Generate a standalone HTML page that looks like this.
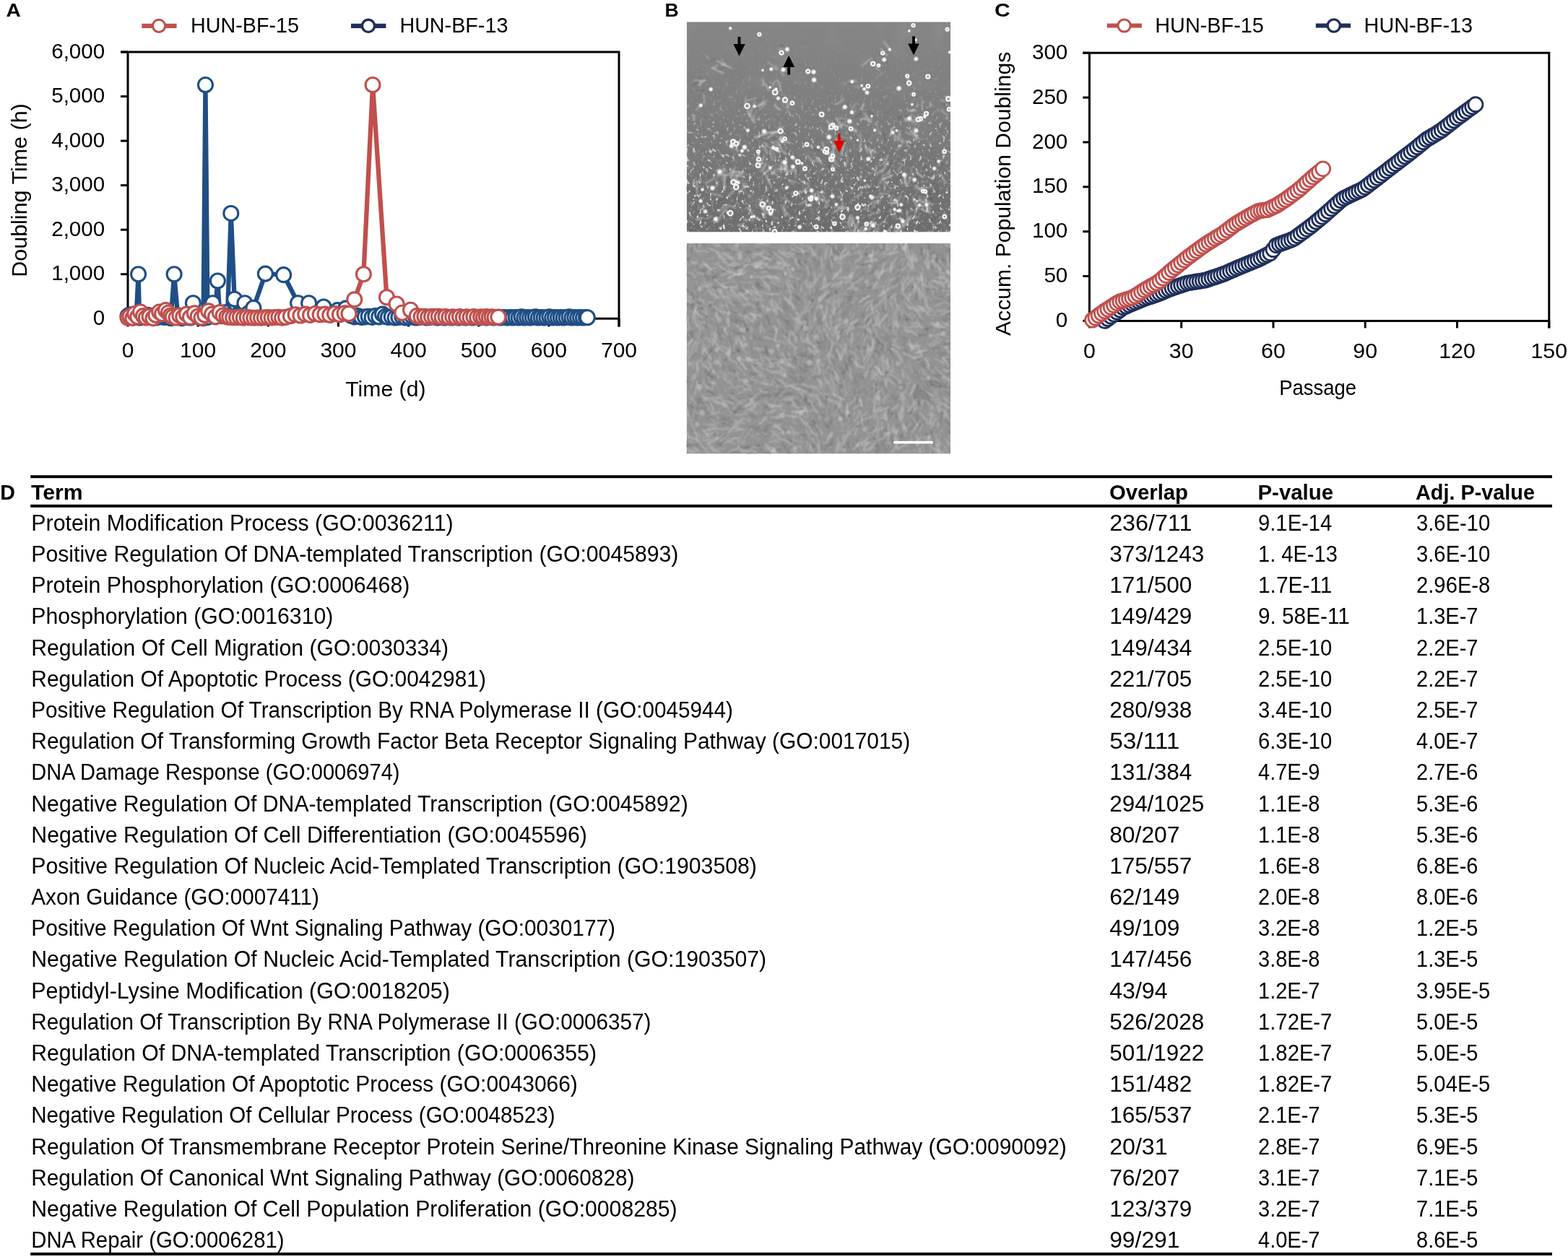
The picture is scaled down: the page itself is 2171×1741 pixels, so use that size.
<!DOCTYPE html>
<html><head><meta charset="utf-8"><title>Figure</title>
<style>html,body{margin:0;padding:0;background:#fff;}body{width:2171px;height:1741px;overflow:hidden;}svg{display:block;}path.s0{fill:none;stroke:rgb(176,176,176);stroke-width:1.6;opacity:0.7;stroke-linecap:round}path.s1{fill:none;stroke:rgb(216,216,216);stroke-width:1.2;opacity:0.7;stroke-linecap:round}path.s2{fill:none;stroke:rgb(224,224,224);stroke-width:1.2;opacity:0.7;stroke-linecap:round}path.s3{fill:none;stroke:rgb(192,192,192);stroke-width:1.6;opacity:0.7;stroke-linecap:round}path.s4{fill:none;stroke:rgb(96,96,96);stroke-width:1.2;opacity:0.55;stroke-linecap:round}path.s5{fill:none;stroke:rgb(184,184,184);stroke-width:1.2;opacity:0.7;stroke-linecap:round}path.s6{fill:none;stroke:rgb(224,224,224);stroke-width:2;opacity:0.7;stroke-linecap:round}path.s7{fill:none;stroke:rgb(88,88,88);stroke-width:1.6;opacity:0.55;stroke-linecap:round}path.s8{fill:none;stroke:rgb(184,184,184);stroke-width:2;opacity:0.7;stroke-linecap:round}path.s9{fill:none;stroke:rgb(176,176,176);stroke-width:1.2;opacity:0.7;stroke-linecap:round}path.s10{fill:none;stroke:rgb(192,192,192);stroke-width:2;opacity:0.7;stroke-linecap:round}path.s11{fill:none;stroke:rgb(208,208,208);stroke-width:2;opacity:0.7;stroke-linecap:round}path.s12{fill:none;stroke:rgb(224,224,224);stroke-width:1.6;opacity:0.7;stroke-linecap:round}path.s13{fill:none;stroke:rgb(80,80,80);stroke-width:1.2;opacity:0.55;stroke-linecap:round}path.s14{fill:none;stroke:rgb(200,200,200);stroke-width:1.6;opacity:0.7;stroke-linecap:round}path.s15{fill:none;stroke:rgb(208,208,208);stroke-width:1.6;opacity:0.7;stroke-linecap:round}path.s16{fill:none;stroke:rgb(200,200,200);stroke-width:2;opacity:0.7;stroke-linecap:round}path.s17{fill:none;stroke:rgb(184,184,184);stroke-width:1.6;opacity:0.7;stroke-linecap:round}path.s18{fill:none;stroke:rgb(88,88,88);stroke-width:1.2;opacity:0.55;stroke-linecap:round}path.s19{fill:none;stroke:rgb(96,96,96);stroke-width:1.6;opacity:0.55;stroke-linecap:round}path.s20{fill:none;stroke:rgb(216,216,216);stroke-width:1.6;opacity:0.7;stroke-linecap:round}path.s21{fill:none;stroke:rgb(208,208,208);stroke-width:1.2;opacity:0.7;stroke-linecap:round}path.s22{fill:none;stroke:rgb(216,216,216);stroke-width:2;opacity:0.7;stroke-linecap:round}path.s23{fill:none;stroke:rgb(176,176,176);stroke-width:2;opacity:0.7;stroke-linecap:round}path.s24{fill:none;stroke:rgb(200,200,200);stroke-width:1.2;opacity:0.7;stroke-linecap:round}path.s25{fill:none;stroke:rgb(192,192,192);stroke-width:1.2;opacity:0.7;stroke-linecap:round}path.s26{fill:none;stroke:rgb(80,80,80);stroke-width:1.6;opacity:0.55;stroke-linecap:round}path.s27{fill:none;stroke:rgb(232,232,232);stroke-width:1.2;opacity:0.7;stroke-linecap:round}path.s28{fill:none;stroke:rgb(232,232,232);stroke-width:2;opacity:0.7;stroke-linecap:round}path.s29{fill:none;stroke:rgb(232,232,232);stroke-width:1.6;opacity:0.7;stroke-linecap:round}path.s30{fill:none;stroke:rgb(112,112,112);stroke-width:2;opacity:0.5;stroke-linecap:round}path.s31{fill:none;stroke:rgb(192,192,192);stroke-width:2;opacity:0.55;stroke-linecap:round}path.s32{fill:none;stroke:rgb(112,112,112);stroke-width:1.2;opacity:0.5;stroke-linecap:round}path.s33{fill:none;stroke:rgb(200,200,200);stroke-width:2.4;opacity:0.55;stroke-linecap:round}path.s34{fill:none;stroke:rgb(208,208,208);stroke-width:2;opacity:0.55;stroke-linecap:round}path.s35{fill:none;stroke:rgb(184,184,184);stroke-width:2;opacity:0.55;stroke-linecap:round}path.s36{fill:none;stroke:rgb(176,176,176);stroke-width:2.4;opacity:0.55;stroke-linecap:round}path.s37{fill:none;stroke:rgb(96,96,96);stroke-width:1.2;opacity:0.5;stroke-linecap:round}path.s38{fill:none;stroke:rgb(104,104,104);stroke-width:1.6;opacity:0.5;stroke-linecap:round}path.s39{fill:none;stroke:rgb(176,176,176);stroke-width:2;opacity:0.55;stroke-linecap:round}path.s40{fill:none;stroke:rgb(176,176,176);stroke-width:1.6;opacity:0.55;stroke-linecap:round}path.s41{fill:none;stroke:rgb(120,120,120);stroke-width:1.6;opacity:0.5;stroke-linecap:round}path.s42{fill:none;stroke:rgb(200,200,200);stroke-width:2;opacity:0.55;stroke-linecap:round}path.s43{fill:none;stroke:rgb(192,192,192);stroke-width:1.6;opacity:0.55;stroke-linecap:round}path.s44{fill:none;stroke:rgb(200,200,200);stroke-width:1.6;opacity:0.55;stroke-linecap:round}path.s45{fill:none;stroke:rgb(112,112,112);stroke-width:1.6;opacity:0.5;stroke-linecap:round}path.s46{fill:none;stroke:rgb(192,192,192);stroke-width:2.4;opacity:0.55;stroke-linecap:round}path.s47{fill:none;stroke:rgb(96,96,96);stroke-width:2;opacity:0.5;stroke-linecap:round}path.s48{fill:none;stroke:rgb(208,208,208);stroke-width:2.4;opacity:0.55;stroke-linecap:round}path.s49{fill:none;stroke:rgb(184,184,184);stroke-width:1.6;opacity:0.55;stroke-linecap:round}path.s50{fill:none;stroke:rgb(104,104,104);stroke-width:1.2;opacity:0.5;stroke-linecap:round}path.s51{fill:none;stroke:rgb(184,184,184);stroke-width:2.4;opacity:0.55;stroke-linecap:round}path.s52{fill:none;stroke:rgb(208,208,208);stroke-width:1.6;opacity:0.55;stroke-linecap:round}path.s53{fill:none;stroke:rgb(96,96,96);stroke-width:1.6;opacity:0.5;stroke-linecap:round}path.s54{fill:none;stroke:rgb(120,120,120);stroke-width:1.2;opacity:0.5;stroke-linecap:round}path.s55{fill:none;stroke:rgb(120,120,120);stroke-width:2;opacity:0.5;stroke-linecap:round}path.s56{fill:none;stroke:rgb(104,104,104);stroke-width:2;opacity:0.5;stroke-linecap:round}.rc{fill:rgb(150,150,150);stroke:rgb(245,245,245);stroke-width:2.2;filter:url(#bl2)}.rb{fill:url(#rg)}.dd{fill:rgb(90,90,90);opacity:.65}.lr{fill:none;stroke:rgb(210,210,210);stroke-width:1.3;opacity:.8}</style>
</head><body>
<svg width="2171" height="1741" viewBox="0 0 2171 1741">
<rect width="2171" height="1741" fill="#fff"/>
<defs>
<clipPath id="cpt"><rect x="950.8" y="30.3" width="365.2" height="291.2"/></clipPath>
<clipPath id="cpb"><rect x="950.8" y="337" width="365.2" height="291.5"/></clipPath>
<filter id="nz" x="0" y="0" width="100%" height="100%"><feTurbulence type="fractalNoise" baseFrequency="0.035 0.03" numOctaves="2" seed="3"/><feColorMatrix type="matrix" values="0 0 0 0 0.5  0 0 0 0 0.5  0 0 0 0 0.5  0.8 0 0 0 -0.4"/></filter>
<filter id="nz2" x="0" y="0" width="100%" height="100%"><feTurbulence type="fractalNoise" baseFrequency="0.25 0.18" numOctaves="2" seed="9"/><feColorMatrix type="matrix" values="0 0 0 0 0.59  0 0 0 0 0.59  0 0 0 0 0.59  1.6 0 0 0 -0.8"/></filter>
<filter id="bl" x="-5%" y="-5%" width="110%" height="110%"><feGaussianBlur stdDeviation="0.95"/></filter>
<filter id="bl2" x="-100%" y="-100%" width="300%" height="300%"><feGaussianBlur stdDeviation="0.7"/></filter>
<filter id="bl3" x="-5%" y="-5%" width="110%" height="110%"><feGaussianBlur stdDeviation="0.85"/></filter>
<linearGradient id="tgrad" x1="0" y1="0" x2="0" y2="1"><stop offset="0" stop-color="rgb(134,134,134)"/><stop offset="0.45" stop-color="rgb(125,125,125)"/><stop offset="1" stop-color="rgb(108,108,108)"/></linearGradient>
<linearGradient id="tmg" x1="0" y1="0" x2="0" y2="1"><stop offset="0" stop-color="#fff" stop-opacity="0"/><stop offset="0.35" stop-color="#fff" stop-opacity="0.15"/><stop offset="0.6" stop-color="#fff" stop-opacity="0.7"/><stop offset="1" stop-color="#fff" stop-opacity="1"/></linearGradient>
<mask id="tmask" maskUnits="userSpaceOnUse" x="950.8" y="30.3" width="365.2" height="291.2"><rect x="950.8" y="30.3" width="365.2" height="291.2" fill="url(#tmg)"/></mask>
<filter id="spk" x="0" y="0" width="100%" height="100%"><feTurbulence type="fractalNoise" baseFrequency="0.22 0.16" numOctaves="2" seed="21"/><feColorMatrix type="matrix" values="0 0 0 0 1  0 0 0 0 1  0 0 0 0 1  8 0 0 0 -4.9"/><feGaussianBlur stdDeviation="0.6"/></filter>
<filter id="spkd" x="0" y="0" width="100%" height="100%"><feTurbulence type="fractalNoise" baseFrequency="0.2 0.2" numOctaves="2" seed="33"/><feColorMatrix type="matrix" values="0 0 0 0 0.3  0 0 0 0 0.3  0 0 0 0 0.3  0 -8 0 0 3.4"/><feGaussianBlur stdDeviation="0.6"/></filter>
<radialGradient id="rg"><stop offset="0" stop-color="#fff" stop-opacity="1"/><stop offset="0.45" stop-color="#f4f4f4" stop-opacity="0.95"/><stop offset="1" stop-color="#ddd" stop-opacity="0"/></radialGradient>
</defs>
<g clip-path="url(#cpt)">
<rect x="950.8" y="30.3" width="365.2" height="291.2" fill="url(#tgrad)"/>
<rect x="950.8" y="30.3" width="365.2" height="291.2" filter="url(#nz)" opacity="0.35"/>
<rect x="950.8" y="30.3" width="365.2" height="291.2" filter="url(#spk)" mask="url(#tmask)" opacity="0.8"/>
<rect x="950.8" y="30.3" width="365.2" height="291.2" filter="url(#spkd)" mask="url(#tmask)" opacity="0.6"/>
<g filter="url(#bl)">
<path class="s0" d="M1150.1 209.3Q1151.3 213.8 1149.6 222.3"/>
<path class="s1" d="M1166.8 206Q1165.8 212.3 1165.3 216.2"/>
<path class="s2" d="M1150.3 214Q1149.5 217.9 1153.3 222.1"/>
<path class="s2" d="M1154.2 222.5Q1156.8 224.9 1157.9 228.3"/>
<path class="s3" d="M1154.9 229.2Q1155.1 230.4 1154.7 235.6"/>
<path class="s4" d="M1171.5 210.9Q1175.8 214.2 1176 217.9"/>
<path class="s5" d="M1150.3 211.6Q1148.3 213.9 1148.1 221"/>
<path class="s6" d="M1154.7 211.7Q1155.7 215.8 1154.9 223"/>
<path class="s7" d="M1065.6 271.9Q1070.3 276.5 1077.9 283.6"/>
<path class="s8" d="M1054.4 285.9Q1056.1 290.2 1062.6 295.9"/>
<path class="s7" d="M1047.6 285.7Q1045.4 291.8 1046.7 293.7"/>
<path class="s9" d="M1068.8 293.1Q1070 299.5 1072.3 306.2"/>
<path class="s3" d="M1085.9 288.8Q1088.8 295.9 1094.2 299.8"/>
<path class="s10" d="M1086 273.3Q1090.7 277.9 1093.9 281.3"/>
<path class="s11" d="M1059.3 285.7Q1060.3 288.5 1065.6 294.6"/>
<path class="s4" d="M1065.2 286.8Q1068.2 291.4 1068.9 295.7"/>
<path class="s12" d="M1085.8 282.5Q1084.2 291.5 1087.3 299.1"/>
<path class="s2" d="M1229.1 214.7Q1228.1 222.6 1223.1 226.8"/>
<path class="s8" d="M1222 235.7Q1215.8 236.9 1214.4 242.5"/>
<path class="s13" d="M1235.5 223.4Q1232.5 229.3 1228.6 235.7"/>
<path class="s4" d="M1211.6 235.3Q1213.4 236.5 1210.7 241.5"/>
<path class="s14" d="M1231.8 236.9Q1227 241.6 1225.6 242.3"/>
<path class="s3" d="M1222.7 241.7Q1222 249.1 1218.3 253.9"/>
<path class="s10" d="M1213.3 229.7Q1213.9 237.1 1211 241"/>
<path class="s6" d="M1235.7 242.3Q1228.2 245.5 1221.9 248.5"/>
<path class="s15" d="M1231.6 234.9Q1233.1 235.7 1230.8 241.2"/>
<path class="s16" d="M1101.7 239.1Q1100.3 242.8 1102.8 246.3"/>
<path class="s17" d="M1093.2 250Q1093.5 252.7 1098.7 255.7"/>
<path class="s18" d="M1100 241.7Q1103.6 245.7 1102.3 253"/>
<path class="s11" d="M1109.3 250.3Q1115 254.5 1119.5 254.6"/>
<path class="s18" d="M1223.3 286Q1215.3 290 1209.1 289.9"/>
<path class="s19" d="M1199.4 291.3Q1197.3 291.7 1191.1 294.9"/>
<path class="s19" d="M1193.7 298.8Q1188.1 298.8 1186.1 298.6"/>
<path class="s4" d="M1160.3 289.1Q1157.5 291.1 1154.5 295.2"/>
<path class="s10" d="M1165.9 285.4Q1162.7 291.1 1154.9 293.1"/>
<path class="s0" d="M1202.7 287.9Q1198.9 288.8 1194.7 289.7"/>
<path class="s15" d="M1217.7 294.7Q1207.7 294.8 1201.4 299.1"/>
<path class="s4" d="M1207 281.2Q1203 282.2 1199.1 284.8"/>
<path class="s17" d="M1185.5 142.5Q1181 147.5 1178.4 154"/>
<path class="s20" d="M1168.1 137.2Q1163.2 142.7 1156.2 144.4"/>
<path class="s4" d="M1174.8 141.2Q1172.3 147 1168.3 152.5"/>
<path class="s18" d="M1192.9 156.9Q1187.1 159.9 1184.5 161.9"/>
<path class="s6" d="M1195.9 143.5Q1195.2 146.3 1192.2 151.4"/>
<path class="s4" d="M979 297Q977 300.6 970 300.8"/>
<path class="s2" d="M1005 287.3Q998 288.9 994.6 293.6"/>
<path class="s14" d="M985.7 299.8Q983.3 299.3 979.1 303.1"/>
<path class="s15" d="M976.7 285.4Q975 288.4 971.2 288"/>
<path class="s6" d="M971.6 301.7Q969.8 302.3 965.2 304.6"/>
<path class="s18" d="M1001 273.5Q996.1 279.9 991.2 281.4"/>
<path class="s16" d="M1004.4 291.3Q997.9 297.2 995.2 304.7"/>
<path class="s21" d="M1063.2 85.6Q1069.8 90.6 1074.7 97.3"/>
<path class="s8" d="M1081.6 97.7Q1081.6 101 1085.3 105.2"/>
<path class="s3" d="M1073.4 90.6Q1073.7 92.7 1077 96.1"/>
<path class="s20" d="M1186.9 315Q1183.9 316 1181.2 320.3"/>
<path class="s3" d="M1171.4 320.5Q1170.2 325.9 1170.9 330.9"/>
<path class="s6" d="M1180 333.2Q1178.5 333.9 1179.6 339.3"/>
<path class="s18" d="M1194.8 317.4Q1194.8 322.6 1192.5 329.6"/>
<path class="s12" d="M1151.9 318.6Q1154.1 325.6 1151.9 330.4"/>
<path class="s14" d="M1183.5 314.1Q1184.6 316.9 1182 321.2"/>
<path class="s8" d="M1177.4 304.9Q1176.9 312.5 1177.2 317.3"/>
<path class="s10" d="M1181.7 305.6Q1184.4 314 1184.2 321.2"/>
<path class="s22" d="M1180.6 300.9Q1179.6 307.7 1181.2 310"/>
<path class="s4" d="M948.4 259.6Q954 261.6 963 266.2"/>
<path class="s19" d="M949.7 260.7Q954.5 261.8 963.6 266.8"/>
<path class="s4" d="M950.9 244.2Q953.9 244.6 960.3 248.4"/>
<path class="s23" d="M1258.5 104.7Q1256.7 110.5 1259.1 119.2"/>
<path class="s17" d="M1257.4 103.5Q1256 112.2 1257.4 119.2"/>
<path class="s15" d="M1071.3 186.6Q1066.4 188.4 1062.5 191.3"/>
<path class="s13" d="M1066.6 183.7Q1060.7 184.4 1058.8 185.5"/>
<path class="s10" d="M1074.4 181.7Q1073.5 183 1069.2 185.1"/>
<path class="s6" d="M1078 183Q1068 184 1062.1 183.7"/>
<path class="s6" d="M1061.6 184.7Q1053.3 187.2 1046.6 190.1"/>
<path class="s15" d="M1206.1 256.6Q1200.6 260.2 1191.2 259.3"/>
<path class="s1" d="M1222.7 273.5Q1213.4 272.1 1206.7 274.1"/>
<path class="s1" d="M1218.5 276.8Q1210.5 281.8 1206.9 288.8"/>
<path class="s5" d="M1233.7 263Q1230.6 265.3 1227.7 264.5"/>
<path class="s8" d="M1217.1 278.4Q1209.7 278.5 1205 281.9"/>
<path class="s10" d="M1229.7 268.5Q1225.5 268.5 1217.7 268.7"/>
<path class="s19" d="M1215.2 269Q1208.7 267.7 1204.9 270.1"/>
<path class="s19" d="M1216.2 250.5Q1214.3 259.4 1208.5 264.7"/>
<path class="s4" d="M1208.2 258.2Q1205.1 260.1 1203.8 264.5"/>
<path class="s15" d="M1277.6 139.3Q1275.5 147.4 1277.6 153"/>
<path class="s15" d="M1287.7 141.2Q1289.2 143.3 1287.4 148.2"/>
<path class="s15" d="M970 247.7Q967 251.9 964.4 252.4"/>
<path class="s10" d="M963.8 251Q965.8 258 964.8 267.9"/>
<path class="s22" d="M1073 144.9Q1074.5 149.2 1080.1 152.2"/>
<path class="s17" d="M1090.1 147.1Q1089.9 151.7 1093.8 159.1"/>
<path class="s20" d="M1086.8 132.6Q1087.5 138.8 1091.9 148"/>
<path class="s10" d="M1237.7 184.9Q1238.7 188.8 1239.2 195.6"/>
<path class="s17" d="M1237.9 175.1Q1235 181.7 1231.5 189.7"/>
<path class="s1" d="M1250.1 196.9Q1247.9 202.5 1241.3 207.5"/>
<path class="s11" d="M1246.1 181.4Q1244 190.3 1243.6 194.9"/>
<path class="s7" d="M1223.3 183Q1224.9 186.8 1226 194.9"/>
<path class="s10" d="M1030.3 303.4Q1036.8 305.7 1038.3 303.5"/>
<path class="s9" d="M1048.4 283Q1054.6 285.6 1058.2 291.6"/>
<path class="s22" d="M1021.6 311.7Q1026.1 313.2 1033.1 314"/>
<path class="s19" d="M1030 285.2Q1033.1 287 1040.2 290.4"/>
<path class="s21" d="M1036 286.4Q1040.7 292.9 1041.8 300.4"/>
<path class="s22" d="M1044.1 298.3Q1046.1 303.4 1052.8 304.4"/>
<path class="s14" d="M1034 288Q1037.5 289.4 1039.9 295.2"/>
<path class="s10" d="M1057.5 284.1Q1062.6 286.2 1063.6 287.8"/>
<path class="s0" d="M1170.6 286Q1166.3 285.3 1164.6 286.7"/>
<path class="s3" d="M1148 275.8Q1143.5 280.8 1141.6 287.8"/>
<path class="s13" d="M1137.5 278Q1130.4 277.5 1126.3 278.9"/>
<path class="s20" d="M1166.3 268.4Q1165.1 273.4 1160.2 273.4"/>
<path class="s16" d="M1190.8 268.2Q1188.3 272.7 1182.5 272.5"/>
<path class="s6" d="M1174.5 288.3Q1167 287.6 1163.7 289.7"/>
<path class="s17" d="M1159.4 290.1Q1154.6 294.5 1152 295.7"/>
<path class="s0" d="M1165.6 285.1Q1157.9 286.7 1152.4 287"/>
<path class="s13" d="M1146.6 270.4Q1143.3 275 1142.1 282.1"/>
<path class="s22" d="M994.1 243.2Q1002.2 241.3 1010.3 242.7"/>
<path class="s4" d="M1009.6 250.4Q1015.4 249.1 1017.9 246.4"/>
<path class="s18" d="M1015.8 233.4Q1019.7 235.8 1024.2 235.4"/>
<path class="s16" d="M995.1 233.9Q998 237.2 1003.8 235.9"/>
<path class="s2" d="M1016.3 246.6Q1021 243.7 1026.5 241.4"/>
<path class="s24" d="M1017.8 241.4Q1024.8 243.7 1029.7 244.7"/>
<path class="s18" d="M1008.8 249.9Q1013.7 248.5 1017.6 251.1"/>
<path class="s20" d="M1013 247.7Q1018.8 248.7 1025 251.4"/>
<path class="s6" d="M1014.7 238.4Q1024.3 237.3 1029 239.7"/>
<path class="s25" d="M1264.9 161.5Q1274.1 165.8 1280.6 167.8"/>
<path class="s18" d="M1277.6 155.5Q1280.5 159.6 1285.3 159.1"/>
<path class="s17" d="M1261 167.4Q1266.4 171.2 1270 171.3"/>
<path class="s24" d="M1247 269.9Q1243.7 276 1243.4 282.2"/>
<path class="s22" d="M1240.7 275.2Q1239 277.2 1240.5 281.4"/>
<path class="s13" d="M1242.2 287.4Q1242.5 296.8 1244.2 303.6"/>
<path class="s0" d="M1238 287.3Q1238.7 296.4 1241.2 302.7"/>
<path class="s15" d="M1233.8 274Q1232.4 278.4 1234.8 285.7"/>
<path class="s3" d="M1256.1 290.8Q1256.9 296 1256 304.8"/>
<path class="s1" d="M973.9 130.7Q976.2 136 974.3 144.1"/>
<path class="s15" d="M969.2 145Q968.4 146.8 964.6 152.5"/>
<path class="s22" d="M960.7 159.1Q960.4 162.8 961.1 166.8"/>
<path class="s18" d="M1285.9 263.5Q1286.1 273.3 1290.1 278.9"/>
<path class="s14" d="M1264.1 274.6Q1266.3 275.5 1270.9 281.2"/>
<path class="s11" d="M1275.9 288.9Q1281.6 293.5 1286.1 293.6"/>
<path class="s11" d="M1277.4 279.6Q1283.7 279 1288.9 282.7"/>
<path class="s9" d="M1260.7 290.3Q1264.3 290.3 1267.9 292.2"/>
<path class="s3" d="M1282.8 280.1Q1282.6 284 1287.3 287.5"/>
<path class="s18" d="M1286 262.5Q1295.1 265.7 1300.4 267"/>
<path class="s18" d="M1286.2 266.3Q1290.4 274.6 1292.8 278.3"/>
<path class="s20" d="M1270.3 259.2Q1274.1 262.9 1279.2 264.9"/>
<path class="s14" d="M1234.8 313.1Q1231 318.5 1228.2 324.1"/>
<path class="s12" d="M1257.2 309.3Q1254 309.4 1248.6 311.2"/>
<path class="s5" d="M1250.2 318.4Q1241.8 318.9 1237.2 317"/>
<path class="s13" d="M1239.5 327.2Q1234.3 330.5 1233.9 333"/>
<path class="s8" d="M1253.2 325.9Q1249.2 325.5 1243.3 328.7"/>
<path class="s4" d="M1260.1 325.5Q1252.9 330.6 1246.6 331.6"/>
<path class="s8" d="M1267.8 324Q1259.8 325.3 1254.6 324.4"/>
<path class="s10" d="M1242.1 326.6Q1233.6 328 1228.6 332.6"/>
<path class="s3" d="M1247.7 322.1Q1243.6 321 1238.7 322.2"/>
<path class="s9" d="M1240.5 318.6Q1235.9 322.8 1235.8 323.1"/>
<path class="s4" d="M1084 220.4Q1090.5 223.7 1092.6 223.4"/>
<path class="s23" d="M1098.4 220.1Q1105.3 225.7 1111.8 229.5"/>
<path class="s12" d="M1093.9 236.7Q1100.1 232.6 1101.6 233.4"/>
<path class="s4" d="M1106.7 221.6Q1113.5 222.8 1118.5 221"/>
<path class="s14" d="M1097.6 217.7Q1100.5 218.3 1102.5 221.6"/>
<path class="s1" d="M1091.8 249.6Q1096 249.3 1102.1 253.2"/>
<path class="s5" d="M1086.8 238.7Q1094.1 238.5 1100.8 236.4"/>
<path class="s18" d="M1072.3 199.3Q1076.8 201.9 1076.5 205.1"/>
<path class="s18" d="M1070.3 187.7Q1071.5 192.6 1073.8 193.4"/>
<path class="s16" d="M1078.4 201.9Q1081.6 208.4 1089.1 213.8"/>
<path class="s20" d="M1057.6 197.7Q1062 201.1 1063 202.5"/>
<path class="s14" d="M1068.8 196.1Q1071.8 201 1079.4 201.8"/>
<path class="s18" d="M1055.9 197.5Q1057.3 203.5 1058.9 204.6"/>
<path class="s12" d="M1264.1 153.2Q1262.6 154.1 1257.4 152.9"/>
<path class="s16" d="M1262.7 159.2Q1260.3 161.2 1253.4 165.8"/>
<path class="s26" d="M1258.8 160.3Q1252.5 161.9 1243.6 163"/>
<path class="s20" d="M1269.3 167Q1259.6 166.2 1252.8 167.4"/>
<path class="s6" d="M1268.1 153Q1267.1 151.7 1261.3 153.4"/>
<path class="s4" d="M1237.4 148Q1232.6 154.5 1225.8 157.5"/>
<path class="s10" d="M1120.5 258.6Q1114.2 264.2 1106 267.4"/>
<path class="s8" d="M1127 269.5Q1123 270.7 1117.9 274.1"/>
<path class="s27" d="M1116.9 277.1Q1110.4 282 1106.1 283.1"/>
<path class="s4" d="M1070 194.5Q1071.1 197.5 1073.5 199.6"/>
<path class="s26" d="M1061.1 204.4Q1063.2 208.4 1064.9 216.3"/>
<path class="s4" d="M1070.9 192.7Q1077.3 199.9 1078.8 203.9"/>
<path class="s23" d="M1074 196Q1078.5 198 1081.4 204.4"/>
<path class="s16" d="M1054.9 201.3Q1061 205 1062.1 213"/>
<path class="s2" d="M1079.5 189.5Q1084.6 194.2 1086.3 198.8"/>
<path class="s13" d="M1288.3 274.3Q1290 280.4 1293.1 283.2"/>
<path class="s15" d="M1264.3 276.6Q1267.2 282.9 1272 289.1"/>
<path class="s3" d="M1273.2 271.2Q1273.4 276.3 1276.2 280.6"/>
<path class="s15" d="M1280.3 282.4Q1285.8 289.3 1288.2 296.2"/>
<path class="s2" d="M1271.7 284.8Q1268.4 290.2 1265.9 300.4"/>
<path class="s4" d="M1278.8 270.3Q1280.4 276.3 1282.9 282.4"/>
<path class="s7" d="M1283.1 279.7Q1282.5 281.1 1284.3 286.5"/>
<path class="s20" d="M1291.9 310.1Q1294.3 316 1292 317.6"/>
<path class="s24" d="M1279.9 273Q1281 277.5 1282.4 283.4"/>
<path class="s26" d="M1023.6 201.3Q1022.7 206.3 1026.8 212.2"/>
<path class="s13" d="M1027.4 204.1Q1029.3 209.4 1027.8 217.7"/>
<path class="s6" d="M1019.6 203.1Q1018.5 205.1 1021.4 209.5"/>
<path class="s10" d="M1261.8 298.7Q1256.3 305.7 1255.3 311.5"/>
<path class="s22" d="M1288.1 320.6Q1279.6 323.4 1276.1 323.8"/>
<path class="s19" d="M1275.4 306.6Q1274.4 307.6 1271.5 312.2"/>
<path class="s26" d="M1237.8 323.9Q1232.8 325.4 1223.2 328.3"/>
<path class="s8" d="M1243.2 326.8Q1241.7 326.1 1236.5 329.5"/>
<path class="s11" d="M1060 143.6Q1056.3 144.9 1049.5 146"/>
<path class="s11" d="M1060.4 139.9Q1054.6 141.8 1052.2 145.2"/>
<path class="s23" d="M1047.5 135.5Q1038.7 138.4 1033.5 139.3"/>
<path class="s4" d="M1057.7 140.4Q1050.3 137.8 1045.4 139.7"/>
<path class="s17" d="M1057.9 146.5Q1054.5 149.4 1052 151.9"/>
<path class="s10" d="M1137.9 269.7Q1142.8 273.9 1142.9 279.4"/>
<path class="s16" d="M1132.4 265.9Q1133.2 273 1137.7 277.4"/>
<path class="s3" d="M1115.2 278Q1117.9 283.6 1117.1 287"/>
<path class="s0" d="M1143.1 278.1Q1144.6 281.3 1145.5 286.9"/>
<path class="s11" d="M1131.3 272.5Q1133.2 278.1 1131.5 280.2"/>
<path class="s4" d="M1225.3 318.7Q1219.8 322.5 1215.7 324.1"/>
<path class="s7" d="M1234.9 284.3Q1230.7 290.3 1225.8 292.1"/>
<path class="s22" d="M1252.7 310.7Q1245.1 317.7 1239.4 321"/>
<path class="s4" d="M1248 311.5Q1244 318.5 1235.1 320.8"/>
<path class="s18" d="M1286.3 266.4Q1296.4 263.3 1302.5 264.4"/>
<path class="s13" d="M1276.9 225.8Q1283.4 234.6 1285.7 239.7"/>
<path class="s7" d="M1291.9 220.2Q1297.8 222.5 1305.6 228.2"/>
<path class="s4" d="M1288.5 247.2Q1291.4 251.2 1299 259.9"/>
<path class="s18" d="M1271 243.4Q1271 247 1275.2 247.7"/>
<path class="s3" d="M1276.6 260.7Q1282.5 260.1 1290.9 258.6"/>
<path class="s10" d="M1276.5 258.6Q1278 261.5 1282.6 267.3"/>
<path class="s18" d="M1281.2 255.7Q1284.9 257.1 1288.4 260.9"/>
<path class="s7" d="M1071.7 178.7Q1066.2 179.7 1063.5 181.6"/>
<path class="s12" d="M1082.6 180Q1074 183 1066.2 184.3"/>
<path class="s0" d="M1084.3 175.1Q1083.3 177.6 1077.6 175.9"/>
<path class="s18" d="M1091.6 183.9Q1091.6 189.9 1087.8 191.2"/>
<path class="s28" d="M1084 188.7Q1080.6 192.2 1079.9 193.7"/>
<path class="s8" d="M1083.2 175.6Q1079.5 180.5 1078.2 180.9"/>
<path class="s10" d="M1073.4 111.8Q1069.5 116.6 1069.7 119.8"/>
<path class="s20" d="M1076.5 110.4Q1079.7 116.4 1081.5 126.3"/>
<path class="s12" d="M1056.1 110.6Q1058.2 117 1055.8 118.7"/>
<path class="s16" d="M1059.6 116.3Q1063.6 123.2 1064.3 125.5"/>
<path class="s3" d="M1254.4 183.4Q1260.8 185.3 1266 187.8"/>
<path class="s10" d="M1264.3 179.9Q1268.2 185.7 1268.2 194.8"/>
<path class="s22" d="M1264.4 183.6Q1268.9 186.8 1271.3 191.5"/>
<path class="s15" d="M1247.9 192.7Q1253.7 197.8 1259.4 204.1"/>
<path class="s8" d="M1240.3 188Q1241.6 191.2 1244.6 193"/>
<path class="s18" d="M1251.5 196.4Q1257.2 200.2 1265.7 200.6"/>
<path class="s7" d="M1148.6 222.7Q1147.3 226.1 1149.1 232.4"/>
<path class="s12" d="M1168.5 199.7Q1168 207.8 1164.4 212.9"/>
<path class="s22" d="M1155.5 202.2Q1153.7 209.9 1150.3 217.9"/>
<path class="s18" d="M1162.7 202.1Q1164.4 210.1 1170 213.2"/>
<path class="s16" d="M1138.3 197Q1141.3 204.7 1142.9 210"/>
<path class="s16" d="M1157.9 192.6Q1157.8 199 1153.2 204"/>
<path class="s17" d="M1172.7 208.2Q1171.8 217.2 1173.6 224.9"/>
<path class="s23" d="M1147.7 212.4Q1151.3 220.6 1153.2 224.4"/>
<path class="s18" d="M993.2 98.1Q1000.1 94.7 1006.7 93.4"/>
<path class="s14" d="M984.7 94Q989.5 94.6 994 90.8"/>
<path class="s20" d="M999.2 83Q1001.5 85.1 1004.5 87.5"/>
<path class="s5" d="M976.5 76.5Q980.1 81.8 983.2 82.1"/>
<path class="s4" d="M1027.4 247.8Q1023.3 248.3 1023.7 253.1"/>
<path class="s4" d="M1018.5 269.5Q1017.3 272.9 1016.5 275.2"/>
<path class="s21" d="M1022.2 243.3Q1021.4 246.3 1017 250.2"/>
<path class="s10" d="M1028.1 253.4Q1028.6 256.4 1030.2 259.8"/>
<path class="s28" d="M1004.2 245.8Q1001.9 253.2 1003.4 262.6"/>
<path class="s3" d="M1005.1 243.4Q1000.2 244.5 999.9 249.6"/>
<path class="s19" d="M1007.4 250.5Q1006.7 256 1006.8 263.4"/>
<path class="s26" d="M1011.4 239.3Q1008.5 246.8 1005.5 251.3"/>
<path class="s10" d="M1017.8 262.2Q1013.8 266.5 1008.2 271.4"/>
<path class="s14" d="M1033.1 254Q1029.4 260.9 1026.9 264.4"/>
<path class="s21" d="M1249.9 227.2Q1245.3 233.4 1243.2 237.5"/>
<path class="s18" d="M1270.8 242.1Q1268 246.6 1265.2 255.9"/>
<path class="s19" d="M1247.7 239.7Q1245.2 245.8 1241.1 254.1"/>
<path class="s16" d="M1254.9 242.4Q1253.1 245.9 1252 254.2"/>
<path class="s14" d="M1261.9 244.2Q1260.2 249.5 1255.3 256"/>
<path class="s4" d="M1238.6 240.6Q1239.2 246.4 1236.9 250.9"/>
<path class="s20" d="M1251.5 243.4Q1254.2 249.5 1254.6 257.8"/>
<path class="s7" d="M1246.9 234.1Q1245.7 239.6 1245.8 246.9"/>
<path class="s2" d="M1066.5 207.4Q1066.6 213.5 1070 222.8"/>
<path class="s3" d="M1066 235.9Q1074.1 239.4 1078.4 245.6"/>
<path class="s25" d="M1070.4 209.1Q1073.2 218.2 1074.3 223"/>
<path class="s22" d="M1061 242.8Q1062.1 247.8 1067.6 256.8"/>
<path class="s0" d="M1073.5 225.8Q1076.9 230.9 1084.7 233.2"/>
<path class="s25" d="M1073.8 232.2Q1074.7 234.3 1080.3 238.3"/>
<path class="s15" d="M1058.3 215.9Q1055.8 220.8 1054.3 225.7"/>
<path class="s23" d="M1086.3 228.3Q1082 231 1079.7 234.7"/>
<path class="s4" d="M1068.8 232Q1064.2 238.1 1057.6 242.3"/>
<path class="s11" d="M1060.5 225.9Q1059.3 230.2 1054.4 237.6"/>
<path class="s5" d="M1054.2 221.4Q1053 231.5 1051.7 236.7"/>
<path class="s12" d="M1072.6 235.4Q1071 240.7 1068.8 241.6"/>
<path class="s4" d="M1078.8 229.3Q1078.4 236.3 1080.6 243.4"/>
<path class="s0" d="M1059.4 238.6Q1056.4 242 1056.2 243.9"/>
<path class="s6" d="M1066.8 232.8Q1064.7 235.1 1057.9 240.5"/>
<path class="s1" d="M969.8 290.1Q975.7 289.8 978.3 292.7"/>
<path class="s14" d="M985.5 268.1Q993.8 269.6 1000.5 272.4"/>
<path class="s3" d="M1002.5 284.1Q1011.2 283.9 1018.1 288.1"/>
<path class="s20" d="M1194.4 314.4Q1191.4 316.1 1188 322.4"/>
<path class="s6" d="M1197.8 317.5Q1190.5 323.2 1186.4 328.8"/>
<path class="s14" d="M1188.3 307.9Q1186.5 312.8 1184.3 313"/>
<path class="s13" d="M1210.6 302.7Q1205.7 304.5 1198.6 310.8"/>
<path class="s10" d="M1178.7 298.1Q1174.6 305.3 1173.9 310.3"/>
<path class="s20" d="M1199.2 312.4Q1196.7 314.9 1197.2 321.3"/>
<path class="s0" d="M1220 323.5Q1214.9 327.5 1211 328.9"/>
<path class="s14" d="M1212.8 317Q1208.9 323.6 1209.8 326.2"/>
<path class="s29" d="M1202.5 205.6Q1206.8 210.5 1207 218.5"/>
<path class="s11" d="M1204 207.2Q1209.7 209.9 1213.6 211.7"/>
<path class="s14" d="M1190.7 184Q1192.1 193.9 1191.9 199.2"/>
<path class="s4" d="M1220.3 201.9Q1223.2 205.2 1225.3 211.4"/>
<path class="s29" d="M1190.8 200Q1190.5 205.4 1191.6 208.8"/>
<path class="s11" d="M1198 203.4Q1200.4 207.4 1200.8 210.1"/>
<path class="s4" d="M1225.7 80.1Q1222.4 83 1220.3 87.9"/>
<path class="s14" d="M1206.7 80.7Q1198.5 86.5 1193.9 91.2"/>
<path class="s9" d="M1221.9 99.5Q1219.5 102 1212.4 109"/>
<path class="s17" d="M1182.9 119.6Q1187.1 121.7 1190.3 120.6"/>
<path class="s3" d="M1174.2 113Q1179.4 110.8 1187.2 113"/>
<path class="s15" d="M1170.9 174.2Q1180.2 176.5 1186.5 180.9"/>
<path class="s5" d="M1158.9 185.4Q1167.2 190.4 1173.8 191.8"/>
<path class="s2" d="M1164 170.4Q1165.8 171.5 1171.1 173.4"/>
<path class="s5" d="M1158 164.6Q1167.1 162.5 1174 165.3"/>
<path class="s22" d="M1179.8 180.3Q1183.6 180.4 1185.7 183.4"/>
<path class="s7" d="M969.8 107.4Q965.6 111.2 961.6 116.9"/>
<path class="s6" d="M976.3 111Q970.6 112.4 968.1 118.3"/>
<path class="s15" d="M972.5 112.6Q966.9 111 960.9 111.5"/>
<path class="s4" d="M975.5 125.7Q970.3 126.7 965.8 125.7"/>
<path class="s11" d="M1038.5 157.2Q1039.6 161.1 1043.1 169"/>
<path class="s16" d="M1044.5 142.9Q1040.7 151.3 1037.9 158.2"/>
<path class="s3" d="M1043.9 158.2Q1043.3 165.2 1044.9 170.3"/>
<path class="s16" d="M1034.6 152.7Q1037.1 158.2 1036.5 159.5"/>
<path class="s8" d="M1032.1 134.7Q1032.3 142.5 1032.2 147.6"/>
<path class="s3" d="M1062.8 273.1Q1062.7 279.3 1066.7 283"/>
<path class="s6" d="M1052.5 279.1Q1053.5 286.5 1056 289.1"/>
<path class="s16" d="M1059.1 283.8Q1057.4 284.7 1055.2 289.6"/>
<path class="s8" d="M1059.2 292.2Q1057.2 296.6 1059.5 301.4"/>
<path class="s11" d="M1060.5 279Q1059.2 285.2 1057.8 289.2"/>
<path class="s13" d="M1067.5 272.9Q1065.3 281 1059.5 284.6"/>
<path class="s14" d="M1117.9 214.8Q1120.9 219.4 1127.2 225.7"/>
<path class="s23" d="M1126.3 222.1Q1128.4 223 1133.6 223.6"/>
<path class="s28" d="M1130 218.1Q1134.6 221.9 1137.6 226.3"/>
<path class="s19" d="M1132.9 207.8Q1135.4 210.6 1140.6 209.4"/>
<path class="s13" d="M1127.1 205.8Q1134.4 208 1141.2 211.8"/>
<path class="s3" d="M1223.3 306.3Q1217.8 310.7 1215 316.7"/>
<path class="s0" d="M1205.5 314.7Q1202.6 320.3 1200.9 329.2"/>
<path class="s23" d="M1210.8 303.7Q1204.9 310 1201.9 317.4"/>
<path class="s18" d="M1201.5 321.6Q1202.8 326 1201.2 332.8"/>
<path class="s4" d="M1305.2 142.9Q1308.5 149.6 1314.7 152.4"/>
<path class="s14" d="M1303.9 151.6Q1305.6 157 1311.5 158.7"/>
<path class="s16" d="M1308.7 134.2Q1309.8 133.9 1315.3 134.5"/>
<path class="s1" d="M1302.1 138Q1305.6 140.5 1308.2 140.1"/>
<path class="s3" d="M1224.5 249.4Q1225.3 254.9 1224.6 264.5"/>
<path class="s11" d="M1227.9 227.3Q1224.9 232.9 1220.2 238.9"/>
<path class="s4" d="M1251.3 285.7Q1249.6 289.5 1244 295.7"/>
<path class="s12" d="M1242.8 278.5Q1240.5 279.9 1234.1 282.5"/>
<path class="s15" d="M1271.6 300.7Q1270.5 301.1 1265 301.2"/>
<path class="s21" d="M1264.7 302.1Q1261.3 302.8 1254.9 307.3"/>
<path class="s4" d="M1251.7 300.1Q1247.2 304.3 1241.7 304.2"/>
<path class="s9" d="M1259.3 303.1Q1252.3 306.7 1246.8 305.4"/>
<path class="s23" d="M1292.3 283.3Q1285.1 279.7 1276.3 280.2"/>
<path class="s18" d="M1017.4 239.6Q1009.4 241.8 1005 246.4"/>
<path class="s23" d="M1029.8 239.2Q1024.1 242.6 1014.9 242.7"/>
<path class="s11" d="M1014.9 235.6Q1013.4 241.8 1011.9 245.4"/>
<path class="s16" d="M988.6 247Q982.1 251.2 976.9 254"/>
<path class="s23" d="M1003.8 232.2Q1002.2 237.3 998.8 241.9"/>
<path class="s2" d="M1018.1 230.5Q1016.5 238.6 1011.7 245.9"/>
<path class="s4" d="M1060.1 176.9Q1067.6 181.5 1071.9 181.5"/>
<path class="s12" d="M1080.3 193.3Q1088.2 195.2 1094.9 198.4"/>
<path class="s4" d="M1060.8 196Q1064.4 193.9 1067 194.7"/>
<path class="s16" d="M1301.9 241.4Q1306.5 245.7 1308.6 254"/>
<path class="s20" d="M1265.9 257.3Q1269.3 258.4 1275.5 264.3"/>
<path class="s6" d="M1268.8 237.6Q1271.1 240.8 1277.8 245.4"/>
<path class="s19" d="M1005.5 86.3Q999.6 84.2 992.7 85.7"/>
<path class="s11" d="M1012.3 94.3Q1003.3 89.9 999.1 89.5"/>
<path class="s12" d="M1001.5 101.3Q995.8 99.7 986.3 93.9"/>
<path class="s4" d="M993.6 82.7Q988.7 81.7 982 83.4"/>
<path class="s20" d="M1005.9 90.6Q999.1 87.2 992.3 84.3"/>
<path class="s3" d="M1192.3 320.2Q1188.9 323 1185.3 328.1"/>
<path class="s4" d="M1200.7 297.2Q1202.2 301.3 1199.1 303"/>
<path class="s0" d="M1177 309.9Q1172.7 315.5 1169.5 316.1"/>
<path class="s2" d="M1203.2 306.9Q1199.5 313.5 1197 315.5"/>
<path class="s25" d="M1212 168.8Q1214.6 174.3 1216.8 184.3"/>
<path class="s14" d="M1199.3 158.2Q1198.9 162.2 1202.7 167.5"/>
<path class="s19" d="M1201.7 154.1Q1203.6 154.7 1209.3 159.3"/>
<path class="s8" d="M1200.7 165.3Q1202.3 168.2 1203.4 170.8"/>
<path class="s16" d="M1199.4 162.5Q1203 163.5 1206 168.7"/>
<path class="s23" d="M1195.6 156Q1200.1 162.8 1202.3 164.8"/>
<path class="s4" d="M1077.4 219.6Q1077.7 224.4 1080.5 225.1"/>
<path class="s19" d="M1074.6 224.1Q1077.3 228 1076.3 230.1"/>
<path class="s15" d="M1081.9 224.1Q1080.9 230.2 1081.7 239.2"/>
<path class="s18" d="M1082.9 214.8Q1087.9 223.4 1088.1 229.4"/>
<path class="s14" d="M1050.5 208.9Q1049.9 215.1 1048 220.9"/>
<path class="s23" d="M1087.2 219.9Q1088.1 226.7 1085.5 233.9"/>
<path class="s20" d="M1088.1 224.1Q1088.4 229 1086.4 237.5"/>
<path class="s6" d="M1088.4 226.8Q1089.7 232.8 1090.5 242.2"/>
<path class="s25" d="M1076.3 67.3Q1082.9 67.8 1086.1 68.2"/>
<path class="s20" d="M1087.2 65.3Q1087.2 68.6 1092.1 71.2"/>
<path class="s7" d="M1081.1 61.5Q1084.6 63.9 1090.4 69.4"/>
<path class="s26" d="M1218.6 73Q1222.8 78 1227.4 86.2"/>
<path class="s16" d="M1223.7 57.6Q1229.4 64.4 1233.8 70.4"/>
<path class="s17" d="M1211.3 92.9Q1216.2 96.1 1217.5 97.6"/>
<path class="s15" d="M1219.4 67.5Q1224.1 72.9 1228.3 76.6"/>
<path class="s11" d="M1157.2 174.5Q1160.1 174 1166 176.6"/>
<path class="s11" d="M1144.4 167Q1148.7 171 1153.3 178.5"/>
<path class="s18" d="M1157.3 185.4Q1164.4 190.8 1170.5 195.7"/>
<path class="s11" d="M1158.4 164.7Q1160.8 168.1 1164.6 175"/>
<path class="s6" d="M1151.1 173.3Q1154.7 174.6 1157.3 173.7"/>
</g>
<circle class="rc" cx="1153.1" cy="216.2" r="2.1"/>
<circle class="rc" cx="1151" cy="220.5" r="2.9"/>
<circle class="rc" cx="1152.9" cy="234.4" r="1.9"/>
<circle class="rc" cx="1064.6" cy="288.5" r="2.7"/>
<circle class="rb" cx="1088.9" cy="260.3" r="3"/>
<circle class="rc" cx="1101.9" cy="267.5" r="2.5"/>
<circle class="rb" cx="1179.5" cy="155.6" r="3.9"/>
<circle class="rb" cx="976.6" cy="293" r="3.8"/>
<circle class="rb" cx="1067.7" cy="95.8" r="3.6"/>
<circle class="rb" cx="1084.5" cy="96.5" r="4.2"/>
<circle class="rb" cx="948.2" cy="258.4" r="2.9"/>
<circle class="rc" cx="1256.2" cy="105.3" r="2"/>
<circle class="rc" cx="1284.8" cy="106.1" r="2.6"/>
<circle class="rc" cx="1258.7" cy="115.1" r="2.7"/>
<circle class="rb" cx="1058.1" cy="182.1" r="4.5"/>
<circle class="rb" cx="1207.1" cy="273.3" r="4.2"/>
<circle class="rb" cx="1205.5" cy="271.9" r="3.4"/>
<circle class="rc" cx="1282.5" cy="157.5" r="2.6"/>
<circle class="rb" cx="1262.8" cy="144.7" r="2.7"/>
<circle class="rb" cx="986.5" cy="260.5" r="4.4"/>
<circle class="rb" cx="972.5" cy="262.5" r="3.1"/>
<circle class="rc" cx="1096.9" cy="142.7" r="2.4"/>
<circle class="rc" cx="1086.9" cy="138.5" r="3.1"/>
<circle class="rb" cx="1236" cy="183.5" r="3.5"/>
<circle class="rb" cx="1241.5" cy="180.9" r="2.7"/>
<circle class="rb" cx="1043.7" cy="299.9" r="3"/>
<circle class="rb" cx="1040.4" cy="300.6" r="2.9"/>
<circle class="rb" cx="1157.9" cy="283.1" r="3.3"/>
<circle class="rb" cx="1280.3" cy="161.7" r="3.3"/>
<circle class="rc" cx="1274.2" cy="164.6" r="2.7"/>
<circle class="rc" cx="1271.3" cy="165.5" r="2.6"/>
<circle class="rb" cx="1238.7" cy="290" r="3.1"/>
<circle class="rb" cx="1247.8" cy="283.5" r="3.5"/>
<circle class="rb" cx="1242.8" cy="292" r="2.7"/>
<circle class="rc" cx="1278" cy="264.7" r="2"/>
<circle class="rc" cx="1281.1" cy="265.3" r="2"/>
<circle class="rb" cx="1225.6" cy="321.9" r="4.4"/>
<circle class="rc" cx="1253.6" cy="331.3" r="2.4"/>
<circle class="rb" cx="1097.8" cy="230.9" r="4"/>
<circle class="rb" cx="1110.5" cy="226.1" r="2.5"/>
<circle class="rc" cx="1075.3" cy="206.6" r="1.9"/>
<circle class="rb" cx="1070.7" cy="204.7" r="4.1"/>
<circle class="rb" cx="1076.3" cy="206.6" r="2.9"/>
<circle class="rb" cx="1259.2" cy="164.2" r="4.2"/>
<circle class="rc" cx="1122.4" cy="275.2" r="2.7"/>
<circle class="rc" cx="1123.4" cy="274.3" r="1.9"/>
<circle class="rb" cx="1123" cy="276.9" r="3.6"/>
<circle class="rb" cx="1083" cy="195.7" r="3.4"/>
<circle class="rb" cx="1283" cy="283.6" r="3.6"/>
<circle class="rb" cx="1273" cy="284.1" r="3.3"/>
<circle class="rb" cx="1027.4" cy="209" r="3.6"/>
<circle class="rb" cx="1030.9" cy="203.9" r="4.6"/>
<circle class="rb" cx="1123.6" cy="263.8" r="4.1"/>
<circle class="rc" cx="1243.2" cy="313.1" r="2.7"/>
<circle class="rb" cx="1066.2" cy="120.9" r="2.6"/>
<circle class="rb" cx="1074.5" cy="123.2" r="2.9"/>
<circle class="rb" cx="1077.5" cy="136.2" r="3.6"/>
<circle class="rc" cx="1144.5" cy="210.8" r="2.5"/>
<circle class="rb" cx="1151" cy="218.8" r="3.1"/>
<circle class="rc" cx="1019.2" cy="259.2" r="3.3"/>
<circle class="rb" cx="1022.5" cy="253.1" r="3.1"/>
<circle class="rb" cx="1020" cy="252.1" r="3.3"/>
<circle class="rb" cx="1266.1" cy="249" r="4.1"/>
<circle class="rb" cx="1252.1" cy="242" r="4.2"/>
<circle class="rb" cx="1086.4" cy="224.8" r="4.5"/>
<circle class="rb" cx="1066.4" cy="232.3" r="3.4"/>
<circle class="rb" cx="1198.8" cy="317.1" r="3.1"/>
<circle class="rb" cx="1187.2" cy="324.5" r="3.3"/>
<circle class="rc" cx="1208.7" cy="88.3" r="2.7"/>
<circle class="rc" cx="1216.5" cy="90.6" r="1.8"/>
<circle class="rb" cx="1179.8" cy="113.1" r="3.4"/>
<circle class="rb" cx="1193.1" cy="118.5" r="2.7"/>
<circle class="rb" cx="1176.3" cy="168" r="4.5"/>
<circle class="rc" cx="1178" cy="178.3" r="2.3"/>
<circle class="rc" cx="1034.5" cy="146.8" r="3.3"/>
<circle class="rb" cx="1044.8" cy="147.2" r="3.1"/>
<circle class="rb" cx="1066.8" cy="295.8" r="3.9"/>
<circle class="rc" cx="1055.7" cy="283" r="3.2"/>
<circle class="rc" cx="1067.4" cy="292.2" r="2.6"/>
<circle class="rb" cx="1132.9" cy="203.9" r="3.2"/>
<circle class="rc" cx="1144.3" cy="207" r="3.1"/>
<circle class="rc" cx="1313.1" cy="137.1" r="2.9"/>
<circle class="rc" cx="1313.9" cy="151.4" r="2.2"/>
<circle class="rb" cx="1245.3" cy="291.7" r="3.7"/>
<circle class="rb" cx="1249.9" cy="306.5" r="4"/>
<circle class="rb" cx="996.4" cy="238" r="4.5"/>
<circle class="rb" cx="1293.6" cy="233.4" r="3.7"/>
<circle class="rc" cx="1199.8" cy="310.2" r="2.1"/>
<circle class="rb" cx="1187.4" cy="301.6" r="3.6"/>
<circle class="rb" cx="1208.8" cy="312.2" r="4.5"/>
<circle class="rb" cx="1207" cy="160.7" r="2.5"/>
<circle class="rc" cx="1082" cy="73.1" r="2.6"/>
<circle class="rb" cx="1089.9" cy="68.2" r="4.1"/>
<circle class="rb" cx="1224.2" cy="82.6" r="4.3"/>
<circle class="rb" cx="1231.7" cy="68.5" r="3"/>
<circle class="rc" cx="1152.8" cy="173.4" r="2.6"/>
<circle class="rc" cx="1150.8" cy="175.9" r="2.8"/>
<circle class="rc" cx="1157.9" cy="177.6" r="2.2"/>
<circle class="rb" cx="1197.3" cy="250.1" r="2.5"/>
<circle class="rb" cx="1107.1" cy="314.5" r="4"/>
<circle class="rb" cx="1126.5" cy="99.6" r="4.4"/>
<circle class="rc" cx="1137.6" cy="158.4" r="2.9"/>
<circle class="rc" cx="1011.2" cy="295.2" r="3.3"/>
<circle class="rc" cx="1015.5" cy="252.3" r="3.2"/>
<circle class="rb" cx="1012.9" cy="202.1" r="4.5"/>
<circle class="rb" cx="1314.8" cy="72.3" r="2.8"/>
<circle class="rc" cx="1264.5" cy="35.1" r="2.1"/>
<circle class="rc" cx="1307.8" cy="300" r="2.4"/>
<circle class="rc" cx="1114.5" cy="233.5" r="2.4"/>
<circle class="rc" cx="1118.7" cy="98.8" r="2.5"/>
<circle class="rc" cx="1080.7" cy="181.6" r="3.1"/>
<circle class="rb" cx="1268.4" cy="81.6" r="4"/>
<circle class="rb" cx="1147.7" cy="189.9" r="4.5"/>
<circle class="rb" cx="1152.7" cy="272" r="4"/>
<circle class="rb" cx="1169.7" cy="148.3" r="4.4"/>
<circle class="rb" cx="1299.5" cy="223.5" r="3.3"/>
<circle class="rc" cx="1049.9" cy="210.1" r="1.9"/>
<circle class="rb" cx="1267.6" cy="55.3" r="3.1"/>
<circle class="rb" cx="1187.4" cy="194.2" r="2.4"/>
<circle class="rb" cx="1056" cy="97.3" r="2.6"/>
<circle class="rb" cx="1035.4" cy="180.6" r="3.5"/>
<circle class="rc" cx="1104.9" cy="224.2" r="2.8"/>
<circle class="rc" cx="1049.5" cy="229" r="2.9"/>
<circle class="rb" cx="1123.7" cy="272.8" r="3.8"/>
<circle class="rb" cx="1244.6" cy="122.4" r="4.5"/>
<circle class="rc" cx="1307.6" cy="209.9" r="2.2"/>
<circle class="rc" cx="1073.1" cy="127.8" r="3.4"/>
<circle class="rb" cx="1211.1" cy="180.4" r="2.9"/>
<circle class="rb" cx="1200.5" cy="128.2" r="3.9"/>
<circle class="rc" cx="1265" cy="130.8" r="1.9"/>
<circle class="rb" cx="1268.6" cy="180.9" r="4"/>
<circle class="rb" cx="1097.2" cy="218" r="3.9"/>
<circle class="rc" cx="1141.8" cy="210.3" r="2"/>
<circle class="rc" cx="1155.5" cy="309.8" r="2.1"/>
<circle class="rc" cx="1222.1" cy="73.6" r="2.1"/>
<circle class="rc" cx="1311.6" cy="40.7" r="2"/>
<circle class="rb" cx="970.1" cy="278.4" r="3.6"/>
<circle class="rc" cx="1051.4" cy="47.6" r="2.1"/>
<circle class="rc" cx="1015.1" cy="196.3" r="3"/>
<circle class="rb" cx="1258.9" cy="42.9" r="2.7"/>
<circle class="rb" cx="1011.2" cy="39.2" r="3.1"/>
<circle class="rb" cx="970.3" cy="145.9" r="3.5"/>
<circle class="rc" cx="1130.1" cy="314.2" r="2.4"/>
<circle class="rc" cx="1187.5" cy="287.1" r="3.2"/>
<circle class="rc" cx="1166.5" cy="300.4" r="3.2"/>
<circle class="rb" cx="1196.7" cy="123.3" r="3.4"/>
<circle class="rc" cx="1086.8" cy="192.1" r="2.1"/>
<circle class="rb" cx="990.9" cy="303.7" r="4.5"/>
<circle class="rb" cx="1127.1" cy="110.7" r="4.6"/>
<circle class="rb" cx="1130.3" cy="275.2" r="4"/>
<circle class="rc" cx="1050.6" cy="220.6" r="2.6"/>
<circle class="rb" cx="984.2" cy="123.7" r="3.8"/>
<circle class="rc" cx="1019.2" cy="199" r="2.9"/>
<circle class="rc" cx="1201.9" cy="119.3" r="2.3"/>
<circle class="rb" cx="1202.3" cy="220.2" r="4.1"/>
<circle class="rb" cx="1225" cy="320.5" r="3"/>
<circle class="rc" cx="1072.6" cy="320.7" r="2.7"/>
<circle class="rc" cx="1117" cy="200.1" r="2.4"/>
</g>
<g clip-path="url(#cpb)">
<rect x="950.8" y="337" width="365.2" height="291.5" fill="rgb(146,146,146)"/>
<rect x="950.8" y="337" width="365.2" height="291.5" filter="url(#nz2)" opacity="0.45"/>
<g filter="url(#bl3)">
<path class="s30" d="M964.4 335.3Q965.6 340.3 963.8 341.6"/>
<path class="s31" d="M1165.6 567.1Q1165.1 574.8 1161.3 582.6"/>
<path class="s32" d="M1025.6 587.4Q1033 588.3 1035.4 588.1"/>
<path class="s33" d="M1229.6 564.3Q1224.5 565.5 1217.4 569.9"/>
<path class="s34" d="M1283.6 542.9Q1288.2 547.4 1291.2 547.6"/>
<path class="s35" d="M1177.3 470.3Q1177.8 482 1178.4 489.2"/>
<path class="s30" d="M1264.5 544.7Q1265.9 548 1267.2 551.7"/>
<path class="s36" d="M1000.3 410.3Q1003.2 411.3 1009 410"/>
<path class="s34" d="M1200.8 607.9Q1199.2 615 1195.2 623.9"/>
<path class="s37" d="M967.7 550.9Q965.3 556 967.6 559.2"/>
<path class="s32" d="M1008.5 558.7Q1010 562.9 1012.3 563.7"/>
<path class="s38" d="M1184.3 394.9Q1184.6 396.2 1182.5 402.4"/>
<path class="s35" d="M1006.5 421.4Q1006.9 425 1007.9 432"/>
<path class="s39" d="M1109.3 348Q1117.2 353.5 1124.5 355.5"/>
<path class="s35" d="M1104.9 469.5Q1113.4 475 1121 476.2"/>
<path class="s40" d="M1039.4 603.2Q1047.6 607 1051.5 609.3"/>
<path class="s41" d="M1300.3 491.9Q1302.9 490.2 1307.7 489.9"/>
<path class="s36" d="M1221 495.6Q1222.7 498.8 1226.7 502.3"/>
<path class="s42" d="M1051.3 587.2Q1055.9 584.2 1059.1 580.1"/>
<path class="s39" d="M1151.7 630.8Q1147.2 635.3 1146.2 640"/>
<path class="s34" d="M1077.2 505.5Q1084.5 511.6 1087 513.2"/>
<path class="s38" d="M1137.5 440.3Q1134.5 444.9 1133.8 448.3"/>
<path class="s38" d="M985.5 384Q992 382.1 995 380.2"/>
<path class="s43" d="M1081.3 633.9Q1087.4 634.9 1088.8 637.1"/>
<path class="s44" d="M1240.3 462.5Q1241.5 470.6 1238.1 473.7"/>
<path class="s45" d="M978.2 512.6Q979.6 519.5 977 526.1"/>
<path class="s45" d="M971.4 564.6Q976.5 569.5 980.6 573.6"/>
<path class="s38" d="M1091.9 448Q1090 453.6 1092 454.9"/>
<path class="s46" d="M1020 507.3Q1027.6 509.9 1030.8 517.3"/>
<path class="s47" d="M1120 558.7Q1123.9 558.4 1130.9 558.6"/>
<path class="s48" d="M944.9 479.8Q946.4 488.5 947.9 494.5"/>
<path class="s37" d="M1088.4 608.1Q1092.7 608.2 1095.6 612.3"/>
<path class="s44" d="M1286.1 391.3Q1292.1 398 1298.4 400.4"/>
<path class="s49" d="M1034.9 521.6Q1039.7 525.1 1042.6 524.9"/>
<path class="s34" d="M1250.9 586.4Q1250.2 595.6 1251.8 600.4"/>
<path class="s44" d="M1086.9 473.4Q1097.1 476.4 1102.7 483"/>
<path class="s43" d="M1304.4 522.9Q1314.6 521.3 1321.4 519.8"/>
<path class="s30" d="M944.2 512.1Q944.2 516.2 941.3 521.7"/>
<path class="s38" d="M1231.8 563.1Q1230.4 568.3 1229.8 575.5"/>
<path class="s48" d="M958.7 470Q953.8 477.1 946.9 481.7"/>
<path class="s45" d="M1210.7 610.9Q1207 611.9 1203 615.5"/>
<path class="s44" d="M963.7 501.7Q965.3 506.3 965.8 512"/>
<path class="s50" d="M1199.1 469.2Q1203.3 473.8 1206.4 477.3"/>
<path class="s32" d="M1138.1 479Q1135.3 487.1 1132.9 490.7"/>
<path class="s48" d="M1290.2 634.7Q1295.5 636.5 1301 634.4"/>
<path class="s37" d="M1220 506.7Q1217.2 507.4 1218.2 512.9"/>
<path class="s51" d="M1125.2 480.5Q1128.8 485.1 1131.2 487.3"/>
<path class="s49" d="M1302.8 548.1Q1309.8 552.3 1315.6 557.9"/>
<path class="s52" d="M962.7 441.9Q961.9 448.2 965.3 452.9"/>
<path class="s50" d="M970.9 554.5Q974.6 560.1 978.3 565.6"/>
<path class="s44" d="M1251.9 616Q1246.4 619.2 1243 622.1"/>
<path class="s37" d="M1172 348.2Q1173.6 352.2 1170.9 355.5"/>
<path class="s30" d="M1164.1 326.9Q1166.9 329 1168.5 332.4"/>
<path class="s32" d="M1264.6 509.4Q1265 513.8 1269.6 517.5"/>
<path class="s52" d="M1021.6 545.4Q1027.2 542.4 1032.7 543.8"/>
<path class="s37" d="M1235.6 545.8Q1236 552.1 1240.9 554.5"/>
<path class="s31" d="M1146 461.6Q1144.6 463.9 1140.3 470.9"/>
<path class="s45" d="M950.6 431.1Q952.3 434.6 953.2 440.5"/>
<path class="s43" d="M1094.9 554.7Q1096.1 551.9 1102.1 550.6"/>
<path class="s53" d="M1087.4 388.5Q1086.6 393.4 1089.4 401.4"/>
<path class="s37" d="M1060.5 482.5Q1060.7 485 1062.5 488.3"/>
<path class="s38" d="M941 433.8Q943.8 435.3 945.5 438.5"/>
<path class="s36" d="M1053.3 417.7Q1055.9 427.8 1059.9 433.2"/>
<path class="s52" d="M1307.1 523.7Q1311 525.6 1318.1 526.3"/>
<path class="s35" d="M1133.9 334.6Q1143.6 338.2 1151.4 343.9"/>
<path class="s34" d="M1200.9 634.9Q1198.8 637.6 1192.5 638.3"/>
<path class="s54" d="M942.2 514.7Q941.1 515.4 941 521"/>
<path class="s46" d="M1308.7 574.1Q1315.9 581.2 1319.1 589.3"/>
<path class="s38" d="M1307.3 518.2Q1313.5 519.6 1314.9 523.5"/>
<path class="s35" d="M1237 349.7Q1228.2 351.6 1222.5 353.7"/>
<path class="s34" d="M1204.5 604.8Q1197.6 609.4 1192 615.2"/>
<path class="s43" d="M1024.5 583Q1030 586.5 1031.6 587.3"/>
<path class="s37" d="M1216.6 426Q1214.9 431.9 1214.3 435.2"/>
<path class="s40" d="M1056.3 356.6Q1064.5 358.2 1070.2 354.9"/>
<path class="s55" d="M1294.1 587.4Q1289.3 593.9 1288.8 597.9"/>
<path class="s53" d="M1288.9 369.5Q1295 372.2 1296.6 373.4"/>
<path class="s45" d="M1102.8 375.2Q1105.2 374.9 1110 377"/>
<path class="s50" d="M1162.8 542.7Q1164.8 550.1 1166.7 553.8"/>
<path class="s50" d="M1043.2 341.5Q1046.3 342.6 1053.4 345.5"/>
<path class="s48" d="M1151.8 509.4Q1158.4 517.7 1161.7 525.5"/>
<path class="s55" d="M1314.7 635.8Q1320.8 635.4 1326 631.4"/>
<path class="s45" d="M1264.4 406.2Q1266.8 408.6 1270.8 415.1"/>
<path class="s32" d="M1063.6 395Q1065.6 399 1071.8 402.8"/>
<path class="s32" d="M1000.4 374.1Q1005.8 375.2 1008.2 378.4"/>
<path class="s43" d="M1221.5 506.6Q1224.4 514 1222.7 520.8"/>
<path class="s31" d="M1216.2 576.4Q1215.1 580.6 1216 587.7"/>
<path class="s34" d="M1209.4 346Q1206.8 354.4 1207.1 362.7"/>
<path class="s40" d="M945.3 480.9Q945.4 489.2 949.8 497.1"/>
<path class="s53" d="M950.7 326.9Q951.3 330.5 954.5 331.6"/>
<path class="s43" d="M1117.4 442.9Q1113.9 447.4 1112.1 456.6"/>
<path class="s48" d="M1218.6 506.1Q1216.8 511.3 1219.7 519.3"/>
<path class="s33" d="M1190.7 550.9Q1192.7 558 1192.7 561.4"/>
<path class="s37" d="M939.8 614.6Q941.9 619.5 947 623.1"/>
<path class="s38" d="M984.5 597.2Q990.4 594.4 993.7 592.3"/>
<path class="s45" d="M970.7 491.6Q972.6 494 969.8 498.1"/>
<path class="s51" d="M1312 613.7Q1315.6 618.7 1322.4 627.2"/>
<path class="s38" d="M1190.3 517.1Q1191.8 520.7 1198.1 525.1"/>
<path class="s56" d="M1144.4 457.5Q1146.8 461 1148 463.3"/>
<path class="s37" d="M1259.8 339.8Q1260 342.9 1261 350.4"/>
<path class="s49" d="M1262 477.1Q1262.3 480 1266.1 484.4"/>
<path class="s49" d="M1120.2 354.1Q1121.5 363.6 1124.3 370.5"/>
<path class="s44" d="M1198.7 343.3Q1194 351.3 1191.1 354.5"/>
<path class="s40" d="M1116.1 339.2Q1122.8 347.6 1130.6 352.2"/>
<path class="s45" d="M1308.4 541.3Q1314.5 546.4 1316.4 548.1"/>
<path class="s34" d="M1275.5 581.9Q1268.7 588.1 1264.9 595.5"/>
<path class="s51" d="M1032.5 625.9Q1037.6 625.9 1046.5 627.1"/>
<path class="s31" d="M971.7 446.8Q971.5 452.5 974.5 456.4"/>
<path class="s31" d="M1140.1 450.3Q1139.5 453.4 1139 458.9"/>
<path class="s41" d="M1167.1 467.2Q1163.4 471.7 1163.3 475.2"/>
<path class="s36" d="M1110 544.4Q1119.3 544.2 1123.9 548.8"/>
<path class="s45" d="M1121.1 421.7Q1117.2 427.8 1118.2 433.4"/>
<path class="s50" d="M1182.8 521.4Q1184.8 528.3 1182.7 531.7"/>
<path class="s49" d="M1252.1 512.1Q1254.3 515.7 1258.4 522.3"/>
<path class="s46" d="M1311.7 611.6Q1318.8 616 1329.1 616.5"/>
<path class="s34" d="M1206.2 434.7Q1200.7 438 1197.1 443.7"/>
<path class="s34" d="M1109 343.7Q1112.3 347.1 1114.1 353.8"/>
<path class="s31" d="M1047.8 404.4Q1056.9 405 1063.4 406.6"/>
<path class="s47" d="M1102.4 530.4Q1107.7 528.5 1108.9 529.5"/>
<path class="s48" d="M987.5 514.8Q993.2 517.6 994.4 523.7"/>
<path class="s34" d="M1120.5 612Q1121.1 617.4 1125.6 626.9"/>
<path class="s38" d="M1108.2 539.1Q1115.2 537.6 1122.1 539.1"/>
<path class="s44" d="M1066.5 578.1Q1075.7 578.3 1085.5 577.8"/>
<path class="s37" d="M1032.1 620.9Q1033.9 620.2 1038.4 616"/>
<path class="s31" d="M1188.6 561.5Q1184.4 563.8 1182.7 567.6"/>
<path class="s44" d="M1143.8 439.8Q1142.1 448 1144.1 452"/>
<path class="s53" d="M990.8 368.9Q998.4 364.2 1001.8 362.7"/>
<path class="s40" d="M1198 504.7Q1197.9 509.8 1193.1 514"/>
<path class="s53" d="M1129.1 611.1Q1129.4 615.1 1125.3 619.2"/>
<path class="s53" d="M1274.5 341.6Q1277 347.5 1276.9 354.2"/>
<path class="s47" d="M1210.5 485.5Q1215.1 485.5 1216.9 490.2"/>
<path class="s52" d="M1136.3 413.3Q1131.9 422.4 1130.4 429.2"/>
<path class="s38" d="M1066.1 465.4Q1070.6 469.9 1070.2 476.8"/>
<path class="s53" d="M1049.7 489Q1052.6 488.3 1059.3 488"/>
<path class="s46" d="M990.9 429.3Q993.8 438.8 998.2 444.5"/>
<path class="s31" d="M996.3 395Q1003.6 399.3 1010.9 401.4"/>
<path class="s32" d="M1200.4 470.8Q1201.1 476 1204.3 478.4"/>
<path class="s37" d="M1196 366.6Q1192.6 367.5 1185.1 371.2"/>
<path class="s45" d="M1045.6 555.8Q1050.4 554.4 1055.5 549.2"/>
<path class="s34" d="M1233.2 482.4Q1239.4 483 1240.9 488.5"/>
<path class="s50" d="M1103 360.9Q1108.7 364.7 1114 368.1"/>
<path class="s31" d="M1106.7 616.7Q1110.1 622.5 1109.7 624.3"/>
<path class="s50" d="M1238.2 403.6Q1233.4 407.8 1230.4 414.3"/>
<path class="s52" d="M1156.1 415.4Q1154.4 418.8 1148.9 420.3"/>
<path class="s31" d="M1036.3 527.5Q1040.9 525.1 1048.2 527"/>
<path class="s48" d="M1149.8 344.5Q1152.2 353.1 1155.5 362.7"/>
<path class="s45" d="M1308.6 504.9Q1311.9 505.1 1319.5 510.1"/>
<path class="s30" d="M1223.8 632.5Q1220.9 637.6 1222.1 644.4"/>
<path class="s53" d="M1297.1 354.7Q1297.2 360.1 1294.8 366.3"/>
<path class="s44" d="M1282.2 387.4Q1280.1 395.8 1282.8 400.2"/>
<path class="s50" d="M1279.4 549.2Q1280.7 552.9 1285.7 552.1"/>
<path class="s38" d="M1218.4 536.5Q1217.4 539 1215 542.9"/>
<path class="s53" d="M1245.5 437.7Q1245.6 439.1 1244.5 443.9"/>
<path class="s36" d="M985.1 492.5Q983 501.4 984.6 508.7"/>
<path class="s34" d="M1116.1 469.1Q1122.6 474.7 1126.6 479.7"/>
<path class="s38" d="M1234.9 571.8Q1234.9 575.9 1231.1 579"/>
<path class="s36" d="M1096.2 574.6Q1100.3 578.3 1102.4 586.5"/>
<path class="s32" d="M1065.3 374.6Q1072.1 377.1 1076.8 374.7"/>
<path class="s46" d="M1030.9 570.6Q1040.1 565.1 1045.7 562.6"/>
<path class="s32" d="M1037.1 556Q1043 552.6 1047.4 550.3"/>
<path class="s54" d="M1324.1 351.1Q1327.1 357 1326.3 360.1"/>
<path class="s35" d="M991.3 452.1Q991 458.8 990.9 469.3"/>
<path class="s39" d="M1135.7 558Q1143.9 562 1148.8 565.2"/>
<path class="s53" d="M1163.5 526Q1164.9 533.9 1164.4 537.6"/>
<path class="s48" d="M994.9 366.7Q1003.5 374.5 1010.6 377.5"/>
<path class="s38" d="M1134.5 361.3Q1133.4 366.2 1133.7 367.8"/>
<path class="s38" d="M1048.1 387.2Q1051.4 387.6 1056.1 384.2"/>
<path class="s53" d="M1290.7 619.1Q1292.7 624.9 1290.9 628.2"/>
<path class="s43" d="M1184.6 571.4Q1179.7 575.7 1175.5 584.6"/>
<path class="s37" d="M1047.7 419.9Q1048.7 422.5 1051 426.8"/>
<path class="s36" d="M1014.6 567.4Q1021.6 559.5 1025.9 555.5"/>
<path class="s50" d="M1204.3 375Q1200.7 378.7 1194.5 380.3"/>
<path class="s41" d="M1130.9 548.8Q1137.1 550.2 1141.4 555.5"/>
<path class="s30" d="M1161.7 445Q1157.1 450 1153.8 451.2"/>
<path class="s36" d="M1281.8 555.6Q1289.5 564.1 1293.9 567.8"/>
<path class="s39" d="M967.4 426.4Q971.6 428.5 976.6 434.8"/>
<path class="s42" d="M986 621.3Q989.4 624.9 997.4 625.5"/>
<path class="s53" d="M1023.4 401.5Q1029.1 402.7 1032.9 405.3"/>
<path class="s37" d="M973.2 462.8Q969.8 467.2 967.2 472.8"/>
<path class="s51" d="M1084.7 360.9Q1085.1 365.2 1089.8 374.1"/>
<path class="s49" d="M966.8 367.1Q972.4 364.7 980.4 366.7"/>
<path class="s45" d="M998.1 515.6Q999.2 521.4 1002.8 524.6"/>
<path class="s48" d="M1275.5 379.4Q1277.5 389.7 1277.6 397"/>
<path class="s36" d="M1010.9 385Q1014.2 389.2 1020.2 392.1"/>
<path class="s31" d="M1189.7 346.4Q1184.2 351.1 1176.8 353.7"/>
<path class="s44" d="M1014.4 537.4Q1018.8 536.5 1027 534.7"/>
<path class="s34" d="M1009 431.9Q1008 439.3 1007.7 447.1"/>
<path class="s31" d="M1215.5 325.6Q1217.2 335.2 1219.9 343.8"/>
<path class="s31" d="M1315.6 602.4Q1315.8 604.8 1320.1 611.4"/>
<path class="s48" d="M1266.9 495Q1269.4 496 1275.1 493.3"/>
<path class="s37" d="M1246.3 336.6Q1246.6 341.6 1243.2 342.4"/>
<path class="s48" d="M1102.4 571.5Q1109.8 571.3 1113 567.9"/>
<path class="s51" d="M974 606.5Q980.5 602.3 990.1 599"/>
<path class="s53" d="M956.5 422.1Q959.8 426.9 960.5 431.2"/>
<path class="s32" d="M1115.2 375.6Q1115 383.4 1113.7 386.4"/>
<path class="s48" d="M1290.7 571.9Q1290.1 578.4 1287.3 587.3"/>
<path class="s44" d="M1240.3 591.4Q1236.6 595.2 1236.1 598.8"/>
<path class="s42" d="M1188.9 584.1Q1187 593.3 1183.3 603.1"/>
<path class="s49" d="M985.8 459Q989.6 463.6 998.1 466.3"/>
<path class="s38" d="M1270.5 583.9Q1265.2 588 1262.9 595.3"/>
<path class="s50" d="M1217.5 344.1Q1211.3 343 1209.6 345.6"/>
<path class="s50" d="M1083.9 458.1Q1084.5 464 1086.6 465.3"/>
<path class="s48" d="M1001.6 450.6Q1002.8 457.8 1006.8 462.7"/>
<path class="s44" d="M971.8 627.7Q978.6 627.6 983.5 628.9"/>
<path class="s43" d="M1024.8 337.9Q1030.4 337.7 1033.5 339.9"/>
<path class="s48" d="M1183.5 502.2Q1187.8 508 1195.5 508.9"/>
<path class="s41" d="M1018.6 381.9Q1022.2 383.9 1026.5 384.5"/>
<path class="s50" d="M946.4 602.7Q946.2 608.7 947.8 615.9"/>
<path class="s48" d="M1243.3 490.9Q1248.5 496 1248.7 501.5"/>
<path class="s46" d="M983.7 551.8Q988.5 552.3 997.2 550.5"/>
<path class="s36" d="M1268.4 429.2Q1271.4 428.2 1276.9 431.4"/>
<path class="s41" d="M1257.8 633.4Q1254.9 635.8 1252.4 638.3"/>
<path class="s45" d="M1057.2 575.5Q1059.8 571.3 1067.2 567"/>
<path class="s43" d="M1235.8 433.7Q1237.2 438.5 1243 441.3"/>
<path class="s56" d="M1073.8 547.7Q1080.5 542.8 1083.7 541.1"/>
<path class="s50" d="M1101 581.8Q1107.4 585 1109.9 591"/>
<path class="s43" d="M1217.5 522.9Q1210.7 527.7 1208.6 535.4"/>
<path class="s46" d="M1059.4 556.4Q1065.1 560.6 1070.2 563.3"/>
<path class="s52" d="M1217 441.9Q1216.7 446.3 1219.1 455.4"/>
<path class="s32" d="M1254.8 436.9Q1253.5 443.2 1255.2 444.6"/>
<path class="s42" d="M1246.6 326Q1253.3 332.7 1256.3 342.8"/>
<path class="s54" d="M1038.2 366.9Q1040.7 368.4 1045.3 369.5"/>
<path class="s39" d="M1033.5 412Q1038.3 413.3 1046.8 409.8"/>
<path class="s42" d="M942.1 568.3Q945.9 570.3 949.3 574.4"/>
<path class="s38" d="M1274.8 634.6Q1275.9 634.3 1280.6 638.3"/>
<path class="s38" d="M965.7 525.4Q960.9 528.5 958.1 531.8"/>
<path class="s30" d="M1101.4 574.9Q1107.2 576.5 1110.7 578.2"/>
<path class="s48" d="M1037.2 431.2Q1040.9 435.5 1048.9 443.6"/>
<path class="s32" d="M1077.4 359.4Q1083.1 360 1088.8 364.4"/>
<path class="s40" d="M1004.8 573.8Q1013.5 578.7 1020.2 583.3"/>
<path class="s32" d="M1107.1 575.4Q1111.3 579.9 1116.2 580.4"/>
<path class="s39" d="M1262.5 449.3Q1269.9 452.7 1277.1 454.3"/>
<path class="s38" d="M947.4 471.1Q943.1 473.8 938.8 481"/>
<path class="s46" d="M1305.2 402.3Q1313.5 404 1317.4 402.3"/>
<path class="s46" d="M959.8 330.7Q955.5 338 956 341.7"/>
<path class="s34" d="M1290.1 448.8Q1300.5 450.7 1309.1 454"/>
<path class="s34" d="M1010.7 480.2Q1009.2 486.6 1009.1 494.3"/>
<path class="s53" d="M1170 502.4Q1171.7 507.4 1176.1 514.4"/>
<path class="s49" d="M1093.6 347.8Q1099.1 343.6 1107.4 344.1"/>
<path class="s40" d="M983.7 568.3Q991.1 576.6 996.5 582.1"/>
<path class="s46" d="M1152.5 422Q1154.4 430 1155.9 435.6"/>
<path class="s42" d="M1170.9 343.2Q1167.3 352.1 1165.8 358.8"/>
<path class="s30" d="M1273.8 463.5Q1278.9 464.2 1280.1 464.4"/>
<path class="s49" d="M1288 446.5Q1291.9 448 1299.5 450.7"/>
<path class="s38" d="M1087.7 346.8Q1090.4 346.1 1093.8 346.2"/>
<path class="s30" d="M1015.2 458.6Q1017.9 462.5 1025.2 461.9"/>
<path class="s42" d="M1107.8 633.2Q1107.4 640.3 1104.9 642.7"/>
<path class="s33" d="M1253.6 332.6Q1254.9 340.9 1254.5 348.8"/>
<path class="s42" d="M1222.4 491.7Q1221.8 497.5 1221.6 502.9"/>
<path class="s55" d="M1228.1 593.4Q1223.4 595.2 1217.8 597.3"/>
<path class="s32" d="M1106.2 513.3Q1109.5 515.3 1114.4 515.6"/>
<path class="s37" d="M949.1 484.9Q946.9 485.3 944.7 490"/>
<path class="s38" d="M1118.9 559.9Q1122.7 562.6 1127.3 565.1"/>
<path class="s47" d="M1215.4 613.4Q1212.1 619.1 1211.4 620"/>
<path class="s38" d="M1167.3 572.8Q1166.9 573.1 1161.6 577.5"/>
<path class="s42" d="M1257.8 453.2Q1265 452.8 1270.6 452.6"/>
<path class="s37" d="M981.5 527.2Q983.8 531.7 984.1 540.6"/>
<path class="s37" d="M1286.7 524.8Q1287.4 529.7 1287.9 531.1"/>
<path class="s35" d="M1094.3 401.7Q1098.9 405.1 1098.6 412.3"/>
<path class="s34" d="M1008 599.5Q1015.6 592.4 1020.2 584.8"/>
<path class="s37" d="M1040.4 411.5Q1043.3 412.1 1050.8 412.1"/>
<path class="s43" d="M1066 611.9Q1072.6 608.8 1079.3 607.8"/>
<path class="s31" d="M998.3 479.1Q1006.4 482.7 1012.8 485.7"/>
<path class="s32" d="M1149.1 553.7Q1154.1 556.7 1154.4 559.1"/>
<path class="s48" d="M1243.7 571.2Q1245.7 579.3 1248.1 583.4"/>
<path class="s44" d="M1296.5 563.2Q1299.8 565 1300.2 570.7"/>
<path class="s54" d="M1090.6 464.4Q1095.8 466.5 1097.9 466.9"/>
<path class="s45" d="M1054.1 359.3Q1059.9 359.2 1065.1 361.1"/>
<path class="s30" d="M1170.2 432.2Q1167.1 434.5 1160.6 440.3"/>
<path class="s47" d="M1276.2 580.3Q1276.3 584.8 1279.6 586.2"/>
<path class="s50" d="M1005.9 429.6Q1009.1 437.4 1009.1 441.3"/>
<path class="s36" d="M966.9 450.2Q969.2 456 969.1 460.7"/>
<path class="s48" d="M1158.7 484.6Q1163.2 493.2 1164 497.2"/>
<path class="s30" d="M1148.2 409.3Q1143.7 409.6 1143.7 414.3"/>
<path class="s52" d="M1201.2 472.2Q1203.4 480.6 1200.7 488.3"/>
<path class="s33" d="M1187.9 442.6Q1179.1 446.2 1175.3 453.3"/>
<path class="s48" d="M1166.9 486.5Q1167.3 490.6 1163.3 499.1"/>
<path class="s38" d="M1027.6 458.9Q1027.7 465.9 1026.6 468.8"/>
<path class="s36" d="M1256.8 538.2Q1252.3 543.7 1244.9 553.1"/>
<path class="s38" d="M1135.7 475.2Q1133.2 481.6 1133.8 488.4"/>
<path class="s38" d="M1246.9 408Q1249.9 413.4 1254.3 418.9"/>
<path class="s50" d="M1113.7 628.1Q1112.5 634.1 1115.1 640.2"/>
<path class="s50" d="M1186.7 347.8Q1182.9 353.7 1180.3 355.2"/>
<path class="s45" d="M1176.3 610.8Q1171.9 615.6 1168.5 619.9"/>
<path class="s31" d="M1058.9 343.7Q1065 348.8 1071 350.4"/>
<path class="s33" d="M1042.7 638.1Q1049.4 637.1 1059.1 631.1"/>
<path class="s35" d="M958.4 465.1Q958.4 474.8 958.8 479.7"/>
<path class="s43" d="M1051.9 630.9Q1058.6 631.6 1068.3 633.7"/>
<path class="s36" d="M939.8 422.5Q944.6 425.8 946.3 431.6"/>
<path class="s37" d="M1008.8 552.9Q1015.4 555.1 1017.8 553.2"/>
<path class="s37" d="M1114.2 507.5Q1118.8 507.7 1126.9 508.2"/>
<path class="s31" d="M1045.8 503.3Q1049 503.4 1056.4 504.2"/>
<path class="s35" d="M974.2 388.6Q980.3 395.3 984.1 402.4"/>
<path class="s37" d="M1180 406.4Q1175.7 406.6 1169.4 406.4"/>
<path class="s52" d="M1238.4 407.1Q1235.4 410.2 1229.2 416.5"/>
<path class="s34" d="M960.1 620.2Q964.3 621.9 968.1 625.8"/>
<path class="s39" d="M947 483.7Q943.2 487.4 938.9 486.3"/>
<path class="s38" d="M1197.9 418.7Q1192.5 419.8 1187.4 420.7"/>
<path class="s38" d="M1059.6 596.6Q1063 593.3 1068.1 589"/>
<path class="s38" d="M1022.7 394.1Q1030 391.3 1034.7 391.6"/>
<path class="s38" d="M1162.2 342Q1160.9 347.3 1157 350.5"/>
<path class="s30" d="M1230.4 596.3Q1224.1 595.4 1222.6 598.7"/>
<path class="s39" d="M1239.1 384.3Q1233.3 387.1 1225.6 389.7"/>
<path class="s32" d="M1069.7 545.1Q1074 546.6 1074.5 548.9"/>
<path class="s38" d="M1222.4 603.6Q1217.4 607.3 1216.5 607.8"/>
<path class="s54" d="M1114.5 482.7Q1118.5 487.8 1123.8 493.1"/>
<path class="s50" d="M967.8 591.8Q975.4 590.3 980.3 590.5"/>
<path class="s53" d="M1033.2 591.8Q1041.8 590.3 1046.9 593.4"/>
<path class="s39" d="M1246.2 568.8Q1243.8 572.7 1237.3 576.9"/>
<path class="s36" d="M1073.8 382Q1076 387 1079.1 391.8"/>
<path class="s38" d="M1115.2 349.4Q1118 352.5 1120.9 353.8"/>
<path class="s50" d="M945.8 358.6Q947.3 364.4 945.8 367.2"/>
<path class="s53" d="M1202.8 362.9Q1197.5 366.9 1193.9 366.3"/>
<path class="s53" d="M1187 478.2Q1188.4 482.4 1192.6 483.9"/>
<path class="s43" d="M1204.1 487.1Q1205.8 494.5 1208.3 504.8"/>
<path class="s51" d="M1235.4 438.6Q1236.6 441.8 1241.4 449.9"/>
<path class="s32" d="M1051 335.1Q1056.4 335.2 1063.9 335.8"/>
<path class="s56" d="M1243.7 588.6Q1241.1 590.3 1242.6 596.2"/>
<path class="s31" d="M1079.8 493.8Q1086.1 498.6 1094.9 504.8"/>
<path class="s56" d="M1122.4 406.4Q1121.7 409.6 1121.2 414.5"/>
<path class="s43" d="M1223 450.1Q1225.9 457.5 1230.2 462.1"/>
<path class="s48" d="M1072.2 588.9Q1080.1 592.9 1085.3 600.6"/>
<path class="s45" d="M1039.8 533.7Q1042.9 535.9 1049.7 536.4"/>
<path class="s34" d="M1157.5 425.3Q1154.3 431.5 1149.3 440.6"/>
<path class="s49" d="M1304.7 463.3Q1311.9 468.7 1318.2 469.4"/>
<path class="s49" d="M1174 402.4Q1170.4 409.2 1170.9 414.7"/>
<path class="s32" d="M1191.1 462.2Q1191.6 466.9 1187.7 469.1"/>
<path class="s49" d="M1228.6 518.2Q1234 526.1 1239.9 534.6"/>
<path class="s32" d="M963.9 371.3Q968.3 376.3 970.3 380.9"/>
<path class="s32" d="M992.8 436Q995.4 435 1003.1 438.4"/>
<path class="s39" d="M1279.6 578.8Q1289.2 585.3 1294.5 589.1"/>
<path class="s37" d="M1154.5 387.9Q1149 389 1143.6 391"/>
<path class="s53" d="M1167.6 326.6Q1165.3 331.6 1162.2 338.2"/>
<path class="s40" d="M946.2 364Q945.5 367 948.5 371.8"/>
<path class="s34" d="M1303.4 558Q1308.9 561.2 1318 566.7"/>
<path class="s33" d="M988.6 429.3Q991.4 435.6 994.9 446"/>
<path class="s38" d="M1232.3 484.2Q1235.8 490.1 1236.8 496.6"/>
<path class="s42" d="M1230.4 400.5Q1223 403.9 1218.7 409.7"/>
<path class="s34" d="M1259 425.4Q1265.1 428.2 1271.4 430.4"/>
<path class="s34" d="M1234.1 366.3Q1234.6 373.5 1231.8 376.9"/>
<path class="s54" d="M1013 483.3Q1016 486.3 1016.4 491"/>
<path class="s31" d="M992.8 593.5Q1000.6 595.7 1009.7 593"/>
<path class="s36" d="M1182.3 433.9Q1181.7 439.1 1178.6 446"/>
<path class="s30" d="M1312.6 515.7Q1315.1 518 1320.7 517.5"/>
<path class="s45" d="M1053.7 483.7Q1057.1 485.7 1060.9 483.2"/>
<path class="s39" d="M1290.7 524.8Q1297.9 525.9 1309.9 528.3"/>
<path class="s45" d="M1147.7 513.1Q1151.9 515 1156.5 521.4"/>
<path class="s31" d="M1252.3 340Q1252.7 349.3 1256.8 358.4"/>
<path class="s42" d="M1311.7 485.1Q1319 491.7 1324 496.1"/>
<path class="s54" d="M1237 390Q1231.6 396 1229.9 397.1"/>
<path class="s45" d="M1087.3 417.2Q1091 425.4 1091.1 428.9"/>
<path class="s39" d="M1193.2 487.4Q1197.1 494.5 1196.3 501.8"/>
<path class="s30" d="M1227.1 601.4Q1225.7 603.6 1221.4 603.7"/>
<path class="s38" d="M1213.6 367.7Q1211.5 373.5 1205.8 378.2"/>
<path class="s37" d="M1005.8 388.8Q1006.7 390.8 1010.9 393.7"/>
<path class="s53" d="M964.7 418.8Q969.7 419.1 971.6 420.2"/>
<path class="s47" d="M1143 466.7Q1143.2 471.1 1140.7 472.9"/>
<path class="s33" d="M1254.1 455.1Q1264.2 460.5 1269.9 464.1"/>
<path class="s44" d="M1310 551.9Q1309.6 558.9 1309.9 564.8"/>
<path class="s46" d="M976.1 533.3Q981.5 538.4 985.1 539.2"/>
<path class="s38" d="M1230.6 618.7Q1227.2 621.6 1225.5 627.8"/>
<path class="s32" d="M1170.9 570.3Q1167.9 576.6 1161.6 578.2"/>
<path class="s53" d="M1152 414.2Q1151.7 416.9 1149.6 420.4"/>
<path class="s48" d="M979.3 594.7Q988.1 595.1 992.8 592.5"/>
<path class="s48" d="M1158.8 352.6Q1158.3 357.6 1154.8 359.8"/>
<path class="s51" d="M1218.2 547Q1213 554.1 1211.9 560.1"/>
<path class="s56" d="M978.8 343Q979.9 343.5 983 347.7"/>
<path class="s39" d="M1287.9 573.3Q1293.2 576.5 1298.1 582.6"/>
<path class="s40" d="M961.3 373.6Q965.3 376.9 967.8 378.5"/>
<path class="s50" d="M1228.9 461.4Q1225.9 466.6 1225.9 470.4"/>
<path class="s52" d="M1084.1 464.2Q1090.8 468.1 1096.5 476.9"/>
<path class="s48" d="M1317.5 513.9Q1327.2 513.3 1332.5 512.1"/>
<path class="s31" d="M1140.8 383Q1142.6 392.1 1139.6 399.5"/>
<path class="s56" d="M1068.6 498.2Q1072.8 500.8 1075.4 499.2"/>
<path class="s46" d="M968 371.3Q970.2 368 977.3 368.7"/>
<path class="s42" d="M1270.7 423.8Q1276.6 427 1277.6 431.4"/>
<path class="s50" d="M1179.5 555.8Q1180 561.7 1179.9 563.6"/>
<path class="s45" d="M1164.4 508.4Q1167.6 511.8 1170.5 517.7"/>
<path class="s45" d="M1287.8 344.3Q1288.4 348.3 1292.5 356.2"/>
<path class="s40" d="M1046.4 632.3Q1056 635.1 1061.4 635.9"/>
<path class="s50" d="M1267.9 581.3Q1272 583.7 1274.2 588.9"/>
<path class="s30" d="M1238.2 502.7Q1242.5 504.6 1244.2 505.7"/>
<path class="s50" d="M1312.4 528.6Q1311.8 533 1315.7 535.7"/>
<path class="s43" d="M1249.7 401.9Q1252.9 410.4 1258.3 415.4"/>
<path class="s52" d="M1226 412.3Q1227 418.6 1226.5 428.3"/>
<path class="s45" d="M1047.6 595.2Q1049.5 593.6 1051.6 589.4"/>
<path class="s53" d="M1113.5 550.3Q1113.8 554.7 1117.9 559.2"/>
<path class="s35" d="M1095.6 536.7Q1103.1 540.4 1112.2 540.7"/>
<path class="s31" d="M1028.1 368.6Q1036.7 365.5 1045.4 365.2"/>
<path class="s32" d="M1179.5 549.3Q1180.4 550.5 1180 556"/>
<path class="s41" d="M1194.9 488.3Q1196.4 491.7 1201.4 497.7"/>
<path class="s56" d="M1025.9 619.7Q1029.7 620.8 1037.3 619.4"/>
<path class="s32" d="M1249.5 466.4Q1252.3 468.3 1254.6 474.6"/>
<path class="s43" d="M1016 448.2Q1019.4 452.2 1023.5 451.2"/>
<path class="s47" d="M1095.1 390.6Q1096.3 393.5 1101.3 397.5"/>
<path class="s53" d="M1134.6 398.4Q1130.4 401.4 1129.4 407.9"/>
<path class="s39" d="M1107.1 538.2Q1111.7 538.1 1117.3 541.5"/>
<path class="s34" d="M1201.1 514.2Q1198.2 517.9 1198.2 523.2"/>
<path class="s32" d="M943.5 342.6Q944.1 344.5 940.4 350.8"/>
<path class="s30" d="M1109.1 435Q1109.6 440.7 1106.1 445.4"/>
<path class="s37" d="M1015.6 482.2Q1020.8 484 1024.9 488.5"/>
<path class="s34" d="M1227.5 523.5Q1227.3 528 1227 536.4"/>
<path class="s33" d="M1145.9 341.7Q1143.1 351.1 1142.1 359.1"/>
<path class="s37" d="M982.4 577.2Q985.5 578.3 991.9 579.8"/>
<path class="s36" d="M1070.8 368.3Q1074.4 368.3 1081.2 372.4"/>
<path class="s38" d="M1201.8 580.5Q1202.7 586.6 1200.9 589.1"/>
<path class="s39" d="M1293.1 553.6Q1299.2 562.3 1301.7 568.7"/>
<path class="s32" d="M1176.1 370.1Q1175 374.8 1173.7 375.7"/>
<path class="s49" d="M1130.5 600.8Q1133 609.3 1134.4 615.5"/>
<path class="s42" d="M985.7 397.8Q990.6 405.4 990.5 408.7"/>
<path class="s39" d="M1163.9 358Q1165.6 367.1 1164.1 376.6"/>
<path class="s46" d="M1126.3 564.3Q1133.3 570.7 1135.8 580.5"/>
<path class="s51" d="M958.5 587.9Q961 590.7 961.3 598"/>
<path class="s45" d="M992.1 617Q996.1 613.9 1001.1 614.2"/>
<path class="s35" d="M1241.9 483.7Q1243.5 491 1244.5 494.3"/>
<path class="s49" d="M1044 630.1Q1048.4 640 1052.2 645.2"/>
<path class="s30" d="M1149 336.3Q1150.1 338.6 1148.5 345.4"/>
<path class="s52" d="M1149.6 442.9Q1150.4 452.5 1155.6 460.1"/>
<path class="s38" d="M1092.6 392.2Q1090.3 396.3 1091.8 400.7"/>
<path class="s53" d="M1250.9 477.3Q1255.2 478.5 1257.6 479.5"/>
<path class="s46" d="M1262 609Q1255 613.7 1251.9 617.9"/>
<path class="s52" d="M976.9 598.4Q977.7 600.8 982.6 607.2"/>
<path class="s43" d="M1250.3 427.8Q1254.6 437 1263.7 441.9"/>
<path class="s31" d="M1095.7 458.5Q1100.5 465.9 1101.6 471.8"/>
<path class="s34" d="M1262.8 356.9Q1262.3 362.6 1264.8 371.1"/>
<path class="s41" d="M1155.7 404.2Q1153.2 407.3 1147.4 407.2"/>
<path class="s52" d="M1095.6 613.9Q1095.6 621.2 1096.5 623.9"/>
<path class="s38" d="M1321.1 503.3Q1324.5 510.2 1325.4 512.5"/>
<path class="s48" d="M1016.4 379.2Q1021.9 381.2 1030.9 378.9"/>
<path class="s42" d="M1041.7 368Q1049.9 370.9 1053.9 371.2"/>
<path class="s31" d="M1272.6 398.5Q1270.9 405.5 1273.9 409.4"/>
<path class="s52" d="M1207.6 627.5Q1204.5 631 1199.8 639.2"/>
<path class="s39" d="M1254.2 556.6Q1257.8 561.2 1258.3 569.3"/>
<path class="s54" d="M978.9 515.3Q981.6 517.9 984.4 521.4"/>
<path class="s43" d="M1184.5 445.5Q1174.5 448.3 1168.4 453.1"/>
<path class="s35" d="M1096.4 608.2Q1106.9 611.9 1112.5 612.6"/>
<path class="s45" d="M1032.7 424.1Q1037.7 429.4 1041.6 432.6"/>
<path class="s42" d="M1273.8 572.1Q1278.8 574.7 1279.1 580.3"/>
<path class="s52" d="M1229.2 586.5Q1231.5 589.3 1229.2 596"/>
<path class="s56" d="M1233.4 474Q1233.7 479 1230.3 485"/>
<path class="s52" d="M1120.5 483.7Q1127.6 486.9 1131.6 489"/>
<path class="s40" d="M1221.8 596.8Q1217 603.9 1216.5 609.3"/>
<path class="s38" d="M1107.5 390.8Q1109 395.2 1107.3 399.1"/>
<path class="s31" d="M1176.2 453.7Q1175.1 458.7 1169.5 458.9"/>
<path class="s46" d="M1216.2 504.4Q1217.3 510.1 1214.1 519.8"/>
<path class="s41" d="M1165.7 513.9Q1168.9 518 1168.8 525"/>
<path class="s39" d="M1083.5 500.9Q1087.6 508.5 1094.8 512.1"/>
<path class="s38" d="M1035.8 508.1Q1041.8 505.5 1048.8 506.5"/>
<path class="s45" d="M1249.2 380.3Q1242.2 382.2 1239.8 386.4"/>
<path class="s42" d="M979.5 343.5Q988.9 346.7 994.7 349.8"/>
<path class="s47" d="M1297.7 358.3Q1296.2 360.2 1296 364.6"/>
<path class="s39" d="M1018.8 371.6Q1026.1 375.2 1034.7 376.1"/>
<path class="s38" d="M959.5 632.1Q964.8 633.6 968.3 634.8"/>
<path class="s46" d="M1164.8 390.6Q1164.2 395.5 1159.5 397.4"/>
<path class="s40" d="M1228.8 322.5Q1227.1 330 1228.2 335.2"/>
<path class="s51" d="M989.7 462.9Q989.5 471.4 985.1 481.2"/>
<path class="s45" d="M1289.8 598.3Q1291.4 605.1 1292 611.7"/>
<path class="s50" d="M1169.4 436.7Q1167.2 437.4 1165.5 442.7"/>
<path class="s45" d="M1058.8 479.3Q1062.8 485.1 1062.9 492.5"/>
<path class="s39" d="M1003.5 538.2Q1007.4 546.1 1016.4 550.5"/>
<path class="s36" d="M1279.3 395.3Q1277.8 400.1 1279.4 404.4"/>
<path class="s37" d="M1032.9 440.7Q1030.6 442.9 1032.6 450.2"/>
<path class="s40" d="M1132.3 510Q1141 516.1 1145.3 517.3"/>
<path class="s46" d="M1293.9 581.5Q1292.4 589.7 1287.4 595.3"/>
<path class="s43" d="M1296.8 601Q1296 608.9 1295.4 617.7"/>
<path class="s39" d="M1237.9 586.8Q1232.3 596 1228.6 603.6"/>
<path class="s37" d="M1251.1 465.7Q1255.6 470.3 1259.6 471.8"/>
<path class="s38" d="M1224.1 609.9Q1222.6 615.3 1219.8 617.1"/>
<path class="s41" d="M1079.9 425.2Q1077.7 429 1079.8 432.5"/>
<path class="s30" d="M956.5 418.2Q959.6 422.2 961.5 422.7"/>
<path class="s36" d="M1202.3 615.8Q1195.3 613.8 1193 616.4"/>
<path class="s49" d="M1017.1 582.9Q1023 584 1032.4 585.8"/>
<path class="s51" d="M947.7 627.2Q948 633.8 952.6 636.1"/>
<path class="s49" d="M1093.6 335.9Q1098.1 337.8 1105.5 344.2"/>
<path class="s39" d="M981 468.6Q981.8 476.1 984 484.7"/>
<path class="s44" d="M1079.1 473.6Q1081.7 482.1 1079.3 487.3"/>
<path class="s39" d="M1054.9 346.9Q1061.9 349.2 1066.1 352.8"/>
<path class="s40" d="M1043.5 341.6Q1052.7 344.3 1057.3 343.9"/>
<path class="s36" d="M1269.9 587.9Q1264.9 594.1 1262.4 599.8"/>
<path class="s35" d="M1310.4 447.8Q1315.7 445.7 1325.6 439.7"/>
<path class="s47" d="M1052.6 561.7Q1056.6 562.8 1064.6 564.4"/>
<path class="s46" d="M965.5 462.6Q966.7 466.4 968 471"/>
<path class="s38" d="M1220.3 599.8Q1219 602.9 1220.3 606.6"/>
<path class="s32" d="M1154.7 333.3Q1157.2 339.5 1155 341.5"/>
<path class="s42" d="M1030.7 439.5Q1031.4 443.8 1034.6 447"/>
<path class="s43" d="M996.1 424.9Q998.6 426 1005.5 431.9"/>
<path class="s46" d="M1188.4 546.2Q1182.4 555.3 1177.3 559.9"/>
<path class="s45" d="M1178.8 409Q1177 412.7 1175.8 416.7"/>
<path class="s39" d="M974 523.3Q973.9 526.2 976.1 533.6"/>
<path class="s54" d="M1084.2 576.7Q1088 577.3 1093.5 576.8"/>
<path class="s46" d="M1284.3 347Q1283.8 349.4 1285.2 355.9"/>
<path class="s49" d="M1266 424.2Q1270 425.5 1278.8 424.5"/>
<path class="s39" d="M1081.4 406.1Q1084.3 411 1091.2 415.8"/>
<path class="s40" d="M1007.8 638.1Q1017.3 631 1024.8 628.8"/>
<path class="s43" d="M1317.3 540.2Q1321.1 548.2 1321.3 555.6"/>
<path class="s53" d="M1117.8 479.6Q1117.7 484 1115 490.1"/>
<path class="s42" d="M1248.9 544Q1252.7 551 1253.9 553.9"/>
<path class="s35" d="M1090.9 383Q1099.8 382.7 1105.3 386.4"/>
<path class="s50" d="M1136.9 617.1Q1137 622.5 1138.9 629.5"/>
<path class="s45" d="M1156.4 613.5Q1148.2 614.6 1144.4 618.4"/>
<path class="s40" d="M1101.7 453.5Q1101 458.1 1099.9 463.5"/>
<path class="s37" d="M1266.4 387.2Q1266.1 394.4 1265 399.2"/>
<path class="s46" d="M1235.6 370.5Q1228.5 373.2 1220.4 378"/>
<path class="s45" d="M1094.9 398.5Q1096.2 403.2 1098.9 411.8"/>
<path class="s41" d="M958.2 466.1Q955.6 468.8 953.1 470"/>
<path class="s32" d="M1258.9 471.5Q1263.5 472.4 1268.6 473.5"/>
<path class="s45" d="M1017.8 524.9Q1022.9 522.8 1028 523.5"/>
<path class="s44" d="M1114.4 390Q1115.6 395.1 1119.5 397.8"/>
<path class="s38" d="M1189.6 629.2Q1185.6 633 1185 637.8"/>
<path class="s40" d="M1072 384Q1076 385.4 1080.6 386.2"/>
<path class="s32" d="M1071.6 418.8Q1073.6 422 1071 427.3"/>
<path class="s43" d="M1223.3 571.4Q1225.9 578.3 1226.2 582.1"/>
<path class="s38" d="M1304.8 504.3Q1309.9 503.9 1316.2 502.7"/>
<path class="s53" d="M1101.6 554Q1104 557.4 1106.9 562.4"/>
<path class="s34" d="M1101.3 359.4Q1101.9 363.8 1106.5 368.8"/>
<path class="s36" d="M1141.4 550.2Q1146.7 553.4 1148.4 558.1"/>
<path class="s45" d="M958.1 570.2Q963.1 575.8 963.2 580"/>
<path class="s33" d="M1309.1 570.3Q1311.5 577 1315 579"/>
<path class="s32" d="M979.4 346.3Q981.4 350.4 982.8 354.6"/>
<path class="s39" d="M1121.3 441.5Q1122.9 449.4 1121.7 457.4"/>
<path class="s39" d="M1176.3 533.2Q1176.6 538.8 1176.1 542.1"/>
<path class="s50" d="M1060.6 505.1Q1064 504.4 1068.4 503.3"/>
<path class="s35" d="M1297.3 384.6Q1306.8 384.3 1313.3 387.4"/>
<path class="s37" d="M1272.6 556.1Q1272.2 558.9 1275.1 566.2"/>
<path class="s44" d="M1278.8 605.6Q1284.4 609.8 1289.8 614.2"/>
<path class="s52" d="M1021.8 619.2Q1025.8 621.7 1029.6 626.6"/>
<path class="s53" d="M1030.8 346.3Q1037.8 350.5 1042.4 351.4"/>
<path class="s31" d="M997.9 451.3Q997.8 457.9 1002 466.7"/>
<path class="s48" d="M1008.2 385.1Q1017.1 380.3 1025.3 378.4"/>
<path class="s46" d="M1324.9 583.5Q1325.7 588.8 1326.8 596.5"/>
<path class="s40" d="M1228.9 398.6Q1225.3 407.5 1225.8 412.2"/>
<path class="s39" d="M1281.8 580.1Q1284.1 587.1 1288.2 596.1"/>
<path class="s40" d="M950.1 438.9Q959.8 443.8 965.9 450.6"/>
<path class="s31" d="M1118 326.1Q1125.6 330.3 1136.1 331.1"/>
<path class="s40" d="M1010.4 401.4Q1014.6 401.5 1021.2 401.5"/>
<path class="s47" d="M993.2 459.1Q996.4 465.5 999.2 470"/>
<path class="s46" d="M1017.7 597Q1026.2 593.6 1030.8 594.7"/>
<path class="s31" d="M1321 351.2Q1325.7 360.6 1330.4 367.9"/>
<path class="s53" d="M1184 403.2Q1178.3 402.6 1170.8 403.9"/>
<path class="s35" d="M1033.2 401.9Q1036 406.9 1038.5 408.2"/>
<path class="s35" d="M1200.4 466.7Q1197.8 471.1 1194.4 477.6"/>
<path class="s51" d="M1116.2 588Q1115.7 593.2 1118.3 599.9"/>
<path class="s30" d="M1048.5 441.5Q1050.2 445.4 1052.4 451.2"/>
<path class="s45" d="M1235.5 334.6Q1237 339.9 1238 343.8"/>
<path class="s34" d="M1203.3 454.7Q1205.8 458.7 1205.4 466.4"/>
<path class="s45" d="M1206.7 441.5Q1202.6 442.2 1200.2 444.8"/>
<path class="s37" d="M1121 349Q1123 348.5 1127.5 350.5"/>
<path class="s35" d="M987.3 463.5Q991.7 469.2 992.2 470.9"/>
<path class="s32" d="M978.7 577.3Q982.3 584.1 983.2 587.5"/>
<path class="s34" d="M1176.8 599.5Q1175.3 601.8 1169.6 605.4"/>
<path class="s38" d="M1250.4 600.4Q1247.9 605.1 1243.2 605.9"/>
<path class="s42" d="M1090.9 386.5Q1095.6 392.4 1098.5 400.8"/>
<path class="s49" d="M1277.9 517Q1282.9 519.5 1288.5 523.4"/>
<path class="s42" d="M1123.1 546.4Q1126 547.6 1132.3 547.9"/>
<path class="s50" d="M1079.4 542.5Q1086.5 537.9 1091.6 537.5"/>
<path class="s52" d="M1253.5 450.6Q1254.7 454.7 1258.8 460"/>
<path class="s48" d="M1067.7 414.1Q1069.6 422.3 1072.1 432.2"/>
<path class="s53" d="M1164.7 634.6Q1166.8 637.2 1164 641.6"/>
<path class="s43" d="M1287.4 479.6Q1295.1 477.3 1304.3 470.2"/>
<path class="s48" d="M951.3 439.8Q947.6 444.1 946.8 447.7"/>
<path class="s46" d="M1040.4 505.5Q1045 512.3 1049 515.9"/>
<path class="s42" d="M1236.5 592.3Q1235.8 598.2 1237.9 602.3"/>
<path class="s49" d="M1212.4 462.7Q1217.4 469.9 1225.3 476.9"/>
<path class="s48" d="M1114.2 563.3Q1114.1 567 1117.6 570.6"/>
<path class="s42" d="M1138.9 430.6Q1140.9 438.2 1140.4 443.6"/>
<path class="s48" d="M1248.6 564Q1249.7 569.1 1249.1 578.3"/>
<path class="s31" d="M1276.8 589.1Q1275.7 593.1 1273.6 596.6"/>
<path class="s34" d="M987.1 554.7Q994.7 556.9 1004.9 560.8"/>
<path class="s36" d="M1205.9 373.1Q1201.1 374.5 1199.1 377.8"/>
<path class="s32" d="M984.5 483.7Q983.6 487.4 980.3 490.1"/>
<path class="s32" d="M1270.1 534.4Q1272.9 538.3 1277.2 544.1"/>
<path class="s35" d="M1146 527.7Q1150.6 536.9 1153.5 544.6"/>
<path class="s49" d="M1044.5 428.2Q1047.4 435.7 1045.7 441.7"/>
<path class="s52" d="M1138.4 326.1Q1141.8 332.1 1144.2 333.9"/>
<path class="s44" d="M1245.4 392.9Q1240.4 395.4 1231.7 399.8"/>
<path class="s38" d="M1232.2 522.2Q1235.9 526.2 1242.8 530.9"/>
<path class="s35" d="M1256.7 413.9Q1260.4 421.2 1268.7 429.7"/>
<path class="s32" d="M1124.1 373.8Q1124.4 375.5 1123.1 381.2"/>
<path class="s37" d="M1122 379Q1122.2 386.4 1123.7 388.8"/>
<path class="s48" d="M1163.1 612.1Q1161.2 616.8 1158.6 620.9"/>
<path class="s32" d="M1240.3 480.9Q1242.1 484 1246.9 485.8"/>
<path class="s34" d="M1051.6 363.8Q1061.2 366.2 1065.9 371.2"/>
<path class="s48" d="M1273.6 426.3Q1281 428.7 1285 434.4"/>
<path class="s44" d="M1267.3 532.4Q1263.3 538.9 1261.8 546.7"/>
<path class="s45" d="M1295.3 416.7Q1301.4 419 1302.6 417.1"/>
<path class="s52" d="M981.4 417.5Q986 422.8 993.8 428.4"/>
<path class="s45" d="M985.7 395.4Q990.4 399.6 993.7 406.8"/>
<path class="s44" d="M960.7 500.2Q960.1 504.9 959 511.2"/>
<path class="s45" d="M1163.5 426.9Q1157.5 429.5 1156.2 432"/>
<path class="s45" d="M1245.3 408.5Q1240.2 413.2 1234.9 417.1"/>
<path class="s42" d="M996.2 421Q1003.1 424.2 1005.6 423.8"/>
<path class="s32" d="M1152.4 354.7Q1152.9 357.9 1156 364.4"/>
<path class="s49" d="M1147 575.4Q1141.6 583.3 1140.7 586.5"/>
<path class="s42" d="M1220.1 418.4Q1212.2 423.2 1207.2 429.5"/>
<path class="s51" d="M1151.3 516.6Q1150.5 525.2 1154 530.1"/>
<path class="s43" d="M1309.1 419Q1318.4 421.7 1324.4 427.7"/>
<path class="s46" d="M974.2 610.1Q985.8 610.1 992.7 606.2"/>
<path class="s32" d="M969.4 332.9Q971.3 335.2 976.3 340.9"/>
<path class="s39" d="M1277 608.8Q1274.6 613.1 1271.7 615.1"/>
<path class="s40" d="M1183.7 440Q1177 442.6 1166.3 449.1"/>
<path class="s52" d="M1069.4 623.3Q1079.2 629.5 1084.2 636.5"/>
<path class="s39" d="M1111 570.7Q1120.1 567.9 1128.9 569.3"/>
<path class="s40" d="M1304.6 377.4Q1308.7 386.7 1311.8 392.2"/>
<path class="s40" d="M1182.8 364.7Q1183.4 372.8 1181.2 378"/>
<path class="s50" d="M1091.5 430.8Q1095.5 433.7 1098.4 439.6"/>
<path class="s47" d="M973.7 375Q976.2 380.6 977.4 381.6"/>
<path class="s35" d="M1242.1 609.4Q1235.8 613.9 1226 614.1"/>
<path class="s51" d="M990.3 557.7Q999.6 557.9 1008 562.6"/>
<path class="s44" d="M1317 456.3Q1318.3 451.4 1323.9 450.8"/>
<path class="s43" d="M1252.5 358.8Q1245.3 360 1238.2 364"/>
<path class="s35" d="M1011.7 629.8Q1017.7 635.9 1020.5 638.6"/>
<path class="s51" d="M1065.8 612.4Q1069.8 610.5 1077.7 612.3"/>
<path class="s39" d="M1255.6 435.8Q1265 435.6 1270.3 440.2"/>
<path class="s38" d="M942 419.2Q943.4 423 945 429.5"/>
<path class="s45" d="M1086.7 442.4Q1088.8 443.9 1093.8 445.9"/>
<path class="s39" d="M1096.8 622.7Q1102.6 628.1 1107.4 638.3"/>
<path class="s47" d="M979.8 540.7Q985.5 542.5 988.8 546.2"/>
<path class="s45" d="M1117.2 388.1Q1119.2 391.6 1116.9 397.5"/>
<path class="s43" d="M1242.6 618.5Q1234.7 625 1231.5 631.5"/>
<path class="s33" d="M1265.1 555.4Q1265 559.6 1266.3 567.8"/>
<path class="s40" d="M1199.4 454.5Q1202 459.4 1201.4 468.3"/>
<path class="s51" d="M990.7 366Q997.3 366.5 1005.5 371.2"/>
<path class="s34" d="M1045.1 372.5Q1048.6 369 1053.3 365.6"/>
<path class="s52" d="M1316.7 558.5Q1319.4 560.1 1322.8 565.1"/>
<path class="s38" d="M964 552.9Q966.9 554.2 970 557.7"/>
<path class="s49" d="M1141.7 625.7Q1142.8 634.2 1145.5 639.6"/>
<path class="s48" d="M1002.2 397.5Q1010.3 399.1 1020 396.8"/>
<path class="s45" d="M1090.2 507.3Q1096.7 514.7 1099.2 517.8"/>
<path class="s44" d="M962.4 599.3Q967.4 600.8 970.3 607.1"/>
<path class="s38" d="M1288.9 527Q1296.4 527.3 1299.5 529.6"/>
<path class="s33" d="M986.2 331.6Q989.9 330.6 996.7 329.3"/>
<path class="s33" d="M993.2 349.9Q998 358.4 1005 362.9"/>
<path class="s40" d="M944.9 356.7Q946.9 363.8 951.7 369.1"/>
<path class="s44" d="M1313.4 393.4Q1321 391.4 1332.9 393.8"/>
<path class="s46" d="M989.1 623.8Q993.8 620.4 1002.9 621.6"/>
<path class="s35" d="M978.4 609.6Q983.1 615.9 987.4 626.6"/>
<path class="s51" d="M1001.7 556.6Q1005.7 562.6 1013.3 572.4"/>
<path class="s30" d="M1015.6 570.5Q1020.1 569.3 1026.7 563.4"/>
<path class="s53" d="M1046.5 425.3Q1048.3 426.9 1054 431"/>
<path class="s32" d="M1311.8 566Q1312.4 569.4 1312.5 577.4"/>
<path class="s51" d="M1261.8 326Q1265.8 333 1269.6 336.5"/>
<path class="s34" d="M952.3 606.2Q959.4 605.9 967 610"/>
<path class="s34" d="M981.1 331.2Q989.9 334.5 997.7 341.8"/>
<path class="s49" d="M1180.3 449.3Q1178.6 454.2 1178.4 461.3"/>
<path class="s45" d="M957.4 436.1Q954.5 440.3 956.1 443.6"/>
<path class="s33" d="M1310.3 331.1Q1316.9 335.6 1320.5 344.9"/>
<path class="s51" d="M1215.1 588.7Q1213.6 591.4 1211.5 596.1"/>
<path class="s50" d="M1216.2 474.4Q1212.9 480.7 1213.2 484.8"/>
<path class="s45" d="M1117.3 608.7Q1118.3 609.3 1121 614.8"/>
<path class="s37" d="M1132 572.8Q1136.4 573.8 1142.9 576.9"/>
<path class="s39" d="M967.5 532.9Q967.6 537.8 969.2 541.2"/>
<path class="s53" d="M1147.3 366.8Q1146.2 370.5 1149.4 375.1"/>
<path class="s38" d="M1226.1 331.5Q1225 335.8 1224.5 342.1"/>
<path class="s38" d="M1046.1 617Q1053.4 616.2 1057.4 616.2"/>
<path class="s45" d="M1295.3 518.9Q1301.1 524.8 1304.5 528.9"/>
<path class="s42" d="M966.6 499.9Q966.2 504.9 964.4 513.5"/>
<path class="s56" d="M1019.2 442.9Q1023.2 445.9 1030 444.9"/>
<path class="s39" d="M1164.9 573.9Q1167.8 580.6 1169.4 588.7"/>
<path class="s38" d="M1145.2 359.5Q1147.6 364 1148.9 364.5"/>
<path class="s46" d="M964.6 526.5Q964.8 534.9 962.6 546.2"/>
<path class="s37" d="M1065.7 458.5Q1070 460.5 1075.7 460.4"/>
<path class="s42" d="M1089.6 370.3Q1093.1 375.8 1096.3 383.6"/>
<path class="s34" d="M1080.9 632.7Q1089.5 631.9 1094.1 634.9"/>
<path class="s39" d="M1035.1 402.4Q1042.9 407.3 1047.9 416.9"/>
<path class="s35" d="M1162.3 574.4Q1163.1 581.3 1167 591.7"/>
<path class="s35" d="M1022.7 435.2Q1028 437.9 1032.6 439.9"/>
<path class="s32" d="M1046.2 480.6Q1046.7 482.9 1046.5 487.6"/>
<path class="s44" d="M1206.5 440.9Q1201.6 449.7 1199.8 457.9"/>
<path class="s35" d="M1205.2 325.7Q1204.9 334.1 1202.7 341.3"/>
<path class="s34" d="M1268.5 473.9Q1271.9 484.7 1276.2 491.1"/>
<path class="s42" d="M1052.4 451.1Q1052.6 454.3 1052.9 460.8"/>
<path class="s51" d="M1169.6 539.2Q1171.4 542.4 1170.5 547.7"/>
<path class="s53" d="M1126.3 581.9Q1128.2 586.3 1126.9 589.9"/>
<path class="s53" d="M991.4 512.2Q993.1 517.1 991.7 524.2"/>
<path class="s38" d="M1012 487.2Q1012.5 489.7 1017.7 489.1"/>
<path class="s52" d="M954.4 453.3Q946.8 458.4 941.5 465"/>
<path class="s32" d="M1288.3 350.2Q1289.1 355.3 1292.7 357.7"/>
<path class="s39" d="M988.5 412.8Q995.5 412.1 1004.1 411.2"/>
<path class="s52" d="M962.8 517.8Q963.4 529.3 966.8 537.2"/>
<path class="s32" d="M1137 472.9Q1141.2 478.8 1141.6 483.2"/>
<path class="s52" d="M990.7 607.9Q997.5 605.9 1001.3 602.7"/>
<path class="s52" d="M1305.1 447Q1311.6 449.3 1317.6 453.1"/>
<path class="s51" d="M1262.2 447.6Q1270.3 447 1273.5 450.8"/>
<path class="s35" d="M1049.9 520.1Q1052.8 522 1056.5 526.5"/>
<path class="s36" d="M1182.4 487.1Q1186.9 498.2 1187.3 505.2"/>
<path class="s36" d="M1271 410.2Q1278.9 412 1285.6 411.4"/>
<path class="s53" d="M1226.2 543.9Q1222.6 547.6 1221.8 551.1"/>
<path class="s50" d="M1190 348.3Q1185.6 351 1185.7 356.9"/>
<path class="s43" d="M1094.5 459.1Q1094.3 464.1 1092.1 468"/>
<path class="s50" d="M1272.5 488Q1278.3 488.4 1284.1 487.9"/>
<path class="s52" d="M1259.9 476.7Q1263.9 480.2 1269.2 478.7"/>
<path class="s51" d="M1310.8 408.2Q1317.6 407.7 1326.9 403.4"/>
<path class="s31" d="M993.5 500.3Q995.4 502.5 998.1 507.3"/>
<path class="s52" d="M1211.1 614.2Q1205.2 620.7 1201 624.2"/>
<path class="s53" d="M1079.4 428.8Q1078.4 434 1079.5 436.2"/>
<path class="s52" d="M1237.9 450.7Q1235.9 456.8 1238.3 461.6"/>
<path class="s40" d="M1165.7 525Q1167.2 533.6 1173.2 537.8"/>
<path class="s37" d="M1210.2 590.6Q1209.6 593.5 1204.1 598"/>
<path class="s30" d="M1177.2 410.8Q1175.7 412.2 1169.8 411.9"/>
<path class="s42" d="M986.1 573.2Q994.8 570.4 1004 572.5"/>
<path class="s52" d="M1267.6 397.7Q1265 402.8 1265.4 408.6"/>
<path class="s32" d="M1107.2 432.3Q1105.7 435.5 1107.3 440.8"/>
<path class="s44" d="M1069.2 528.4Q1075.1 530.9 1077.9 536.2"/>
<path class="s56" d="M999.6 370.3Q1005.4 372.3 1007.7 374"/>
<path class="s38" d="M1026.4 370.8Q1032 370.9 1034.5 369.5"/>
<path class="s43" d="M1030.1 607.8Q1035.1 601.3 1040.7 593.6"/>
<path class="s40" d="M1024 464.7Q1027.9 475.1 1028.5 484"/>
<path class="s50" d="M990 620.8Q996.2 623.2 998.7 623"/>
<path class="s39" d="M1114.1 529.1Q1119.5 533.3 1121.2 533.4"/>
<path class="s46" d="M1118.1 461.5Q1117.9 469.7 1120.6 473.4"/>
<path class="s35" d="M998.7 559.8Q1003 562.4 1006.7 562.6"/>
<path class="s40" d="M1281.5 509.2Q1288 511.2 1295.3 517"/>
<path class="s32" d="M1187.1 622.9Q1180.6 623.6 1176.2 626.9"/>
<path class="s51" d="M1211.5 619.2Q1203.1 623.3 1195.8 623.1"/>
<path class="s34" d="M1242.4 340.2Q1241.7 342.2 1237.4 347.1"/>
<path class="s34" d="M1163.8 550.6Q1164.7 559.2 1160.7 563.4"/>
<path class="s48" d="M1219 415.2Q1215.8 424.3 1213.6 431.9"/>
<path class="s45" d="M1063.5 549.5Q1065.7 548.9 1069.5 547.6"/>
<path class="s39" d="M1049.9 528.9Q1057.4 529.7 1061.9 534.4"/>
<path class="s34" d="M1152.1 473.6Q1152 484.2 1148.2 491.6"/>
<path class="s46" d="M1154.6 411.9Q1148.1 416.7 1143.9 417.3"/>
<path class="s36" d="M1296.4 539Q1297.1 543.6 1300.9 549.4"/>
<path class="s51" d="M1126.6 376.5Q1128.7 383.3 1128.8 392.2"/>
<path class="s56" d="M1207 537.3Q1210.5 541.6 1211.5 544"/>
<path class="s34" d="M1298.9 585.9Q1298.5 592.1 1302.7 597.3"/>
<path class="s48" d="M1290 389Q1300.4 390.7 1309.2 391.6"/>
<path class="s53" d="M1156.8 487Q1156.1 492.2 1160.3 497"/>
<path class="s42" d="M979.3 481.1Q975.4 485.4 972.5 488"/>
<path class="s45" d="M1271.1 555.3Q1271.9 561.1 1274.7 568.5"/>
<path class="s42" d="M1091.8 549.9Q1096.7 554.7 1101 560.8"/>
<path class="s39" d="M974.3 588.6Q984.4 589.4 993.8 586.6"/>
<path class="s44" d="M947.9 590.6Q948.2 598.4 952.9 602.3"/>
<path class="s45" d="M1059.7 524.5Q1064.7 524.6 1065.4 521.2"/>
<path class="s44" d="M1025.1 624Q1031.7 622.8 1039.1 625.7"/>
<path class="s38" d="M984.7 520Q988.1 521.8 988.5 526.1"/>
<path class="s46" d="M1130.2 387.1Q1127.6 393.1 1122.8 397.5"/>
<path class="s40" d="M1301.2 538.6Q1307.2 537.3 1312.1 540.7"/>
<path class="s52" d="M1224.1 398.2Q1221.8 404.8 1218.8 410.5"/>
<path class="s45" d="M1067.6 586.4Q1069.2 584 1072.8 583.3"/>
<path class="s39" d="M1317.8 519.6Q1324.4 521 1333.5 519.7"/>
<path class="s38" d="M1179.2 575Q1179.7 580.6 1176.9 584.6"/>
<path class="s32" d="M977.2 557.4Q982.4 557.5 987.6 560.1"/>
<path class="s45" d="M1029 350.4Q1036.3 349.7 1040.2 348"/>
<path class="s53" d="M1109.6 490.1Q1113.7 492.7 1122.4 495.6"/>
<path class="s46" d="M1132.1 523.7Q1134.8 527.1 1135.8 533.3"/>
<path class="s35" d="M1010.9 612Q1016.3 614 1023.8 619.7"/>
<path class="s43" d="M1214.5 394.3Q1206.5 394.6 1199.2 394.2"/>
<path class="s47" d="M1211.4 461.8Q1211.5 463.1 1209.2 468.7"/>
<path class="s45" d="M1009.6 465.6Q1010.6 470.2 1014.2 475.7"/>
<path class="s40" d="M1192.2 606.7Q1183.9 613.1 1176.2 615.8"/>
<path class="s46" d="M1099.9 621.1Q1100.6 629.2 1103.8 636.6"/>
<path class="s42" d="M1206.2 489Q1202.4 493.3 1201 500.7"/>
<path class="s53" d="M1174.6 497.9Q1179 501.2 1179 504.5"/>
<path class="s36" d="M955.2 436.2Q952.1 440.5 951.2 445.1"/>
<path class="s37" d="M1107.2 521.1Q1110 525.2 1114.1 526.4"/>
<path class="s31" d="M1178 382.3Q1169.6 385.9 1161.2 385.4"/>
<path class="s53" d="M1316.4 357Q1315.9 361.9 1320.2 369.3"/>
<path class="s45" d="M1200.4 391.8Q1199.2 393.6 1193.9 399.6"/>
<path class="s48" d="M1113.4 627.6Q1114.7 631.7 1117.9 635"/>
<path class="s51" d="M965.3 422.1Q962.5 429.2 961.4 440.2"/>
<path class="s56" d="M1250.1 532.5Q1254.3 537.9 1256.6 540.1"/>
<path class="s46" d="M1131.8 552Q1135.9 555.9 1135.5 563"/>
<path class="s34" d="M1093 559.1Q1101.2 563.2 1105.5 565.6"/>
<path class="s44" d="M1148.2 353.1Q1149.7 362.6 1152.5 370"/>
<path class="s49" d="M1121 513Q1124.8 513.5 1133.1 518.1"/>
<path class="s32" d="M986.4 493.1Q985.5 498.5 985.5 500.2"/>
<path class="s45" d="M1165.9 340.6Q1165.2 345.9 1164.1 348.8"/>
<path class="s31" d="M1116.5 386.6Q1117.9 391 1117 399.1"/>
<path class="s53" d="M968.6 637Q973.4 635 974.9 636.3"/>
<path class="s35" d="M1269.4 601.9Q1269 608.4 1271.6 616.5"/>
<path class="s31" d="M1208.3 415.6Q1204.1 423.3 1199.6 430.5"/>
<path class="s40" d="M1222 379.1Q1215 382.6 1212.1 383.3"/>
<path class="s50" d="M1213.2 609.5Q1212 609.8 1206 614.1"/>
<path class="s38" d="M1317.9 436.3Q1322.9 433.4 1329.5 428.8"/>
<path class="s36" d="M993.6 354.8Q998.3 356.9 1004.9 361"/>
<path class="s56" d="M969.3 435.8Q966.9 441.6 968 442.8"/>
<path class="s56" d="M1250.8 435.6Q1256.9 437.7 1260.6 442.7"/>
<path class="s52" d="M1293.6 509.2Q1302.7 516.2 1307.8 521.6"/>
<path class="s43" d="M1228.2 601.6Q1219.4 608.5 1212.7 610.7"/>
<path class="s46" d="M1268.7 555.9Q1264.7 562.6 1257.6 569.6"/>
<path class="s37" d="M1304.9 443.4Q1311.3 446.3 1316.1 446.8"/>
<path class="s36" d="M1160.6 464.4Q1160.7 469.1 1158 473.3"/>
<path class="s51" d="M963.3 422.8Q960.6 434.2 960.8 442.3"/>
<path class="s36" d="M1226.8 395.3Q1220.5 396.6 1209.3 399.6"/>
<path class="s45" d="M1155.9 527.6Q1160.3 532.5 1165.6 535.1"/>
<path class="s56" d="M1075.8 600.1Q1077.7 600.5 1080.8 596.7"/>
<path class="s47" d="M1135.2 540.4Q1139 545.4 1141.2 547.3"/>
<path class="s39" d="M1139.7 383.5Q1140.2 390.8 1139.2 401.2"/>
<path class="s50" d="M1262.4 393.8Q1263.1 401.2 1265.2 405.2"/>
<path class="s53" d="M1123.9 628.4Q1120.7 634.3 1120.4 637.9"/>
<path class="s38" d="M1282 635.8Q1284.7 635.5 1288.8 639.5"/>
<path class="s54" d="M1234 436.5Q1232.2 441.4 1232.9 447.3"/>
<path class="s31" d="M1165.6 608.3Q1166.5 615.4 1164.3 619.6"/>
<path class="s45" d="M1056.7 374.8Q1060.7 373.4 1065.3 375.8"/>
<path class="s45" d="M1127.9 361.1Q1129.6 366.9 1130.4 370"/>
<path class="s40" d="M1064.5 563.3Q1074.1 566 1079.5 569.8"/>
<path class="s36" d="M1154.6 530.3Q1155.7 540 1155.7 548.6"/>
<path class="s45" d="M1078.9 537.7Q1085.2 540.9 1089 541.2"/>
<path class="s43" d="M1067.8 563.8Q1078.9 562.9 1086.2 558.1"/>
<path class="s40" d="M1042.5 534.3Q1045.9 536.1 1054.3 539.1"/>
<path class="s37" d="M989.4 584.3Q994.3 583.1 1000.7 580"/>
<path class="s35" d="M1086.4 554.4Q1092.4 554.2 1095 554.2"/>
<path class="s50" d="M1079.6 439Q1082.9 441.8 1090.1 446.2"/>
<path class="s52" d="M1230.2 525.7Q1234.5 530.1 1236.7 532"/>
<path class="s34" d="M1214.5 389.7Q1213.2 395 1209.2 398.2"/>
<path class="s35" d="M1066.5 596Q1074.4 598.2 1085.7 601.3"/>
<path class="s49" d="M1242 564.4Q1244.8 574.1 1250 580.2"/>
<path class="s41" d="M1303.3 488.6Q1311.8 489.4 1315.7 493.4"/>
<path class="s44" d="M1205.6 443.9Q1200.8 450.6 1193.8 454"/>
<path class="s52" d="M1015.5 592.4Q1021.6 593 1028.9 595.7"/>
<path class="s45" d="M1303.5 631.8Q1306.9 636.5 1308.3 639.1"/>
<path class="s37" d="M1030.6 494.1Q1033.5 495.6 1035 500.8"/>
<path class="s42" d="M977.1 426.6Q976.8 430.7 979.3 436.8"/>
<path class="s37" d="M1306.7 397.8Q1310.8 403.2 1310.1 405.4"/>
<path class="s45" d="M1123.1 362.8Q1120.9 366.7 1123.1 372.6"/>
<path class="s53" d="M1033.5 523.1Q1039.2 526.9 1042.1 530"/>
<path class="s41" d="M1004.7 362Q1009 359.5 1009.9 358.6"/>
<path class="s35" d="M1216.7 347.6Q1211.7 353.2 1204.1 354.5"/>
<path class="s47" d="M1274.6 541Q1282.4 542.8 1285.5 549.2"/>
<path class="s46" d="M1069.8 599.5Q1074.6 602.2 1084 609.3"/>
<path class="s45" d="M1282.6 454.2Q1287.5 453.8 1290.9 453.9"/>
<path class="s39" d="M1220.4 493.8Q1217.1 501 1214.4 510.3"/>
<path class="s37" d="M1033.1 630.6Q1035.5 626.2 1042.5 625.9"/>
<path class="s34" d="M1106.6 575.1Q1109.4 580.5 1114.5 587.1"/>
<path class="s37" d="M982 336.5Q984.3 338.5 988.8 342.2"/>
<path class="s51" d="M1156.4 409.3Q1156.3 414.3 1155.1 420.3"/>
<path class="s50" d="M969.3 433.9Q975.2 436.5 977.5 438"/>
<path class="s56" d="M1285.8 334.6Q1284.5 342 1286.1 346"/>
<path class="s30" d="M1194.9 576Q1197.5 579.1 1196.5 584.4"/>
<path class="s44" d="M1137.4 356.1Q1138.2 365.3 1137.5 374.1"/>
<path class="s39" d="M1056.9 355.6Q1063.7 359.2 1068.2 358.6"/>
<path class="s31" d="M1241.2 356.4Q1239.4 360.4 1233.8 367.7"/>
<path class="s51" d="M1107.7 435.1Q1109.1 440.6 1105.9 447.4"/>
<path class="s53" d="M1095.4 608Q1094.3 615.7 1096.3 621"/>
<path class="s32" d="M945.2 600Q944.1 604.9 942.3 612.7"/>
<path class="s54" d="M1266.1 589.1Q1260.9 593.3 1255.7 598"/>
<path class="s42" d="M963 600.1Q965.5 603.2 964.7 610.7"/>
<path class="s53" d="M1000.5 454.2Q998.8 460.8 997.5 463.4"/>
<path class="s33" d="M1074.2 581Q1078.1 576.7 1084.1 572.3"/>
<path class="s53" d="M1137.3 447.1Q1137.5 451.2 1138.2 458"/>
<path class="s40" d="M1026.4 553.9Q1036.6 553.8 1045.9 549.9"/>
<path class="s50" d="M1034.8 423Q1040 424 1041.4 427"/>
<path class="s53" d="M956.6 457.5Q955.2 463.3 958.7 465.2"/>
<path class="s50" d="M1098.8 495.6Q1101.6 496.8 1108.4 499.2"/>
<path class="s35" d="M1097.5 596.7Q1098.1 602.4 1099.6 605"/>
<path class="s38" d="M1301.4 394.9Q1302.8 396.3 1303.5 400.9"/>
<path class="s34" d="M1023.7 471.6Q1027.1 475.2 1027 480.2"/>
<path class="s42" d="M1055.5 530.8Q1067.5 532.7 1074.8 535"/>
<path class="s41" d="M1295.7 432.7Q1299.9 433.8 1306.7 433.8"/>
<path class="s48" d="M1245.5 330Q1246.3 337.8 1251.1 344.2"/>
<path class="s38" d="M980.7 550.7Q984.9 554.8 985.6 556.8"/>
<path class="s45" d="M1000.6 506.5Q1002.4 512.2 1002.4 516.8"/>
<path class="s46" d="M1006.7 409.5Q1009.5 416.1 1013.2 419.2"/>
<path class="s47" d="M1060.6 437.1Q1064.2 444.5 1065.9 448.9"/>
<path class="s40" d="M953.5 430Q962.7 432 967.1 438.5"/>
<path class="s55" d="M1284.7 389.4Q1289.5 389.2 1292.9 392.9"/>
<path class="s49" d="M990.8 464.9Q992.2 470.8 994.9 474.9"/>
<path class="s43" d="M1080.6 363.9Q1086.2 373.6 1087.1 380.4"/>
<path class="s32" d="M1227.2 442.7Q1230.8 445.2 1232.8 450.8"/>
<path class="s50" d="M1112.1 498.4Q1113.5 503.7 1116.5 508.4"/>
<path class="s31" d="M1321.9 332.7Q1323.8 341.3 1322.2 345.6"/>
<path class="s43" d="M1270.1 397.2Q1273.7 404.7 1280.6 409.1"/>
<path class="s45" d="M1244.5 384.5Q1243.2 387.4 1238.8 394.3"/>
<path class="s46" d="M1236 446.5Q1238.7 451.3 1246.1 451.2"/>
<path class="s30" d="M1275.4 350.5Q1276.3 355.7 1281.4 358.5"/>
<path class="s52" d="M1054.9 423.6Q1064.1 426.6 1072.4 430.8"/>
<path class="s49" d="M1288.3 437Q1293 435.6 1297.4 438"/>
<path class="s35" d="M1162.1 438.3Q1162.4 443.4 1164.4 449.8"/>
<path class="s33" d="M1084 367.8Q1089.2 369 1093.1 367.1"/>
<path class="s38" d="M945 616.2Q946.7 620.7 949.6 627.9"/>
<path class="s50" d="M1016.9 424.2Q1019.8 423.1 1023.7 424.8"/>
<path class="s56" d="M1144.2 550Q1143.8 558.3 1142.5 563.1"/>
<path class="s46" d="M1119.8 481.6Q1124.8 490.4 1132.1 495.7"/>
<path class="s35" d="M1292.2 560.3Q1289.3 565.3 1286 575.1"/>
<path class="s33" d="M1294.4 363.7Q1299.1 368.6 1302 376.1"/>
<path class="s45" d="M1008.5 363Q1013.1 361.4 1018.5 359.9"/>
<path class="s52" d="M1269.2 353.8Q1261.6 355.3 1258.2 361.3"/>
<path class="s41" d="M985.3 478.1Q984.6 483.1 986.1 485.7"/>
<path class="s42" d="M1262.4 385.3Q1256.9 393.8 1252.6 401.8"/>
<path class="s51" d="M1005.4 414.5Q1012.2 418.8 1017 424.1"/>
<path class="s41" d="M994 613.2Q998.4 617 1001.6 622.1"/>
<path class="s51" d="M1157.6 451Q1158.1 458.1 1154.3 464.4"/>
<path class="s53" d="M1003.5 444.1Q1003.9 449.7 1003.5 455.8"/>
<path class="s33" d="M1163.7 426.3Q1161.6 432.6 1163.7 443"/>
<path class="s32" d="M1216.5 519.3Q1217.1 526.2 1213.4 528.5"/>
<path class="s37" d="M1150.7 472.7Q1150.7 478.1 1146.2 483.7"/>
<path class="s38" d="M1274.1 585.1Q1273.2 590.6 1273 593.9"/>
<path class="s35" d="M1091.1 488.9Q1092.7 497 1095.7 501"/>
<path class="s52" d="M946.3 363.7Q953.2 366.1 964.4 364.9"/>
<path class="s36" d="M1160.1 606.5Q1159 617.1 1158.7 624.3"/>
<path class="s45" d="M1310.1 436Q1316 434.6 1322 431.1"/>
<path class="s40" d="M1233.1 513.2Q1240 515.9 1243.9 521.3"/>
<path class="s39" d="M1273.7 620.8Q1273 631.5 1268.5 638.6"/>
<path class="s40" d="M1138.6 364.1Q1141.1 373.7 1142.1 381.5"/>
<path class="s43" d="M952.7 409.1Q959.6 414.7 963.8 422"/>
<path class="s54" d="M1040.2 478.5Q1040.6 482 1042.4 489.3"/>
<path class="s48" d="M1226.6 565.9Q1225.6 576.4 1227.5 582.2"/>
<path class="s52" d="M953.6 488.4Q950.4 489.5 945 494"/>
<path class="s31" d="M1123.8 598.6Q1129.5 601.2 1132.7 603.3"/>
<path class="s50" d="M1029.7 551.5Q1032.3 551.5 1035.8 551.9"/>
<path class="s52" d="M1052.8 494.9Q1056.3 500.4 1063.6 507.5"/>
<path class="s39" d="M1079.9 355.9Q1086.6 365.3 1091.5 371.3"/>
<path class="s42" d="M988.9 387.2Q996.8 393 1005 398.6"/>
<path class="s36" d="M1067.3 605.3Q1071.1 602.6 1078.3 600.8"/>
<path class="s34" d="M1027.8 465.2Q1031.6 467.5 1031.4 474"/>
<path class="s35" d="M961 568.6Q965.9 573.2 974.1 575"/>
<path class="s42" d="M1234.5 476.7Q1242.2 478.6 1245.1 483.1"/>
<path class="s37" d="M1316.3 419.3Q1323.6 417.7 1329.4 414.4"/>
<path class="s35" d="M1109.1 346.7Q1112.7 346.4 1119.6 347.8"/>
<path class="s56" d="M1126.7 523.4Q1128.4 521.3 1134.3 523.6"/>
<path class="s35" d="M1102.6 465.6Q1103.4 471.8 1102.3 474.6"/>
<path class="s43" d="M1040.2 383.4Q1046.4 382.4 1052.9 383.5"/>
<path class="s33" d="M1044.4 481.8Q1052.5 484.9 1057 483.6"/>
<path class="s39" d="M1259.9 363.9Q1256.7 367.7 1251.2 371"/>
<path class="s49" d="M1100.4 573.5Q1103.5 578.4 1106.3 579"/>
<path class="s46" d="M973.3 485.9Q971.3 494.7 970.3 505"/>
<path class="s56" d="M1215.9 416.2Q1215.2 422.4 1215.4 427.6"/>
<path class="s50" d="M1301.9 350.5Q1306.5 356.7 1306.7 361.3"/>
<path class="s50" d="M961.5 419.9Q964.9 426 972 428.8"/>
<path class="s46" d="M1281.3 414Q1282.1 421.8 1287.4 432.1"/>
<path class="s46" d="M1009 497.7Q1018.1 501.3 1024.9 506"/>
<path class="s50" d="M1283.3 391.6Q1283.8 397.7 1283.9 405.2"/>
<path class="s37" d="M1010.3 507Q1012.3 509.9 1011.7 515.4"/>
<path class="s39" d="M1277.5 616.5Q1278.2 624 1281.3 634.9"/>
<path class="s43" d="M1216.8 541Q1216.8 551.1 1217.6 560"/>
<path class="s41" d="M1309.1 508.5Q1311.3 511.2 1318.4 516.9"/>
<path class="s50" d="M1206.8 411.5Q1203 414.7 1199.1 416.4"/>
<path class="s53" d="M1291.3 483.3Q1296.6 480.7 1300.1 482.6"/>
<path class="s31" d="M1116.2 584.4Q1120.3 593.8 1124.6 600"/>
<path class="s34" d="M1026.5 524.8Q1031.9 532.2 1039.4 535.5"/>
<path class="s39" d="M1186.1 589.5Q1183 595.3 1175.1 596.8"/>
<path class="s32" d="M1252.2 611.4Q1252.3 612.5 1249 616.7"/>
<path class="s45" d="M1117 434.1Q1113.7 440.1 1114.5 444.4"/>
<path class="s38" d="M996.8 602.8Q1004 605.4 1008 605.8"/>
<path class="s35" d="M1212.9 516.4Q1208.5 521.9 1208.8 524.6"/>
<path class="s54" d="M1250.2 554Q1252 556.6 1251.4 560.8"/>
<path class="s48" d="M1244.4 528.9Q1245.7 530.8 1248 537.4"/>
<path class="s40" d="M957.4 395.9Q961.8 401.1 962.4 409.7"/>
<path class="s45" d="M1020.2 478.8Q1022.2 483.3 1025.4 488.9"/>
<path class="s54" d="M953.9 595.2Q955.7 597.8 961.5 596.7"/>
<path class="s36" d="M1258 623.1Q1254.9 629 1255.3 637.5"/>
<path class="s41" d="M1179.7 346.9Q1180.8 352.1 1178.4 360.1"/>
<path class="s45" d="M1158.4 421.3Q1158.2 427.9 1157.3 433.6"/>
<path class="s52" d="M967.4 414.7Q971.5 417.7 975.3 415.7"/>
<path class="s36" d="M976.3 393.3Q982.9 394.1 984.6 392.4"/>
<path class="s35" d="M1144.3 400.3Q1141.8 407.5 1137.9 411.9"/>
<path class="s53" d="M1305.5 570.7Q1306.1 575.6 1303.8 577.7"/>
<path class="s30" d="M966.6 524.2Q962.2 526 961.3 532.6"/>
<path class="s54" d="M947.5 539.8Q947.8 543.3 948.2 547.3"/>
<path class="s45" d="M955.2 634.9Q955.3 637.2 959.7 641.9"/>
<path class="s38" d="M1031 450.4Q1035.8 456.7 1036.6 458.6"/>
<path class="s43" d="M1207.9 513.7Q1215.1 519.8 1219.6 526.8"/>
<path class="s44" d="M1078 563.5Q1082.4 568.7 1087.7 569.1"/>
<path class="s32" d="M1144.9 378Q1142.8 383.1 1137 387"/>
<path class="s52" d="M949 332.7Q941.6 340 939.1 349.6"/>
<path class="s37" d="M1267.3 544.2Q1271 547.2 1272.1 552"/>
<path class="s40" d="M1275 323.9Q1271.9 330.4 1273.4 332.3"/>
<path class="s39" d="M1124.3 391.2Q1126.6 395.6 1126.4 404.3"/>
<path class="s44" d="M1173.8 622.4Q1167.3 622.3 1163.7 623.3"/>
<path class="s39" d="M1277.2 426.8Q1282.1 425.4 1290 426.4"/>
<path class="s36" d="M1228.8 433.5Q1223.5 439.2 1222.3 443.4"/>
<path class="s52" d="M1256.5 333Q1255.9 336.1 1251.7 342.2"/>
<path class="s34" d="M1147.3 404.7Q1141.4 408.2 1139.9 412.1"/>
<path class="s52" d="M1301 371.8Q1302.2 373.1 1307.8 379"/>
<path class="s34" d="M1004.5 555.2Q1012.1 559.1 1015.3 559.3"/>
<path class="s34" d="M1230.8 392.6Q1228.9 399.3 1228.7 401.3"/>
<path class="s49" d="M1110.1 363.2Q1112.6 366.6 1117.1 368"/>
<path class="s45" d="M1283.1 528.9Q1283.5 531.6 1285.7 537.2"/>
<path class="s31" d="M1228.4 325.2Q1228.7 335.5 1228.5 345.2"/>
<path class="s42" d="M1223.1 592.5Q1214.5 594.9 1208.4 597.8"/>
<path class="s35" d="M1089.1 599.6Q1096.1 598.6 1107.4 599.9"/>
<path class="s34" d="M1257.2 364.8Q1260.5 368.4 1263 374.4"/>
<path class="s35" d="M1225.1 547.3Q1224.3 554.8 1224.8 559.5"/>
<path class="s51" d="M1299 356.9Q1303.2 363.2 1303.3 367.8"/>
<path class="s50" d="M1311.1 453Q1315.9 452 1318.8 454.2"/>
<path class="s34" d="M1064.1 408Q1070.7 407.3 1080.2 407.1"/>
<path class="s34" d="M1268.5 488.2Q1273.9 486.8 1279.3 485.2"/>
<path class="s39" d="M1067.2 562.4Q1072.3 557.8 1075.2 553.5"/>
<path class="s31" d="M1161.9 476.6Q1166.4 482.9 1169.6 484.5"/>
<path class="s50" d="M1205.1 488.3Q1208.3 491.9 1210.4 495.2"/>
<path class="s39" d="M962 520Q959.1 523.5 954.4 526.9"/>
<path class="s43" d="M985.8 460.5Q983.9 467.3 985.2 470.5"/>
<path class="s37" d="M952.2 614.9Q953.7 617.4 959.2 616.6"/>
<path class="s38" d="M1123.5 479.8Q1123.4 486.3 1127.4 489.1"/>
<path class="s45" d="M1063.4 507.1Q1064.6 505.1 1070.6 505.6"/>
<path class="s33" d="M980.5 402.4Q987 408.6 994.7 412.1"/>
<path class="s48" d="M1180.9 376.3Q1179.8 380.9 1176.3 383.4"/>
<path class="s45" d="M1004.2 344.4Q1009 346.5 1017 350.1"/>
<path class="s32" d="M1287.3 543.3Q1291.9 545 1295.4 550"/>
<path class="s47" d="M1297.9 357.1Q1305.3 359.4 1308.3 361.5"/>
<path class="s33" d="M1020.4 466.8Q1020.2 472.9 1020.4 477.1"/>
<path class="s48" d="M973.5 480.4Q978.2 486.8 982.9 496.6"/>
<path class="s36" d="M1238.4 361.8Q1239.1 367.1 1236.2 371.7"/>
<path class="s45" d="M951.6 526.5Q949.1 532.4 944.2 537.4"/>
<path class="s51" d="M971.7 504.4Q968.7 510.7 965.3 516.7"/>
<path class="s50" d="M1148.6 395Q1145.8 399.2 1144.1 400.9"/>
<path class="s45" d="M945.8 604.1Q944.7 606.7 948.4 611.9"/>
<path class="s45" d="M952.2 521.8Q955.3 527.4 953.5 535.5"/>
<path class="s38" d="M1103.6 409.7Q1104.9 413.7 1106.6 415.4"/>
<path class="s42" d="M1003.9 613.8Q1012.4 608.4 1017.2 606.5"/>
<path class="s52" d="M1052 353.2Q1060.9 358.1 1067.9 361.1"/>
<path class="s48" d="M1024.3 405.2Q1029.8 412.6 1034.3 415.5"/>
<path class="s31" d="M1042.6 599.6Q1049.6 601.5 1052.9 602.3"/>
<path class="s43" d="M1134.6 484.6Q1135.6 492.1 1131.7 495.6"/>
<path class="s38" d="M1098.2 406.7Q1101.7 412.4 1108.1 415.9"/>
<path class="s39" d="M1024.7 392.1Q1032.8 390.5 1042 391.6"/>
<path class="s46" d="M981.4 594.8Q984.4 592 992.5 590.5"/>
<path class="s31" d="M978.3 621.2Q981.9 618.5 988.3 620.4"/>
<path class="s46" d="M1053.1 337.5Q1060.3 338.9 1065.4 338.2"/>
<path class="s49" d="M1113.9 448Q1114.9 454.1 1111.4 463.9"/>
<path class="s32" d="M1090 533.8Q1091.4 534.5 1096.9 538.8"/>
<path class="s41" d="M1109.1 535.5Q1115.3 537.4 1117.3 542.9"/>
<path class="s48" d="M1152.1 599Q1149.6 603.3 1145.7 607.5"/>
<path class="s52" d="M1273.5 606.1Q1272.9 607.1 1267.8 613"/>
<path class="s37" d="M1184.6 437.5Q1180.8 443 1177.3 444.7"/>
<path class="s36" d="M1012.8 624.1Q1018.7 623.7 1020.8 622.7"/>
<path class="s41" d="M971.6 442.3Q972.8 444.9 972.6 451.4"/>
<path class="s40" d="M1125.3 537.2Q1134.6 535.6 1141.6 536.4"/>
<path class="s49" d="M1020 514Q1021.5 523.5 1024.6 529"/>
<path class="s56" d="M1230.5 409.2Q1230.5 414.8 1229.1 420.2"/>
<path class="s31" d="M1049.1 501.1Q1054.1 506.2 1055.6 511.5"/>
<path class="s53" d="M943.9 502.7Q940.9 509.3 940.2 514.4"/>
<path class="s48" d="M952.2 624Q957.7 627.2 962 626"/>
<path class="s45" d="M1083.9 613.5Q1087.7 620.5 1088.7 625.4"/>
<path class="s51" d="M1128.2 323.7Q1130.7 328.2 1130.8 337.3"/>
<path class="s49" d="M1136.2 450.7Q1133.5 458.1 1133.6 460.6"/>
<path class="s38" d="M1246.2 374.2Q1245.4 378.3 1242.7 379.9"/>
<path class="s44" d="M1312.4 522.8Q1315.1 529.3 1313 539.3"/>
<path class="s56" d="M998 585.9Q1003 587.1 1006.7 587.9"/>
<path class="s53" d="M1088.7 462.6Q1088.7 464.8 1090.5 468.7"/>
<path class="s38" d="M1104.1 363.1Q1108.8 366.9 1110.9 366.4"/>
<path class="s53" d="M1306 397.2Q1309.3 396.5 1313.8 395.6"/>
<path class="s35" d="M1120.3 601Q1118.6 610.2 1117.4 614.8"/>
<path class="s39" d="M1209.3 566.9Q1210.8 572.9 1211.9 579"/>
<path class="s32" d="M1220 529.6Q1218.9 535.6 1218.1 539.3"/>
<path class="s45" d="M1264 574.8Q1267.6 580.9 1270.6 583.2"/>
<path class="s31" d="M1126.3 535.6Q1135.6 542.5 1140.9 547.4"/>
<path class="s56" d="M1169.3 349.8Q1167.4 352.3 1168.3 356.5"/>
<path class="s53" d="M1026.3 598.4Q1031.6 594.8 1034.3 591.1"/>
<path class="s52" d="M1052.3 383.4Q1060.5 392.5 1065.2 397.1"/>
<path class="s48" d="M1162.4 459.2Q1160.6 463.1 1159.8 468.8"/>
<path class="s40" d="M1172.4 441.9Q1173.3 452 1172.3 459.6"/>
<path class="s46" d="M1194.8 385.3Q1185.1 390 1178.8 393.1"/>
<path class="s34" d="M1088.5 575.3Q1095.5 578.2 1103.5 576.5"/>
<path class="s35" d="M1262.3 575.7Q1265.7 581.1 1270.9 589.3"/>
<path class="s34" d="M1164.4 372.8Q1156.4 381.5 1153.1 387.3"/>
<path class="s53" d="M1204 606Q1202 610 1195.2 613.7"/>
<path class="s38" d="M1263.2 611.5Q1263.1 615.6 1266.9 619.4"/>
<path class="s38" d="M960.7 609.5Q961.7 614.5 967 618.5"/>
<path class="s50" d="M1012.6 604.9Q1019.5 605.6 1025.4 606.8"/>
<path class="s41" d="M1276.8 627.3Q1276.8 631.1 1280.1 639.2"/>
<path class="s45" d="M1271.4 541.9Q1274.5 544.9 1277.4 549.4"/>
<path class="s47" d="M1253 485.1Q1255 487.8 1256.1 495.1"/>
<path class="s53" d="M970.5 503.3Q969.3 509.2 970.1 511.8"/>
<path class="s31" d="M1031.4 564.3Q1038.1 561.7 1040.9 558.4"/>
<path class="s39" d="M1235.6 470.8Q1243.7 478.3 1247.6 483"/>
<path class="s45" d="M1293 391.7Q1301.7 389.2 1306.6 391.1"/>
<path class="s42" d="M1269.9 444.6Q1272 448.9 1275.6 453.7"/>
<path class="s48" d="M1087.2 413.5Q1095.9 419.4 1100.4 428.3"/>
<path class="s52" d="M1110.5 631.3Q1111.2 638 1115.6 642.9"/>
<path class="s39" d="M1207.2 498.5Q1205.5 500.7 1205.3 507.2"/>
<path class="s38" d="M1103.7 350.8Q1109.7 350.6 1116.7 352.5"/>
<path class="s37" d="M1140.2 586Q1145.5 588.1 1147.3 594.3"/>
<path class="s44" d="M971.8 444.9Q981.5 447.7 986.3 455.4"/>
<path class="s40" d="M1166.9 468.6Q1166.5 472.3 1167 479.2"/>
<path class="s35" d="M1306.6 496.2Q1312.2 493.6 1320.2 494.1"/>
<path class="s45" d="M996.6 572Q1000.8 570.4 1006.8 573.4"/>
<path class="s39" d="M957.2 635.4Q967.4 637.9 976.1 641.4"/>
<path class="s33" d="M1171.1 476.1Q1171.4 481.9 1170.9 489.2"/>
<path class="s31" d="M1231.5 517.5Q1239.9 521.9 1247.5 528.4"/>
<path class="s45" d="M1287.8 526.7Q1291.2 530.8 1297.7 535.2"/>
<path class="s32" d="M958.2 415.1Q959.9 422.4 961.4 427.9"/>
<path class="s32" d="M1051.3 603.7Q1053.3 600 1056.8 600.9"/>
<path class="s48" d="M1063.7 382.6Q1071.5 383.2 1077.2 384.9"/>
<path class="s31" d="M1142 381.6Q1144.8 391.8 1145.9 400"/>
<path class="s48" d="M1124.1 349.4Q1131.7 355.8 1137.2 361.5"/>
<path class="s31" d="M1307.5 338.4Q1315 340 1320.1 342.5"/>
<path class="s45" d="M958.8 629.2Q958.2 632.9 960.1 640.1"/>
<path class="s53" d="M1032.6 556.4Q1038.6 554.8 1042.1 554.2"/>
<path class="s35" d="M1025.5 477.6Q1028.2 483.8 1035.2 490.6"/>
<path class="s50" d="M1057.5 387.7Q1065.2 387.5 1068.4 388.5"/>
<path class="s54" d="M1319.1 570.3Q1324 573.7 1327.9 574.9"/>
<path class="s43" d="M996.7 492Q997.9 499.8 997.7 507.7"/>
<path class="s33" d="M1065.6 561.4Q1075.5 562.7 1082.1 562.2"/>
<path class="s36" d="M1093.4 590.6Q1101.5 598.5 1107.4 604.7"/>
<path class="s34" d="M966.7 377.9Q975.3 380.2 980.3 379.3"/>
<path class="s37" d="M1308.6 440.4Q1313.8 441.8 1315.9 443.1"/>
<path class="s43" d="M996.6 610.6Q1003.2 606.6 1008.8 603.1"/>
<path class="s30" d="M990 428.9Q995.8 432.1 997.2 434.1"/>
<path class="s49" d="M1192 369.4Q1181.8 371.8 1176.5 374.6"/>
<path class="s48" d="M1214.3 359.8Q1207.6 360.3 1198.5 362.6"/>
<path class="s46" d="M1068.4 370.8Q1077.1 370.6 1084.2 372.1"/>
<path class="s34" d="M1036.8 434.3Q1044.9 436.7 1054.1 437.5"/>
<path class="s32" d="M1230.3 465.3Q1232.4 468.1 1229.6 472.1"/>
<path class="s46" d="M1070.8 427.3Q1075.8 429.8 1076.1 435.2"/>
<path class="s52" d="M1183.7 498.5Q1186.2 503.4 1186.2 508.1"/>
<path class="s34" d="M1309.5 389.2Q1319.5 390.5 1327.6 389.6"/>
<path class="s49" d="M1182.1 488.3Q1187.4 495.2 1190.8 498.5"/>
<path class="s50" d="M1125.6 356.5Q1126.9 358.9 1131.4 360.3"/>
<path class="s38" d="M1245.8 369.1Q1247.2 376 1243.7 380.2"/>
<path class="s36" d="M1019.3 470.9Q1015.7 476.2 1016 486.5"/>
<path class="s52" d="M1190.8 568.4Q1188.1 576 1182.9 584.9"/>
<path class="s42" d="M1027 587.5Q1031.3 584.6 1038.7 583.1"/>
<path class="s38" d="M1151.5 356.2Q1153 358.8 1154.1 365.2"/>
<path class="s42" d="M1101.6 440.6Q1107.1 443.5 1108.9 447"/>
<path class="s49" d="M1022.9 364.5Q1025.9 368.2 1032.2 368.7"/>
<path class="s34" d="M1151.5 544.7Q1161.4 550.7 1169.2 553.4"/>
<path class="s54" d="M1314 414.2Q1315.8 415.6 1319.7 417.3"/>
<path class="s37" d="M1010.2 328.9Q1014 330.2 1019.4 330.3"/>
<path class="s38" d="M1145.5 617.1Q1143.9 620.8 1140.9 623.7"/>
<path class="s41" d="M1041.7 626.6Q1047.3 629 1049.7 632.5"/>
<path class="s34" d="M1130.7 589.3Q1136.6 595.9 1138.3 600"/>
<path class="s43" d="M1245.1 542.4Q1246.6 550.6 1252.6 559"/>
<path class="s37" d="M1018.2 617.7Q1022.2 612.6 1028.4 608.6"/>
<path class="s49" d="M966.9 332.7Q973.1 335.4 978.2 333.3"/>
<path class="s48" d="M1251.7 590.1Q1254.6 596 1255 597.8"/>
<path class="s40" d="M1165.7 350.3Q1157.9 360.1 1153.3 365.5"/>
<path class="s56" d="M1307.5 479.7Q1313.2 477.5 1315 474.8"/>
<path class="s51" d="M1164.3 376.1Q1161.2 376.4 1154.2 379.9"/>
<path class="s32" d="M1017.9 361Q1024 360.8 1026.5 356.9"/>
<path class="s53" d="M1303.2 579Q1300.2 583.5 1301.6 586"/>
<path class="s55" d="M957.8 405.6Q960.6 411.8 960.3 414.8"/>
<path class="s46" d="M1167.9 602.6Q1167.4 611.5 1169 615.7"/>
<path class="s32" d="M1315.8 348.4Q1317.1 354.7 1316.9 358.9"/>
<path class="s45" d="M1170.6 556.6Q1167.9 561.5 1167 567.6"/>
<path class="s31" d="M1049.8 362.9Q1058 360.7 1068.3 355.2"/>
<path class="s40" d="M1152.4 531.8Q1155.8 536.5 1160.6 544.9"/>
<path class="s50" d="M1166.9 421.7Q1164.5 426.3 1160.2 431.3"/>
<path class="s52" d="M1007.5 371.5Q1015.8 378.7 1023.6 382"/>
<path class="s39" d="M1287.7 390.6Q1291.2 390 1298.5 392.3"/>
<path class="s37" d="M1186.8 394.2Q1181.5 396.2 1180.3 397.4"/>
<path class="s44" d="M968.3 397.3Q978.1 397.4 986.8 394.2"/>
<path class="s47" d="M1163.5 569.2Q1163.5 576.4 1168.6 578.6"/>
<path class="s37" d="M1275.1 462.9Q1278.7 462.6 1282.2 465.5"/>
<path class="s32" d="M1302.1 456.2Q1305.8 457.5 1308.3 457"/>
<path class="s32" d="M1305.1 579.3Q1308.5 581.5 1314.4 587.9"/>
<path class="s45" d="M1055.8 445.1Q1058.1 450.7 1059 454.2"/>
<path class="s42" d="M1028.8 498.6Q1038.4 497.2 1048.7 498.6"/>
<path class="s46" d="M1151.5 335.1Q1153.6 340.8 1157.2 343.4"/>
<path class="s32" d="M1262.3 571.4Q1260.8 578.4 1263.8 585.1"/>
<path class="s37" d="M1211.1 463.3Q1212.1 468.2 1215 470.1"/>
<path class="s32" d="M1145 563.6Q1148.7 567.9 1147.9 570.8"/>
<path class="s32" d="M1114.5 596.9Q1115.4 605.3 1116.9 609.7"/>
<path class="s38" d="M1289.1 532.8Q1297.4 537 1301.6 536.3"/>
<path class="s40" d="M1126.6 509.1Q1128.9 511.2 1128.8 517.6"/>
<path class="s56" d="M1322.3 337.8Q1321.9 340.1 1325.4 343.3"/>
<path class="s30" d="M958.4 459.2Q957.2 463.5 958.9 468"/>
<path class="s42" d="M1184.7 330.5Q1184.4 336.3 1188.3 341.8"/>
<path class="s50" d="M1110.9 447.3Q1110.6 450.9 1107.5 455.6"/>
<path class="s43" d="M1076.4 524.4Q1080.7 527 1086 531.4"/>
<path class="s32" d="M1219.3 556.2Q1215.3 560.3 1210.9 562.4"/>
<path class="s34" d="M1078.1 346.8Q1082.8 352 1092.2 356.2"/>
<path class="s38" d="M1214.8 538.9Q1211.1 546.4 1207.5 549.2"/>
<path class="s42" d="M967.9 611.3Q971.6 616.5 978.8 625.2"/>
<path class="s30" d="M1105.8 508.9Q1114.5 512.8 1118.3 514.5"/>
<path class="s30" d="M1302 324.6Q1301.9 329.3 1304.6 330.7"/>
<path class="s35" d="M1178.8 377.5Q1173.1 384.7 1169.6 390.9"/>
<path class="s32" d="M949.9 610.7Q950.7 613 954.7 618.6"/>
<path class="s48" d="M1145.1 426.8Q1144 437.1 1139.4 443.2"/>
<path class="s34" d="M1280.8 362Q1282.4 367.5 1285.3 372.8"/>
<path class="s35" d="M1024.7 369.5Q1029.5 365.4 1035 357.2"/>
<path class="s43" d="M1251.8 371.6Q1249.3 379.1 1242.5 383.7"/>
<path class="s38" d="M982 420.8Q983.4 422.6 988.4 421.2"/>
<path class="s34" d="M1155.9 453.3Q1161 460.6 1161.9 469.9"/>
<path class="s53" d="M1165.5 514.1Q1166.5 518.2 1168.3 519.8"/>
<path class="s50" d="M999.8 375.3Q1000.7 376.3 1006.3 375.9"/>
<path class="s34" d="M1089.5 504.3Q1096.3 507 1101.2 509.3"/>
<path class="s37" d="M1243.9 413.7Q1242.7 419.3 1239.6 421.3"/>
<path class="s45" d="M973.2 636.2Q976.6 636.6 981.1 637.9"/>
<path class="s40" d="M1070.2 369.7Q1073.3 367.6 1079.8 370"/>
<path class="s46" d="M1143.6 448.9Q1148.1 455.7 1152 465.2"/>
<path class="s51" d="M1037.7 628.6Q1042.7 636.1 1051.9 639.2"/>
<path class="s49" d="M1159.1 616.2Q1159.6 622.5 1158.2 631.3"/>
<path class="s50" d="M1030.8 428.1Q1030 432.4 1032 435.9"/>
<path class="s54" d="M1127 563.7Q1131.7 566.1 1138.1 568.6"/>
<path class="s38" d="M1270.2 380.8Q1270.7 384 1273.7 387.6"/>
<path class="s42" d="M1266.1 533.2Q1261.5 543.2 1260 548.2"/>
<path class="s49" d="M1091.2 396.5Q1089.7 400.8 1090.6 404.5"/>
<path class="s54" d="M1034.5 627.4Q1038.8 630.4 1047.4 629.9"/>
<path class="s34" d="M1025.8 375.2Q1031.7 370.7 1034.1 366.3"/>
<path class="s43" d="M1103.7 328.7Q1107.4 328.3 1115.7 326.6"/>
<path class="s53" d="M1302.4 590Q1300.4 592.3 1300.8 596.4"/>
<path class="s47" d="M1099.4 494Q1102.9 499.4 1104.8 501.1"/>
<path class="s31" d="M945 540.6Q944.4 551.4 943.7 560.3"/>
<path class="s31" d="M1080.3 497.8Q1085.4 497 1094.6 498.2"/>
<path class="s37" d="M1222.8 475.1Q1223.2 480.4 1220 486.1"/>
<path class="s38" d="M1043.6 600.2Q1046.5 599.2 1053.6 596.1"/>
<path class="s52" d="M1288.9 399.3Q1292.8 401.7 1292 409"/>
<path class="s38" d="M971.8 493.1Q974.3 493.8 973.6 499.5"/>
<path class="s32" d="M1066.6 362.1Q1072.7 365 1080.5 363"/>
<path class="s35" d="M1318.4 380.4Q1322.8 381.8 1331.2 387.5"/>
<path class="s32" d="M1118.7 606.1Q1118.3 608.1 1121.6 611.8"/>
<path class="s43" d="M1111.2 530.3Q1116.4 535.3 1122.9 536.7"/>
<path class="s41" d="M1295.1 497.2Q1297.6 496.8 1303.3 498.4"/>
<path class="s49" d="M1122.3 425.4Q1120 431.1 1118.4 433.3"/>
<path class="s31" d="M1284.9 603.1Q1286.2 607.6 1285.6 612.9"/>
<path class="s42" d="M1058.8 466.4Q1069.5 469 1075.5 473.4"/>
<path class="s53" d="M978.6 446.8Q977.3 449 978 453.7"/>
<path class="s32" d="M982.5 593.4Q989.5 591.3 995.1 591.1"/>
<path class="s33" d="M1126.7 432.5Q1129.1 440.9 1127.3 446.1"/>
<path class="s39" d="M1053.2 394.9Q1059.1 397 1062.8 394.6"/>
<path class="s52" d="M993.5 364.2Q1002.3 362 1008.4 364.8"/>
<path class="s36" d="M1260.9 526.6Q1256.8 536 1253.5 543.7"/>
<path class="s47" d="M980.9 489.7Q978.2 492.3 976.8 499.3"/>
<path class="s49" d="M1193.2 600.1Q1190.4 604.8 1187.8 610.1"/>
<path class="s42" d="M1209.8 474.2Q1207.3 482.5 1206.9 487.9"/>
<path class="s42" d="M1273.6 620.9Q1273.2 627.6 1277.3 631.8"/>
<path class="s33" d="M1277.8 554.4Q1275.4 561.3 1274.6 566.7"/>
<path class="s54" d="M961.3 523.4Q962.5 526.9 964.2 533.1"/>
<path class="s39" d="M1254.4 408.6Q1252.6 416.6 1245.9 426.4"/>
<path class="s39" d="M996.4 355.2Q1003.2 351 1010.8 350.7"/>
<path class="s34" d="M1012.9 363.7Q1017.2 362.6 1022.8 366.5"/>
<path class="s53" d="M1218.1 544.8Q1218.7 548.4 1219 556.5"/>
<path class="s50" d="M1278 534.7Q1280.7 539.2 1285.9 542.2"/>
<path class="s31" d="M1202.6 458.7Q1200.5 462.8 1196.5 470.3"/>
<path class="s39" d="M1118.7 554.5Q1128.5 558.7 1135.8 559.9"/>
<path class="s52" d="M1044.5 365.1Q1052.4 367.3 1057.5 371.5"/>
<path class="s31" d="M1103.4 491.6Q1105.8 496.9 1104.9 505.6"/>
<path class="s42" d="M1040.5 351.3Q1049.2 352.8 1057.5 349.8"/>
<path class="s30" d="M1153.8 509.8Q1154.3 514.8 1152 517.7"/>
<path class="s39" d="M974.8 484.5Q981.5 491.2 984.7 497.1"/>
<path class="s41" d="M1199.4 552.2Q1196.8 559.3 1196.7 562.4"/>
<path class="s51" d="M1297.7 431.2Q1304.8 429.7 1313.2 428"/>
<path class="s45" d="M1114.8 479.5Q1115.1 485.2 1119 487.2"/>
<path class="s36" d="M1110.1 532.8Q1117 534.1 1126.7 535.2"/>
<path class="s53" d="M946.9 460Q941.9 462.1 939.3 466.3"/>
<path class="s37" d="M1056.2 598.1Q1058.1 593.9 1063.5 587.6"/>
<path class="s35" d="M1056.4 493.7Q1060.3 494 1065.9 498.3"/>
<path class="s33" d="M1227.7 436.5Q1221.2 443 1216.8 450.3"/>
<path class="s48" d="M1221.6 375.8Q1219.6 379.5 1216.2 386.5"/>
<path class="s31" d="M1281.4 346.2Q1277.6 351.2 1277.3 355.2"/>
<path class="s50" d="M947.2 409.9Q953.3 410.2 960.4 413"/>
<path class="s52" d="M1162 447.3Q1161.8 451.6 1157.1 454.9"/>
<path class="s35" d="M1217.3 594.1Q1214.9 604.9 1208.3 611.8"/>
<path class="s44" d="M1010 358.2Q1014.4 358.7 1017.7 360.7"/>
<path class="s36" d="M1163.5 405.1Q1160.8 413.5 1160 424.1"/>
<path class="s38" d="M1013.2 418.6Q1016.6 420 1021 420.7"/>
<path class="s45" d="M1070.2 620.8Q1074.5 622.1 1082.2 624"/>
<path class="s34" d="M944.8 555.7Q939.6 564.2 938.7 573.5"/>
<path class="s45" d="M1098.5 348.3Q1101.4 349.5 1108.6 354"/>
<path class="s31" d="M1164.1 622.2Q1158.6 623.6 1156.2 624.9"/>
<path class="s39" d="M1299.8 608.1Q1300.8 611.9 1300.2 616.8"/>
<path class="s40" d="M1313.8 456.5Q1323.4 454.4 1329.4 448.1"/>
<path class="s44" d="M1191.8 571.2Q1193 580.1 1194.6 589.9"/>
<path class="s31" d="M996.1 546.5Q1001.9 553.5 1003.4 564.9"/>
<path class="s42" d="M1138.3 624.2Q1137.1 627.5 1135 633.6"/>
<path class="s48" d="M1312.5 377.8Q1317.3 380.8 1317.6 385"/>
<path class="s54" d="M1150.5 433.8Q1153.4 436.4 1153.3 442.5"/>
<path class="s50" d="M1252.3 453.9Q1256.5 457.1 1258.8 456.7"/>
<path class="s50" d="M1195.7 375.3Q1195.2 378.8 1192.8 382.7"/>
<path class="s49" d="M1177.1 388.1Q1173.2 390.1 1170 391.7"/>
<path class="s35" d="M1066.6 414.3Q1066.8 422.2 1067.4 425.7"/>
<path class="s38" d="M1212.2 468.2Q1216.4 474.5 1221.2 476.7"/>
<path class="s34" d="M1293 449.9Q1295 452.9 1301.9 453.9"/>
<path class="s32" d="M948.2 535Q948.6 540.1 948.6 544.2"/>
<path class="s49" d="M1295.4 422.7Q1302.1 420.7 1311.4 416.2"/>
<path class="s32" d="M1304 338.4Q1308.8 341 1311.1 347"/>
<path class="s47" d="M1066.1 356.8Q1068 349.8 1073.9 347.7"/>
<path class="s36" d="M1219.5 536.7Q1224.3 545.4 1225.1 549.1"/>
<path class="s42" d="M1193.7 354.7Q1191.3 358.7 1185.3 362.3"/>
<path class="s39" d="M1204.6 454.6Q1197.4 460.5 1192.3 466.9"/>
<path class="s35" d="M1033.4 417.9Q1040.1 421 1047.7 426.6"/>
<path class="s38" d="M955.2 354.9Q953.7 358.2 954 365.8"/>
<path class="s41" d="M1275.1 606.9Q1277.4 611.8 1283.3 616.6"/>
<path class="s51" d="M1281.8 421.9Q1286.8 426.8 1295.2 433.4"/>
<path class="s36" d="M1161.4 409.1Q1160.9 416.5 1159.8 419.4"/>
<path class="s40" d="M1224.9 492.6Q1226.1 501.2 1223.4 506.7"/>
<path class="s37" d="M1023.1 547.9Q1026.7 545.1 1032.5 543.6"/>
<path class="s31" d="M1167.7 347.1Q1163.7 354.7 1161.6 365.3"/>
<path class="s45" d="M1072.9 580.6Q1076.2 582 1083.7 584.9"/>
<path class="s53" d="M1311.9 597.2Q1316.7 600 1319.2 604.3"/>
<path class="s50" d="M1309.6 496.8Q1313.6 496.7 1321.7 500.1"/>
<path class="s37" d="M1189.1 633.2Q1186.8 637.4 1187.4 642.2"/>
<path class="s32" d="M1183.1 333.8Q1185 341.1 1183.7 345.4"/>
<path class="s42" d="M1121.3 342.1Q1126.1 347.9 1126.1 352.7"/>
<path class="s35" d="M1229.3 496.7Q1226.3 504.5 1223.9 514.8"/>
<path class="s43" d="M1282.4 395.8Q1287 399.4 1290.3 398.6"/>
<path class="s46" d="M969.3 329Q968.1 338.2 968.5 343.4"/>
<path class="s42" d="M1312.2 351.8Q1311.6 361.2 1313.8 367.2"/>
<path class="s43" d="M1042.7 551.2Q1050.2 547.4 1054 540.1"/>
<path class="s45" d="M1153.8 398Q1149 401.7 1145.9 400.6"/>
<path class="s49" d="M1249.7 551.6Q1250.4 559.5 1248.1 568.7"/>
<path class="s54" d="M1187.7 374.2Q1185.4 373.2 1179.9 375.9"/>
<path class="s46" d="M1039.5 569Q1041.6 567.4 1045 561.5"/>
<path class="s43" d="M1182.9 376Q1180.5 384.1 1176.1 389.2"/>
<path class="s35" d="M1099.5 478.1Q1101.5 483.6 1100.4 491.2"/>
<path class="s39" d="M952.1 430.1Q950.7 439.2 948.2 446"/>
<path class="s51" d="M1137.6 379Q1132.9 381.2 1131.4 387.9"/>
<path class="s44" d="M949.5 593.4Q952.3 599.1 954 609.5"/>
<path class="s44" d="M1257.9 354.9Q1262.8 363.1 1265.1 372.2"/>
<path class="s37" d="M1294.8 529.8Q1298.6 529.9 1302.7 531.7"/>
<path class="s32" d="M1278.1 456.1Q1284.3 459.9 1286 464.6"/>
<path class="s32" d="M1112.4 352.4Q1118.7 355.1 1124.9 358.7"/>
<path class="s54" d="M1057.4 351.3Q1061.9 348.8 1067.7 348.2"/>
<path class="s43" d="M1132.5 526.9Q1137.1 530.4 1142.7 531.8"/>
<path class="s30" d="M972.6 369.9Q973.7 370.5 978.6 369.9"/>
<path class="s35" d="M951.4 440.8Q953 451.5 957 457.3"/>
<path class="s45" d="M1282.8 329.4Q1282.6 332.7 1282 337.7"/>
<path class="s51" d="M1068.1 496.9Q1074 497.3 1078 499.9"/>
<path class="s50" d="M1060.2 483.9Q1062.5 490.1 1061.6 492.9"/>
<path class="s52" d="M1082.9 359Q1084.6 364.2 1090 365.8"/>
<path class="s31" d="M1043.4 510.1Q1049.4 515.7 1054.6 520.8"/>
<path class="s51" d="M1146.8 488.6Q1148.5 493.5 1154.5 494.3"/>
<path class="s46" d="M1023.3 408Q1027 409.6 1031.8 407.2"/>
<path class="s34" d="M1047.8 339.3Q1052.3 337.9 1055.5 335.5"/>
<path class="s36" d="M1131.6 453.5Q1138.5 458.9 1141.4 468.1"/>
<path class="s31" d="M1225.7 405.3Q1222.5 407.3 1215.2 410.2"/>
<path class="s37" d="M1322.9 473.7Q1325.3 471.3 1328.1 468.1"/>
<path class="s53" d="M1125.2 467.8Q1128.1 471.7 1134.2 475"/>
<path class="s39" d="M1083.3 390.6Q1089.3 394.8 1095.3 394.2"/>
<path class="s39" d="M1092 401.5Q1095.4 408.6 1095.6 415.6"/>
<path class="s31" d="M1023 468.6Q1024.5 474.8 1031 480.7"/>
<path class="s55" d="M1123.6 489.7Q1125.6 491.6 1124.4 497.5"/>
<path class="s49" d="M1021.5 615.7Q1025.5 613.3 1031.6 614.5"/>
<path class="s39" d="M994.8 349.7Q997.9 351.7 1001.6 357"/>
<path class="s56" d="M1167.4 456.2Q1166 458 1161.2 464.3"/>
<path class="s51" d="M1205.6 446.6Q1211.4 454.9 1213.6 463.7"/>
<path class="s52" d="M1109.7 394.2Q1108.9 399.8 1108.7 403.8"/>
<path class="s53" d="M1105.2 602.9Q1109.7 601.7 1112.6 603.7"/>
<path class="s31" d="M997.4 482.7Q1005.4 489 1010.9 495.7"/>
<path class="s47" d="M1311.4 427.5Q1319.7 430.9 1323.7 432.5"/>
<path class="s40" d="M1041.3 557.4Q1048.9 558.1 1060 554.2"/>
<path class="s45" d="M959.2 436.5Q957.2 441.2 955.4 444.8"/>
<path class="s33" d="M1318.4 537.8Q1319.2 547.2 1317.1 553"/>
<path class="s35" d="M1130.5 500.1Q1129.9 505.5 1129.5 511.3"/>
<path class="s32" d="M1310 435.5Q1315.5 432.3 1322.5 429.6"/>
<path class="s35" d="M999.2 393Q1003.9 393.1 1009.8 390.3"/>
<path class="s42" d="M1248.2 389.5Q1250.2 397.6 1250.9 407.7"/>
<path class="s56" d="M1051.4 542.5Q1056 540.4 1064.7 540"/>
<path class="s45" d="M1175.5 495.8Q1174.4 501.6 1176.9 506.6"/>
<path class="s31" d="M1237.1 386.1Q1231.5 390.7 1227.7 391.4"/>
<path class="s46" d="M1226.3 574.4Q1223.2 579.9 1222.6 583.2"/>
<path class="s32" d="M996.5 370.2Q998.4 367.7 1003.8 369.9"/>
<path class="s34" d="M1321.4 521.5Q1324.4 527.4 1328.3 531.2"/>
<path class="s46" d="M1245.1 560.7Q1241.2 562.4 1234.8 568.1"/>
<path class="s56" d="M1140.2 460.2Q1140.2 462.4 1141.9 467.8"/>
<path class="s31" d="M1080.7 513.7Q1081.9 519 1085.8 522.2"/>
<path class="s35" d="M992.9 514.5Q1001.9 518.8 1008.5 520.8"/>
<path class="s48" d="M1292.4 620.3Q1299.2 624.1 1308.7 630.9"/>
<path class="s40" d="M944 583.4Q945 585.8 943.8 592.5"/>
<path class="s30" d="M1312.3 348.9Q1313.6 354.9 1318.2 357.6"/>
<path class="s53" d="M946.8 514.7Q942.9 517.8 935.2 520.1"/>
<path class="s53" d="M1203.3 437.4Q1203 443.3 1198.3 449.9"/>
<path class="s42" d="M1269.4 490Q1277.7 485.9 1284 484.2"/>
<path class="s45" d="M996.4 454Q1001.3 457.6 1001.2 463"/>
<path class="s49" d="M1026.5 603Q1029.1 597.5 1035.1 590.3"/>
<path class="s41" d="M1091.2 444.2Q1091.6 447.7 1089.1 450"/>
<path class="s53" d="M1210.7 514.4Q1208.3 519 1207.6 519.9"/>
<path class="s41" d="M996.8 575Q1002.9 576.2 1005.4 580.3"/>
<path class="s31" d="M959.8 570.3Q959.2 580 955.8 586.4"/>
<path class="s50" d="M1187.1 526.2Q1186.9 528.1 1186.5 533.2"/>
<path class="s37" d="M1176.1 447.5Q1174.5 450.4 1172.7 454.3"/>
<path class="s51" d="M1273.7 405.5Q1280.4 413.2 1283.8 417.4"/>
<path class="s46" d="M1311.9 396.1Q1317.6 401 1324.5 407.6"/>
<path class="s35" d="M988.8 525.4Q986.3 534.5 985.7 540.7"/>
<path class="s32" d="M1131.7 584.6Q1132.5 589.6 1134.6 596.6"/>
<path class="s32" d="M1192.7 496.1Q1195.3 499.5 1193.9 503.4"/>
<path class="s39" d="M1201.8 545.5Q1201.3 551.7 1198.6 559.7"/>
<path class="s39" d="M1267.9 394.3Q1265.2 400.9 1261.9 407.6"/>
<path class="s34" d="M1302.6 435.4Q1312 431.8 1318.8 428.8"/>
<path class="s40" d="M1032.6 550.5Q1039.9 547.8 1047.1 546.1"/>
<path class="s45" d="M1313.6 427.2Q1319.2 427.1 1323.6 430.2"/>
<path class="s36" d="M969.2 413.3Q976.6 420.8 980.1 424.1"/>
<path class="s42" d="M965.5 347.7Q974.3 346.1 980.2 349"/>
<path class="s42" d="M1080.9 526.4Q1086.3 532 1090.1 537.4"/>
<path class="s41" d="M1250.1 339Q1245 341.6 1243.7 342.2"/>
<path class="s36" d="M1259.3 374.1Q1256.9 380.3 1256.8 384.6"/>
<path class="s31" d="M1084.8 496.5Q1088.5 499.5 1093 507.2"/>
<path class="s31" d="M1226.2 404.8Q1223 413 1221.1 417.7"/>
<path class="s44" d="M966.4 474.6Q963.2 482.5 964 489.5"/>
<path class="s43" d="M1227.7 347.9Q1222.9 350.2 1217.8 353.7"/>
<path class="s37" d="M1107.8 451Q1111.7 457.1 1117.7 460.5"/>
<path class="s53" d="M1150.5 582.4Q1149.1 589 1143.9 591.9"/>
<path class="s32" d="M1029.2 339.7Q1030.4 336.2 1035.9 329.7"/>
<path class="s30" d="M1086.6 420.8Q1085.6 422.6 1086.3 429.3"/>
<path class="s48" d="M1306.1 495.9Q1310.6 501.6 1312.8 506.6"/>
<path class="s36" d="M1063.5 485.1Q1065.4 485.7 1069.1 491"/>
<path class="s45" d="M1064.9 425Q1070.2 425.7 1071.1 429.5"/>
<path class="s52" d="M1071.2 423.3Q1077.1 427.2 1083.7 430.5"/>
<path class="s38" d="M958.3 564.5Q958.5 567.7 956.1 574.4"/>
<path class="s40" d="M1168.1 337.6Q1172.7 342.5 1173.9 349.1"/>
<path class="s40" d="M962.7 542.1Q958.4 552.2 954.1 559.6"/>
<path class="s36" d="M1213.2 463.1Q1211.3 467.4 1210 472.9"/>
<path class="s31" d="M1070.9 514.1Q1081.4 517.9 1088.8 521.7"/>
<path class="s42" d="M973 594.8Q975.4 599.5 980.5 601.1"/>
<path class="s35" d="M1169.8 622.1Q1168.7 630 1164.6 639.7"/>
<path class="s39" d="M1094.4 355.4Q1098.1 355.9 1103 358.2"/>
<path class="s45" d="M1173.5 502.8Q1172.2 509.3 1170.9 515"/>
<path class="s36" d="M1235.1 496.6Q1237.5 504.5 1235.3 514.9"/>
<path class="s37" d="M1035 336.8Q1040 334.5 1041.2 328.5"/>
<path class="s41" d="M1310.9 413.8Q1313.4 411.9 1318.4 408.2"/>
<path class="s37" d="M1124.1 427.3Q1124.5 433.1 1128.4 437.1"/>
<path class="s53" d="M988.2 427.8Q988.9 432.2 989.3 433.7"/>
<path class="s52" d="M1121 390.5Q1120.8 398.4 1121.7 408.6"/>
<path class="s46" d="M1070.6 591.1Q1075.9 591.7 1080.7 587.3"/>
<path class="s41" d="M1002.7 421.2Q1004.1 428.9 1008 432.4"/>
<path class="s53" d="M1225.6 496.5Q1231.2 501.7 1233.8 505.4"/>
<path class="s43" d="M1111.5 500.5Q1120.6 501.9 1125.4 502.9"/>
<path class="s38" d="M1213 443.8Q1207.1 446.2 1203.9 452.9"/>
<path class="s53" d="M1174.7 478.9Q1178.5 482.3 1177.5 484.4"/>
<path class="s32" d="M1015.5 334.3Q1018.4 334.6 1021.4 330.8"/>
<path class="s49" d="M951.8 568.6Q955.5 577.3 958 581.6"/>
<path class="s45" d="M1251.6 420Q1253 424.6 1258 427.2"/>
<path class="s49" d="M1024.3 559.5Q1028.1 557.5 1033.1 555.3"/>
<path class="s48" d="M1173 558.8Q1173.6 569 1172.5 577.1"/>
<path class="s35" d="M1051.3 512.9Q1057.1 521.2 1062 528.1"/>
<path class="s56" d="M1320.2 402.9Q1325 402 1326.2 404.7"/>
<path class="s45" d="M1284.9 589.1Q1287.5 592.1 1288.7 599.6"/>
<path class="s45" d="M1308.8 397.7Q1311.2 400 1314.3 400.4"/>
<path class="s53" d="M1026.5 397.6Q1031.2 399.5 1034.7 399.1"/>
<path class="s37" d="M1047.7 548.3Q1053 548.9 1060.9 547.7"/>
<path class="s46" d="M1249.1 512.4Q1251.7 519.8 1249.5 523.5"/>
<path class="s33" d="M947.9 328.4Q943.1 332.9 942.8 336.9"/>
<path class="s51" d="M1317.9 463.4Q1321.6 466 1326.4 465.5"/>
<path class="s31" d="M1040.4 554.5Q1048.4 559.8 1055.7 562.9"/>
<path class="s33" d="M1029.5 539.5Q1036.2 539.2 1039.7 539.1"/>
<path class="s30" d="M1061.4 483.9Q1062.5 489.4 1063 491.7"/>
<path class="s32" d="M1152.1 448.4Q1153.4 455.6 1157.8 458.9"/>
<path class="s51" d="M1146.7 466.6Q1149.3 470.3 1155.5 476"/>
<path class="s50" d="M1219.1 413.5Q1219.8 416.8 1218.5 420.1"/>
<path class="s45" d="M1021.9 504.6Q1027.9 508.7 1029.9 515.6"/>
<path class="s45" d="M991.9 445.5Q991.7 453.3 995.2 458"/>
<path class="s36" d="M1092.8 461.7Q1093.3 469.9 1090.1 475.5"/>
<path class="s49" d="M1005.1 357.1Q1010.1 357.8 1019.7 361.8"/>
<path class="s36" d="M1162.4 439Q1157.8 444.4 1157.6 451.7"/>
<path class="s38" d="M965.5 367Q967.7 369.5 969.7 374.8"/>
<path class="s33" d="M1031.3 562.7Q1038 558.9 1043.9 557.7"/>
<path class="s33" d="M1267.3 427.3Q1272.4 432.9 1274.4 439.3"/>
<path class="s38" d="M1269.6 406.5Q1270.4 412.2 1266.9 414.3"/>
<path class="s32" d="M1200.4 408.7Q1194.8 410.8 1188 409.4"/>
<path class="s46" d="M1117 370.6Q1118.4 374.4 1120.7 381.5"/>
<path class="s31" d="M964.2 472.2Q960 479.4 957.6 489.3"/>
<path class="s44" d="M1201.4 505.1Q1203.7 511.9 1202.4 516.4"/>
<path class="s39" d="M1252.5 564Q1250 572.4 1243.8 578.8"/>
<path class="s37" d="M1207.1 373.2Q1208.5 377.4 1205 379.6"/>
<path class="s48" d="M1298 615.1Q1298.4 622.6 1299.3 626.6"/>
<path class="s48" d="M1007.3 367.3Q1014.7 367.3 1018.6 367.9"/>
<path class="s43" d="M1230.2 331.6Q1226.4 337.7 1227.2 348.6"/>
<path class="s54" d="M1261.5 349.5Q1260.5 357 1263.4 360.2"/>
<path class="s52" d="M1107.6 444.7Q1103.4 449.3 1101.9 455.9"/>
<path class="s56" d="M1045.3 395Q1050 395.5 1052.5 400.3"/>
<path class="s38" d="M1302.3 536.2Q1307.2 535.1 1315.7 537.8"/>
<path class="s43" d="M1101.1 568.6Q1109 572.4 1116.2 578.3"/>
<path class="s38" d="M1110.2 527.6Q1115.1 529 1120.4 534.3"/>
<path class="s32" d="M1092.8 357.2Q1096.4 358.3 1100.1 362.4"/>
<path class="s30" d="M1310.7 417.1Q1315.9 418.6 1320.8 417.6"/>
<path class="s42" d="M1021.1 451.4Q1025.5 456.8 1030.7 460.6"/>
<path class="s42" d="M1145.1 545.2Q1146.4 552 1151.8 556.4"/>
<path class="s49" d="M1151.6 320.9Q1154 331.1 1156.6 340.2"/>
<path class="s46" d="M1176.4 509.4Q1176.7 517.1 1179.5 524.8"/>
<path class="s48" d="M1166.6 389.8Q1159.7 391.8 1151.8 397"/>
<path class="s48" d="M1022.6 496.1Q1026.2 502.9 1033.5 512.1"/>
<path class="s30" d="M1094.2 521.9Q1100.8 525.2 1102.9 527.5"/>
<path class="s50" d="M1226.7 358.7Q1220.4 360.1 1218.1 364.8"/>
<path class="s37" d="M1216.5 507.3Q1219.6 510.3 1221.4 518.2"/>
<path class="s38" d="M1105.7 544.9Q1107 545.5 1110.2 550.5"/>
<path class="s48" d="M1281.3 496.5Q1285.8 503.8 1285.7 507.5"/>
<path class="s43" d="M1009.9 526.7Q1013.1 528.2 1014.1 534.7"/>
<path class="s37" d="M1131.9 434.1Q1133.9 440.7 1132.6 443.6"/>
<path class="s40" d="M1120 545.9Q1123.9 549.8 1130.7 551.1"/>
<path class="s50" d="M1290.9 324.8Q1291.2 331.2 1287.4 333.6"/>
<path class="s37" d="M970.9 373.6Q974.4 375.1 982 372.7"/>
<path class="s32" d="M1123.1 613.9Q1126.3 615.4 1127.1 618.8"/>
<path class="s32" d="M958.2 405Q961.2 410.6 966.6 411.6"/>
<path class="s36" d="M1055.4 584.2Q1056.3 579.8 1060.3 576.8"/>
<path class="s45" d="M1194.2 611Q1187.5 609.9 1184.7 610.1"/>
<path class="s42" d="M1028.7 423.3Q1034.5 422.5 1037.7 422.5"/>
<path class="s38" d="M1095.1 500.8Q1098.3 500.5 1105.1 505.1"/>
<path class="s42" d="M1240.2 609.1Q1240.7 615.9 1243.2 623.3"/>
<path class="s34" d="M1257 326.5Q1257.6 329.3 1259.6 335.1"/>
<path class="s50" d="M1179.7 393.9Q1175.7 399.2 1175.1 404"/>
<path class="s39" d="M1114.3 478.8Q1123.8 484.1 1129.2 490.7"/>
<path class="s40" d="M1262.8 584.5Q1257.5 590.3 1253.8 595"/>
<path class="s51" d="M1183.3 452Q1177.7 456.5 1172.7 463.2"/>
<path class="s50" d="M1151.4 580.3Q1151.3 581.8 1151.2 587.7"/>
<path class="s52" d="M1151.7 603.6Q1146 607.8 1143.7 614.1"/>
<path class="s38" d="M1075.9 486.3Q1078.2 487.7 1084.8 487.3"/>
<path class="s49" d="M1234.4 601.4Q1226.6 602.1 1220.4 607.6"/>
<path class="s40" d="M1211.4 598.5Q1208.1 597.7 1200.4 601.3"/>
<path class="s31" d="M1124.9 452.9Q1127.2 458 1127.4 462.8"/>
<path class="s38" d="M1103.1 463Q1106.7 466.6 1106.9 471.2"/>
<path class="s46" d="M1096 420.5Q1098.1 427.6 1104.8 434.6"/>
<path class="s52" d="M1071.4 503.3Q1078.1 503.4 1086.6 501.7"/>
<path class="s46" d="M1323.9 562.3Q1322 571.7 1323.3 580"/>
<path class="s42" d="M1150.2 553.6Q1158.5 558.7 1164.4 563"/>
<path class="s50" d="M1289.9 507.7Q1294.4 511.5 1296.1 513.7"/>
<path class="s56" d="M1178.8 409.5Q1178.7 410.5 1174.9 416.3"/>
<path class="s44" d="M1060.5 494.5Q1066.3 500.7 1067.4 502.7"/>
<path class="s46" d="M1058.2 391.7Q1064.5 397.3 1066 400.7"/>
<path class="s31" d="M1075.9 442.5Q1077.8 444.5 1080.9 450.5"/>
<path class="s37" d="M1076.5 497.7Q1079.3 494.8 1086.9 495.5"/>
<path class="s42" d="M1058.3 336.9Q1062.1 332.6 1065.1 325.1"/>
<path class="s46" d="M980.8 551.2Q985.8 560.2 987.9 569.6"/>
<path class="s43" d="M1291.8 330Q1295.4 335.1 1303.6 337.9"/>
<path class="s35" d="M951.7 632.1Q952.5 638.6 952.4 641.6"/>
<path class="s36" d="M1185.5 413.1Q1182.9 415.4 1179.5 422.6"/>
<path class="s39" d="M1294.3 365.5Q1294.6 372.9 1295.8 376.1"/>
<path class="s32" d="M1022.7 451.9Q1028.8 453.6 1031.7 457.7"/>
<path class="s37" d="M1188.8 547.4Q1187.3 552 1186.9 560.1"/>
<path class="s31" d="M1042.1 433.1Q1043.8 437.8 1042.7 445.9"/>
<path class="s35" d="M1006.3 330.3Q1009.6 325.2 1017.6 323.8"/>
<path class="s49" d="M1048.8 480.5Q1049.4 486.7 1053.5 491.2"/>
<path class="s40" d="M1171.5 382.3Q1166.6 382.9 1158.7 387.1"/>
<path class="s34" d="M1042.1 395.4Q1047.2 402.3 1050.6 409"/>
<path class="s41" d="M1099.8 347.6Q1101.5 350.3 1103.6 355.3"/>
<path class="s42" d="M943.8 570.6Q948.7 576.5 951.3 586"/>
<path class="s38" d="M1245.2 359.6Q1242.5 362.3 1237.7 364.2"/>
<path class="s38" d="M1095.2 451.1Q1096.9 452.4 1097.9 457.3"/>
<path class="s36" d="M947.1 626Q950.1 633.3 955.5 641.3"/>
<path class="s37" d="M1155.7 563.9Q1160.9 567.5 1163.8 571.5"/>
<path class="s35" d="M951.9 620.7Q955.5 621.3 960.3 625.9"/>
<path class="s38" d="M1065.7 408.3Q1066.4 413 1066.5 415.7"/>
<path class="s31" d="M1005.4 403.2Q1010 407.4 1018.5 411.8"/>
<path class="s32" d="M1149.3 459.4Q1149.8 464.6 1149.7 466"/>
<path class="s40" d="M1318.3 463.7Q1322.1 463.5 1326.2 460.5"/>
<path class="s37" d="M1246.1 390.1Q1246.1 394.8 1243.2 398.3"/>
<path class="s34" d="M1243.8 348.7Q1236.2 351 1229.6 352.2"/>
<path class="s47" d="M1113.2 547.6Q1113.9 553.1 1116.5 555.7"/>
<path class="s34" d="M1039 401.3Q1046.2 407.3 1055.5 410.2"/>
<path class="s45" d="M1135.8 345.6Q1133.7 350.6 1134.4 354.6"/>
<path class="s47" d="M1154.1 339.8Q1155.3 345.7 1153.9 351.5"/>
<path class="s37" d="M1190.9 540.7Q1188.3 547.1 1184.9 553.2"/>
<path class="s38" d="M1251.5 597.4Q1249 603.7 1246.4 610.1"/>
<path class="s56" d="M1010.9 567.8Q1013.5 570.2 1020.9 571.2"/>
<path class="s54" d="M1205.5 330Q1200 333 1197.7 335"/>
<path class="s46" d="M944.3 514Q941.3 522.9 943 527"/>
<path class="s36" d="M1246.7 428.3Q1250.1 434.4 1249.7 436.5"/>
<path class="s45" d="M1318.9 415.9Q1320 415 1325.3 417.3"/>
<path class="s39" d="M1171.9 515.1Q1175.3 520.3 1179 525.3"/>
<path class="s43" d="M1021.5 413.9Q1026.3 416 1030.8 423"/>
<path class="s45" d="M946.4 372.4Q948.3 375.5 946.2 379.1"/>
<path class="s50" d="M977.8 509Q976 515.9 975.1 520"/>
<path class="s50" d="M951.2 631.4Q955.7 636.7 955.5 637.2"/>
<path class="s53" d="M1091.7 624.1Q1093.3 630.3 1094.9 635.6"/>
<path class="s33" d="M1295.8 383.8Q1300.9 386 1307 383.6"/>
<path class="s32" d="M1043 373.3Q1046.4 375.6 1051.5 373.4"/>
<path class="s48" d="M1258.9 471.3Q1261.6 479.4 1262.3 485.5"/>
<path class="s39" d="M1028.4 578.5Q1032.2 581.3 1037.7 579.9"/>
<path class="s50" d="M1250 374.4Q1247.9 379.1 1249.7 383.1"/>
<path class="s42" d="M1238.9 412.3Q1239.8 420.1 1243.5 427.4"/>
<path class="s53" d="M947.2 379.6Q952.9 381 958 381.5"/>
<path class="s36" d="M1135.2 544.6Q1141.2 544 1145.5 547"/>
<path class="s39" d="M1019.4 353.1Q1027.4 349.9 1032 347.3"/>
<path class="s44" d="M1300.4 387.8Q1306.5 393.9 1309.1 397.9"/>
<path class="s33" d="M1253.1 418.6Q1254.9 423.1 1259.7 428"/>
<path class="s38" d="M952 559.5Q954.3 561.3 959.6 564.4"/>
<path class="s31" d="M1057.6 629.6Q1063.8 634.7 1065.1 643.9"/>
<path class="s48" d="M967.3 537.6Q969.9 545.4 973 549.6"/>
<path class="s52" d="M1202 488Q1197 495.9 1195.8 499"/>
<path class="s31" d="M1079 471.7Q1086.4 476.8 1089.7 477"/>
<path class="s46" d="M1019.2 591.9Q1022 584.5 1029.5 580.7"/>
<path class="s45" d="M1156.5 327.9Q1153.5 333 1153.7 341.4"/>
<path class="s36" d="M1320.7 368.7Q1324.9 376.4 1327.2 380.9"/>
<path class="s32" d="M1000.2 567.8Q1005.5 564.7 1007.3 565"/>
<path class="s40" d="M941.3 376.4Q951 377.7 956.5 380.6"/>
<path class="s48" d="M997.5 404.6Q999.6 410.8 1002.7 413.6"/>
<path class="s38" d="M1185.6 518.9Q1187 520.9 1190.6 523.6"/>
<path class="s52" d="M1151.1 391.1Q1143.9 397.7 1134.3 400.5"/>
<path class="s39" d="M966.6 438.7Q969.3 448.9 969.9 456.3"/>
<path class="s49" d="M1116.7 416.2Q1113.9 427.5 1112.2 434.3"/>
<path class="s40" d="M1066.5 387Q1073.5 389.5 1077.6 390.1"/>
<path class="s50" d="M1199.3 468.3Q1200.4 472.2 1205.5 476.8"/>
<path class="s52" d="M954.4 361.4Q957.6 363.3 965.5 362.9"/>
<path class="s39" d="M1179.4 376.8Q1174.6 386.1 1172.3 392.9"/>
<path class="s44" d="M1297.3 609.2Q1301 613 1301.9 617"/>
<path class="s40" d="M1004.3 444.6Q1009.1 448.3 1010.3 453.8"/>
<path class="s45" d="M1176.8 613Q1175.6 619 1171.3 624.9"/>
<path class="s52" d="M1045.5 364.5Q1052.2 363.8 1062.5 365"/>
<path class="s50" d="M1323.2 580.4Q1323.2 584.3 1327.8 584.4"/>
<path class="s56" d="M952.4 324.6Q952.8 328.6 953.7 334.5"/>
<path class="s46" d="M1257.6 346.6Q1258.6 352.5 1262.1 358.7"/>
<path class="s45" d="M960.3 399.5Q961 397.7 966.5 400.6"/>
<path class="s55" d="M1274.7 546Q1277.2 551.2 1278.9 553.1"/>
<path class="s31" d="M1222.3 524.1Q1225.7 526.5 1225.2 533.1"/>
<path class="s37" d="M1112.8 545.8Q1116.1 548.4 1116.1 554.1"/>
<path class="s44" d="M964.1 423.2Q961.1 431 958.1 440.9"/>
<path class="s37" d="M952.4 608.1Q954.6 609.7 958.5 613.3"/>
<path class="s37" d="M1080.1 474.2Q1081.6 482.7 1079.6 486.8"/>
<path class="s53" d="M1280.6 399Q1289.6 401.8 1293.9 399.8"/>
<path class="s32" d="M1041.6 556.8Q1046.3 558.4 1046.7 560.1"/>
<path class="s30" d="M1223.1 424.4Q1223.3 427.6 1226 433.5"/>
<path class="s45" d="M1133.2 600.3Q1132.9 602.5 1134 607.9"/>
<path class="s52" d="M1203.2 416.6Q1198.2 421.7 1195 425"/>
<path class="s45" d="M1057.9 605.8Q1065.1 603.7 1068.2 597.6"/>
<path class="s45" d="M1269.4 438.4Q1275.1 443.3 1276.4 446"/>
<path class="s35" d="M976.5 558.5Q981 565.1 982.8 569.7"/>
<path class="s53" d="M976.5 378.7Q980.8 385.3 981.3 388.3"/>
<path class="s53" d="M1179.4 458.4Q1175.5 461.4 1174.3 465.9"/>
<path class="s48" d="M1212.1 507.6Q1216.7 512.8 1222.6 518.5"/>
<path class="s45" d="M1144.9 328.4Q1143.5 331.2 1146 337.7"/>
<path class="s34" d="M1216.5 432.3Q1215.6 442.5 1211.9 451.1"/>
<path class="s45" d="M1314.2 577.5Q1313.2 581.6 1313.3 589.7"/>
<path class="s38" d="M980.8 322.5Q982.8 329.8 981.9 332.5"/>
<path class="s56" d="M1126.9 453.4Q1127.1 457.1 1123.6 463.9"/>
<path class="s52" d="M1060.1 511.2Q1067.9 515.9 1076.1 516.5"/>
<path class="s38" d="M1305.5 326Q1310 330.8 1311.3 330.9"/>
<path class="s41" d="M1152.3 353.5Q1152.8 360.7 1156.1 363.1"/>
<path class="s34" d="M1208.5 467.8Q1207.1 474.7 1209.3 483.4"/>
<path class="s48" d="M975.5 506.3Q976.3 507.2 981.9 512.6"/>
<path class="s52" d="M1121.3 549.6Q1123.6 559.1 1126.3 565"/>
<path class="s38" d="M1028.1 585Q1033.1 584.1 1035.1 585.1"/>
<path class="s50" d="M1306.2 531.5Q1310.2 535.2 1311.5 539.4"/>
<path class="s50" d="M1271.9 503.5Q1277.5 506.1 1280.8 510.6"/>
<path class="s35" d="M1216.8 563.1Q1212.9 572.1 1212.2 578.6"/>
<path class="s30" d="M1123.8 583.6Q1128.2 583.3 1129.7 584.9"/>
<path class="s37" d="M1205.9 510.2Q1202.6 514.1 1203.9 517.4"/>
<path class="s54" d="M1220.2 381.1Q1215.5 380.6 1211.7 384.6"/>
<path class="s55" d="M1154.1 606.7Q1150.2 610.8 1150.6 617.1"/>
<path class="s51" d="M1237.7 333Q1232.1 341.7 1230.6 345.8"/>
<path class="s34" d="M1250.3 488.5Q1257.6 492.4 1266.8 496.9"/>
<path class="s49" d="M1152 417.1Q1148.7 418.7 1144.5 423.6"/>
<path class="s48" d="M1032.4 436.9Q1034.5 438.7 1041.6 445.5"/>
<path class="s39" d="M1293 424Q1299.7 422.5 1301.5 424.6"/>
<path class="s45" d="M1155.4 481.3Q1155.1 483.5 1151.5 488.4"/>
<path class="s36" d="M1301.2 366.9Q1303 377.3 1304 384.4"/>
<path class="s45" d="M1213.9 401.1Q1210.3 405 1208.4 404"/>
<path class="s50" d="M1246.5 592.2Q1239.9 596.2 1237.1 601.2"/>
<path class="s31" d="M1134 499.8Q1138.6 507.1 1146.5 509.7"/>
<path class="s48" d="M949.1 414.2Q952.6 415.3 957.6 418.8"/>
<path class="s51" d="M1297.8 447.2Q1304.3 451.6 1306 454.1"/>
<path class="s42" d="M1039.8 621.5Q1043.8 627.2 1047.6 629"/>
<path class="s42" d="M1127.9 479.1Q1129.8 481.5 1133.3 487.1"/>
<path class="s32" d="M995 403Q997.8 408.6 1001.3 414.9"/>
<path class="s41" d="M1175.2 424.7Q1172.5 429.7 1172.4 434.8"/>
<path class="s38" d="M1277.4 500.8Q1280.1 507.1 1281.2 510.2"/>
<path class="s32" d="M1225.7 556.8Q1226.1 563.5 1226.5 568.2"/>
<path class="s36" d="M1053.9 447Q1056.1 452.8 1058.5 461.4"/>
<path class="s45" d="M1221.6 526.3Q1224.9 532.5 1224.9 537.9"/>
<path class="s31" d="M1044 413.8Q1051.7 413.1 1058.5 416.4"/>
<path class="s34" d="M947.7 557.2Q950.2 566.4 952.7 576.4"/>
<path class="s56" d="M1038.2 516.9Q1041.4 518.9 1049.2 517.4"/>
<path class="s51" d="M1094.2 341Q1099.1 346.4 1102.2 348.4"/>
<path class="s35" d="M1123.9 463.8Q1126.3 468.6 1131.6 477.1"/>
<path class="s56" d="M1197.7 457.1Q1200.7 460.2 1204.3 465.1"/>
<path class="s39" d="M1081 544.1Q1084.9 540.7 1089.3 540.6"/>
<path class="s50" d="M1300 410.5Q1302.4 409.7 1306.2 411.9"/>
<path class="s41" d="M1083.7 595Q1087.5 594.5 1092.9 596.7"/>
<path class="s56" d="M1041 462Q1042.4 467.4 1048.4 469.1"/>
<path class="s43" d="M953.6 546.6Q958.7 553.1 963.6 559.5"/>
<path class="s31" d="M1308.1 618.1Q1310.5 622.4 1311.7 629.6"/>
<path class="s54" d="M1136.3 536.3Q1141.8 538.8 1144 536.7"/>
<path class="s32" d="M1162.4 468Q1161 471.7 1164.4 475.1"/>
<path class="s45" d="M1058.4 626.8Q1065.5 626.9 1069 630.2"/>
<path class="s33" d="M1132 500.7Q1134.3 508.3 1134.7 517.2"/>
<path class="s50" d="M1301.9 567.2Q1304.4 570.6 1302.6 573.9"/>
<path class="s39" d="M1315.4 324.4Q1315.1 329.7 1314.1 333.1"/>
<path class="s31" d="M1078.1 365.5Q1081.8 364.8 1085.8 362.9"/>
<path class="s31" d="M1210.8 513.3Q1209.3 518.3 1211.3 525.4"/>
<path class="s45" d="M966.7 529.4Q969.9 531 972.4 534.1"/>
<path class="s30" d="M1007.5 543.9Q1010.7 545.6 1016.8 545.2"/>
<path class="s39" d="M1308.6 371.1Q1312.7 376.7 1317.4 380.1"/>
<path class="s48" d="M1234.3 597.6Q1231.7 600 1224.3 601.1"/>
<path class="s46" d="M1082.7 349.2Q1093.7 352.5 1100.2 351.9"/>
<path class="s38" d="M950.6 341.7Q949.3 348.1 949.7 350.6"/>
<path class="s38" d="M1284.7 552.4Q1290.9 558.6 1294.8 561.3"/>
<path class="s40" d="M1064.9 619Q1071.9 619.9 1074.2 623.3"/>
<path class="s42" d="M1087.9 388Q1090.7 394.9 1096 405"/>
<path class="s35" d="M1004.6 630.1Q1012 625.2 1020.6 620.9"/>
<path class="s43" d="M1064.3 384.4Q1074.2 384.4 1080.9 387.3"/>
<path class="s45" d="M1101.5 427.2Q1099.5 433.8 1102.5 436.6"/>
<path class="s41" d="M1047 613.9Q1050.9 618.6 1055.8 621"/>
<path class="s33" d="M1055.4 383.9Q1062.7 381.3 1065.2 383.3"/>
<path class="s35" d="M1105.9 336.5Q1110.7 337.5 1114.4 341.7"/>
<path class="s38" d="M1270.5 534Q1269.8 540.6 1270.9 546.1"/>
<path class="s38" d="M986.7 398.7Q991.3 397.8 996.1 396.5"/>
<path class="s45" d="M1255 585Q1254.7 587.7 1254.9 592.3"/>
<path class="s49" d="M1225.7 497.5Q1228.8 502 1233.4 510.4"/>
<path class="s46" d="M1156.2 520.7Q1158.1 528.7 1163.6 531.8"/>
<path class="s40" d="M1212.4 610.9Q1206.3 617.2 1198.6 622.8"/>
<path class="s43" d="M986.1 365.2Q994.9 367.1 1003.9 372.8"/>
<path class="s52" d="M1097.4 570.8Q1103.7 570.4 1110.8 568.9"/>
<path class="s43" d="M1276.7 509.8Q1276.6 512.9 1280.8 517.6"/>
<path class="s39" d="M1101 431.4Q1102.9 434.6 1104.9 441"/>
<path class="s50" d="M1073.4 396.1Q1076.9 402.5 1078.8 406.9"/>
<path class="s32" d="M1019.9 555Q1022.6 554.5 1028.8 550.8"/>
<path class="s54" d="M1121 550Q1123 553.7 1128.1 560.6"/>
<path class="s31" d="M970.9 392.7Q973.9 396 978.9 397.9"/>
<path class="s44" d="M1013.2 342.9Q1021.4 346.3 1025.2 349.1"/>
<path class="s38" d="M1130.5 354.6Q1132.9 357.5 1136.9 361.1"/>
<path class="s40" d="M1112.8 403.3Q1115.4 413.1 1114.1 418.8"/>
<path class="s48" d="M1015.2 604.9Q1018.3 608.1 1024.6 606.7"/>
<path class="s30" d="M1296.5 380.1Q1297.6 386.9 1298.9 389"/>
<path class="s43" d="M976.1 500.9Q971.6 507.5 971.6 509.3"/>
<path class="s35" d="M1160.6 564.2Q1156.8 568.4 1155.8 577.1"/>
<path class="s52" d="M1008.7 440.5Q1009.8 446.9 1009.1 451.8"/>
<path class="s32" d="M996.4 449.6Q1002.1 451.5 1004.3 454.6"/>
<path class="s33" d="M1001.3 350.2Q1005.3 354 1014.3 357.1"/>
<path class="s43" d="M1259.9 388.2Q1263.8 392.5 1268 396.9"/>
<path class="s52" d="M1189.7 553.8Q1193.1 558.4 1193.5 563"/>
<path class="s38" d="M1084.2 498.1Q1089 498.7 1090.5 498.7"/>
<path class="s32" d="M1319.2 422.4Q1324.8 420.3 1331.8 418.7"/>
<path class="s30" d="M1033.5 546Q1038.2 550.7 1039.2 550.5"/>
<path class="s37" d="M988.2 508.8Q982.4 512.6 980.8 520.3"/>
<path class="s32" d="M985.1 377.5Q988.1 379.6 991.7 380.5"/>
<path class="s48" d="M1306.3 511.9Q1309.2 513.8 1314.1 514.4"/>
<path class="s33" d="M949.9 408.8Q951.9 411.4 957.2 412.1"/>
<path class="s40" d="M1055.5 599Q1063.5 602.1 1070.2 602"/>
<path class="s33" d="M1206.5 422.8Q1206.4 426.9 1208.7 433.4"/>
<path class="s49" d="M1271.8 563.2Q1264.6 569.6 1259.7 578.5"/>
<path class="s31" d="M1253 327.9Q1250.8 332.1 1246.6 339.4"/>
<path class="s46" d="M1094.7 410.6Q1094.3 418.2 1092.1 421.6"/>
<path class="s35" d="M1302.1 567.3Q1307.7 567.3 1309 572"/>
<path class="s35" d="M977 364.3Q979.4 371.2 983.6 379.1"/>
<path class="s48" d="M1243.8 593.9Q1240 599.4 1238.9 609"/>
<path class="s39" d="M1112.2 481.1Q1117.8 484.5 1123 489.2"/>
<path class="s32" d="M985.1 429Q989 431.2 991.6 431.9"/>
<path class="s52" d="M1141.1 455.6Q1145.8 458.9 1146.9 464.4"/>
<path class="s41" d="M1270.3 518Q1272.1 524.9 1274.6 527"/>
<path class="s31" d="M1027.5 396.8Q1035.4 401.4 1040.5 407.7"/>
<path class="s50" d="M1290.8 617.8Q1289.7 621.1 1290.9 625.5"/>
<path class="s42" d="M1195.2 348.4Q1191.6 349.6 1185.4 351"/>
<path class="s31" d="M1250.2 450.5Q1250.6 453.9 1255.8 460.2"/>
<path class="s44" d="M1107.6 325.3Q1115.5 329.4 1124.9 333.6"/>
<path class="s45" d="M1214.3 504.2Q1218.8 508.1 1220 507.4"/>
<path class="s32" d="M1270.3 462.6Q1272 466.8 1276.3 466.4"/>
<path class="s38" d="M942.5 432.5Q946.1 434.3 946.7 439.8"/>
<path class="s52" d="M1021.6 611.2Q1027.2 609 1031.9 611.6"/>
<path class="s30" d="M965 489.6Q959.9 489.7 959.3 493.8"/>
<path class="s53" d="M1010.7 626.7Q1017.5 625.5 1022.1 625.5"/>
<path class="s49" d="M996.2 429Q1001.8 434.5 1004.5 440.8"/>
<path class="s42" d="M978.9 615.4Q988.9 611.5 994.8 606.8"/>
<path class="s52" d="M1124.8 607.3Q1127.3 612.3 1132 616.4"/>
<path class="s43" d="M1066.6 390.1Q1072.5 394 1079.4 397.3"/>
<path class="s39" d="M1062.4 616Q1064.8 618.3 1071.8 621.5"/>
<path class="s51" d="M1173.6 352.2Q1167.1 354.5 1157.2 360.1"/>
<path class="s52" d="M1160.6 379.9Q1158.7 383.3 1152.7 385.8"/>
<path class="s44" d="M1084.4 335.6Q1092.8 332 1102.7 329.9"/>
<path class="s50" d="M989 479Q987.8 485.9 982.8 489.1"/>
<path class="s43" d="M1243.9 422.7Q1240.8 430.2 1240 437.4"/>
<path class="s50" d="M1230 388.3Q1230 394.5 1226.2 401.6"/>
<path class="s46" d="M1082.7 487.3Q1084.4 491.8 1087.7 498"/>
<path class="s50" d="M1216.8 622.4Q1217.2 626.5 1213.9 635.1"/>
<path class="s39" d="M1122.3 616.2Q1120.5 621.8 1116.9 631.1"/>
<path class="s34" d="M961.3 429.1Q964.8 434.1 973.1 439.7"/>
<path class="s44" d="M1053.8 378.3Q1056.2 376.3 1062.4 376.2"/>
<path class="s49" d="M1300.6 620.6Q1300.7 626.4 1303.5 636.5"/>
<path class="s35" d="M1207.1 513.2Q1208.8 519.2 1205.9 525.9"/>
<path class="s45" d="M1077.5 404.2Q1082.4 409.2 1084 412"/>
<path class="s44" d="M954 477.4Q954.8 483.7 951.3 489.7"/>
<path class="s34" d="M1133.8 616.6Q1133.3 627 1135.2 635.4"/>
<path class="s36" d="M1254.7 370.7Q1250.4 374.2 1242.2 375.5"/>
<path class="s31" d="M997.5 381.6Q1006.8 377.4 1015.9 376.4"/>
<path class="s35" d="M1018.8 575.3Q1029 573.9 1036.7 572.8"/>
<path class="s44" d="M1108.4 466Q1112.6 472.2 1118.7 474.6"/>
<path class="s54" d="M1051.4 475.9Q1050.3 477.8 1053.5 483.7"/>
<path class="s39" d="M1250.1 382Q1249.4 386 1252.6 390.1"/>
<path class="s39" d="M1178.7 391.8Q1179.1 398.4 1177 405.2"/>
<path class="s51" d="M958.2 334.6Q962.1 343.6 966.2 349.8"/>
<path class="s32" d="M1226.7 615.2Q1223.5 620.5 1223.5 623.7"/>
<path class="s48" d="M1210.8 560.5Q1210.8 566.2 1210.7 569.6"/>
<path class="s35" d="M1290.4 608.4Q1290.8 616.4 1287.8 627.1"/>
<path class="s33" d="M1321.1 588.9Q1324.5 599.9 1324.6 606.3"/>
<path class="s40" d="M1259.9 393.5Q1251.9 401.8 1246 407.7"/>
<path class="s43" d="M1115.5 564.2Q1118.4 572 1118.7 577.7"/>
<path class="s32" d="M1293.7 608.6Q1291.7 616.1 1293.9 620.3"/>
<path class="s37" d="M1010.8 440.2Q1015.7 445.1 1018.4 446.8"/>
<path class="s46" d="M1318.5 595.5Q1322.5 596.4 1326.3 598.2"/>
<path class="s35" d="M1210.2 538.9Q1212.6 548.4 1210 555.7"/>
<path class="s37" d="M940.9 580.9Q944.4 586.6 949.1 589.2"/>
<path class="s33" d="M1179.6 461.8Q1180 465.2 1179.6 473.2"/>
<path class="s30" d="M1096.7 341.8Q1103.3 343.5 1105.8 348.8"/>
<path class="s53" d="M1204.8 493.3Q1204.9 499.2 1205.5 502.9"/>
<path class="s40" d="M973.7 515.9Q976.1 520.5 981.9 523.9"/>
<path class="s48" d="M1010.9 400.2Q1016.5 406.5 1023.7 411.4"/>
<path class="s32" d="M1216.8 326.2Q1214 331.6 1207.3 332.5"/>
<path class="s45" d="M942.1 440.6Q946.2 444.1 947.3 446.1"/>
<path class="s50" d="M947.7 517.1Q945.1 518 942.2 521.2"/>
<path class="s53" d="M1239.3 602Q1236 605.7 1236 614.2"/>
<path class="s38" d="M1112.4 590.5Q1118.7 591.7 1120 597.2"/>
<path class="s41" d="M1010.1 429.3Q1013.9 432.1 1019.4 433.4"/>
<path class="s50" d="M1308.4 558.4Q1311.4 560.4 1317.8 563.5"/>
<path class="s45" d="M1060.8 346.1Q1067.5 344.9 1069.5 346.6"/>
<path class="s43" d="M1278.7 371.3Q1277.1 375.1 1276.9 382.8"/>
<path class="s35" d="M1130.8 546.4Q1134 554.9 1139.4 564.4"/>
<path class="s46" d="M1293.9 466Q1297.6 462.9 1305.1 463"/>
<path class="s44" d="M1111.1 432.5Q1107.4 438.2 1103 446.4"/>
<path class="s31" d="M1105.3 543.1Q1110.3 544.9 1113.3 551"/>
<path class="s45" d="M1118.8 440.6Q1116.5 448.1 1117.9 452.8"/>
<path class="s45" d="M1265.5 563.1Q1263.5 568 1258.8 572.4"/>
<path class="s39" d="M1074.9 512.8Q1082.6 515.5 1086.3 515.9"/>
<path class="s34" d="M986.9 469.8Q992.6 476.8 997.6 484"/>
<path class="s45" d="M1137.5 403.2Q1135.4 408.9 1131.8 410.9"/>
<path class="s37" d="M1292.6 347.9Q1293.7 352.8 1299.8 353.1"/>
<path class="s35" d="M1087.3 534.9Q1093.8 534.7 1105.2 530.9"/>
<path class="s32" d="M1260.8 578.8Q1261.6 581.5 1266.2 588.6"/>
<path class="s49" d="M989.2 622.6Q991.7 630.9 998.1 637.3"/>
<path class="s34" d="M1236.8 319.9Q1234.3 329.5 1232.8 335.8"/>
<path class="s34" d="M1295.3 388.6Q1299.7 391.9 1307.5 398"/>
<path class="s40" d="M1064.7 584.5Q1071.4 586 1081.5 590.7"/>
<path class="s34" d="M1186.3 368.7Q1181.5 378.3 1177.9 384.7"/>
<path class="s31" d="M1110 541.1Q1113.5 542.2 1119.8 540.7"/>
<path class="s53" d="M1223.8 345.7Q1219.1 344.6 1218.1 347.6"/>
<path class="s36" d="M977 467.5Q984 470.5 987.6 477.1"/>
<path class="s38" d="M1196.7 539.7Q1199.1 545.7 1201.9 548.9"/>
<path class="s46" d="M1211.1 438.2Q1211.4 446.9 1215 450.6"/>
<path class="s30" d="M980.3 519.9Q986.4 523.5 987.9 524"/>
<path class="s49" d="M1231.6 437.7Q1232.7 447.7 1228.9 455.3"/>
<path class="s50" d="M1317.5 617.1Q1321.8 620.9 1323.3 629.5"/>
<path class="s34" d="M1182.7 394.4Q1179.9 398 1173.9 400.6"/>
<path class="s31" d="M1259.8 481.6Q1267.4 478.6 1275.6 478.5"/>
<path class="s45" d="M1074.2 490.7Q1077.7 496.8 1085.1 498.1"/>
<path class="s52" d="M1035.4 363.3Q1042.6 356.5 1049.4 351.4"/>
<path class="s51" d="M960.7 518.6Q961.1 524.3 959.9 532.7"/>
<path class="s31" d="M1039 452.7Q1041.3 462.1 1040.1 468.9"/>
<path class="s43" d="M1230.8 417.5Q1236.4 424.3 1239.5 434.7"/>
<path class="s37" d="M1217.5 468.4Q1215.2 472 1214.9 476.3"/>
<path class="s46" d="M992.9 428.4Q997.2 432.7 1005.7 433.4"/>
<path class="s39" d="M1161.4 413.1Q1158.5 420.7 1154.4 424.7"/>
<path class="s45" d="M986.7 369.1Q992.5 368 998.8 365.8"/>
<path class="s30" d="M1299.6 545.9Q1301.4 550.1 1304 550.7"/>
<path class="s45" d="M974.4 629.2Q979.8 632 980.7 635.7"/>
<path class="s32" d="M1040.7 370.4Q1045.2 372.6 1050.2 371.2"/>
<path class="s54" d="M1007.4 414.7Q1015.3 418.6 1019.1 420"/>
<path class="s33" d="M982.4 528.3Q988.3 532 990.9 531.5"/>
<path class="s45" d="M1148.2 495.5Q1153.5 498.6 1156.4 505.2"/>
<path class="s30" d="M1280.2 545.8Q1283.8 546.5 1285 550.3"/>
<path class="s32" d="M1222.3 534.9Q1225.2 539.7 1228.2 542.1"/>
<path class="s48" d="M1320.1 436.8Q1327.8 433.6 1330.7 431.7"/>
<path class="s35" d="M1083.5 553.5Q1092.3 552.1 1097.9 548.9"/>
<path class="s53" d="M1049.7 618Q1054.5 619.5 1055.3 625.1"/>
<path class="s52" d="M1269.8 321.4Q1271 328.9 1267.7 332.8"/>
<path class="s51" d="M1220.3 574.6Q1221.3 584.2 1221.3 594.2"/>
<path class="s31" d="M1222.1 376Q1219.4 381.2 1213 385.1"/>
<path class="s45" d="M952.1 466.2Q948.4 470.3 945.2 475.3"/>
<path class="s36" d="M1311.1 367.7Q1317.4 371.6 1327.4 373.6"/>
<path class="s42" d="M1085.7 608.8Q1091.3 611.1 1095.2 615.7"/>
<path class="s38" d="M1322.2 622Q1324.2 627.3 1327.9 628.6"/>
<path class="s38" d="M1046.1 391.4Q1051.5 394.6 1057.2 399.2"/>
<path class="s55" d="M959.3 337.6Q956.5 342.3 957.8 350.3"/>
<path class="s50" d="M1165 432.7Q1161.5 437.8 1162.1 441.1"/>
<path class="s56" d="M1116.3 475Q1116 480.5 1114.6 481.7"/>
<path class="s39" d="M1307.7 456.3Q1310.7 448.1 1318.3 442.8"/>
<path class="s45" d="M1294.1 520Q1298.2 517.9 1303.9 520.1"/>
<path class="s33" d="M1076.1 632.6Q1078.1 636.9 1083.7 642.9"/>
<path class="s39" d="M1191.9 482.8Q1194.1 489.3 1193.6 491.3"/>
<path class="s37" d="M1153.1 343.4Q1154.7 346.6 1159.9 353.8"/>
<path class="s43" d="M1105.5 434.3Q1104.4 438.5 1102.5 443.2"/>
<path class="s31" d="M1256.5 384.5Q1251.9 393.1 1248.5 401.8"/>
<path class="s45" d="M1088.8 375Q1090.6 378.5 1090.5 380.8"/>
<path class="s38" d="M1116.5 455.3Q1117.4 457.8 1116.3 462"/>
<path class="s39" d="M1045.4 619.6Q1057 619.5 1064.1 622.7"/>
<path class="s51" d="M1202.6 617.3Q1197.2 616.8 1194.2 617.2"/>
<path class="s30" d="M956.2 572.3Q957.9 577.5 958.2 579.8"/>
<path class="s51" d="M1290.3 546.1Q1291.6 549.9 1296.9 553"/>
<path class="s45" d="M1050.5 521.7Q1051.8 525.1 1057.4 524.6"/>
<path class="s53" d="M1069.9 536.4Q1072.2 531.8 1079.5 531.1"/>
<path class="s50" d="M1254.3 478.7Q1258.6 479.1 1260.4 482"/>
<path class="s38" d="M1270.5 572.4Q1270.2 578.6 1272.5 581.5"/>
<path class="s31" d="M984.2 338.3Q987.6 337.9 992.3 342.2"/>
<path class="s42" d="M1261.1 405.9Q1257 411.7 1257.7 416"/>
<path class="s52" d="M1031.2 493.2Q1039.2 498.2 1042.2 501.4"/>
<path class="s38" d="M969.5 541.1Q971.6 548.5 970.5 553.1"/>
<path class="s34" d="M1224.6 364.7Q1223 372.1 1219.4 378"/>
<path class="s31" d="M1311.2 473.2Q1319.3 468.5 1323.1 464.6"/>
<path class="s48" d="M975.3 364.7Q977.8 367.2 983.6 372.6"/>
<path class="s53" d="M985.1 479.6Q982.2 485.2 983.5 487"/>
<path class="s38" d="M1216 616.2Q1216.1 623.7 1212.7 627.2"/>
<path class="s39" d="M1075.1 480.2Q1080 486.2 1081 490.2"/>
<path class="s52" d="M979.2 498.7Q982.5 506.9 989.2 515.3"/>
<path class="s34" d="M1076.9 454Q1073.4 463.4 1073.1 472.4"/>
<path class="s35" d="M1314.2 601.9Q1319 607.7 1324.3 608.8"/>
<path class="s45" d="M1192.6 601.6Q1188.5 608.9 1186.2 613.5"/>
<path class="s42" d="M1115.7 442.4Q1109 448.5 1106.2 455"/>
<path class="s37" d="M966.2 563.8Q964.7 567.3 964.9 570.3"/>
<path class="s37" d="M1206.3 617.2Q1203 616.5 1199.1 619.8"/>
<path class="s50" d="M1141.1 333Q1144.6 337 1145.9 343.3"/>
<path class="s44" d="M1136.2 526.6Q1137.6 533.8 1137.3 539.3"/>
<path class="s39" d="M1171.7 401.9Q1165.9 410.8 1163.4 418.9"/>
<path class="s42" d="M982.8 373.6Q985.3 372 992.1 370.3"/>
<path class="s49" d="M1014.4 550.8Q1018.7 553.2 1023.5 557.4"/>
<path class="s31" d="M1071.3 348.2Q1074.9 353.4 1082.7 359.7"/>
<path class="s38" d="M949 399.9Q950.8 401 953.6 404.6"/>
<path class="s45" d="M1214.5 385.3Q1211.6 387.3 1209.2 388.9"/>
<path class="s44" d="M956.9 376.7Q959.8 380 962.7 384.5"/>
<path class="s41" d="M1099 416.3Q1101.2 417.8 1106.7 424.1"/>
<path class="s45" d="M1026 369Q1030.6 365.3 1037.3 363.3"/>
<path class="s37" d="M1084.3 474.3Q1090.3 475.1 1092.2 476.7"/>
<path class="s47" d="M1198.6 456Q1199.4 460.5 1197.7 466.3"/>
<path class="s39" d="M1059 397.7Q1065.6 402.1 1069.2 409"/>
<path class="s38" d="M1239.4 571.7Q1241.2 576.9 1240.4 579.6"/>
<path class="s52" d="M1254.4 477.1Q1261.6 481.1 1268.2 484.1"/>
<path class="s53" d="M1116.3 538.7Q1119.3 542.2 1123.6 541.5"/>
<path class="s45" d="M1006.4 430.4Q1008.5 436 1012.8 437.9"/>
<path class="s45" d="M1271.1 555Q1275.5 560.9 1275.9 563"/>
<path class="s35" d="M1318.7 548.5Q1319 557.6 1318.2 564.7"/>
<path class="s48" d="M1071.6 452.1Q1074.6 454.5 1075.1 460.9"/>
<path class="s39" d="M1258.7 501.2Q1259.4 510.2 1264.5 514.1"/>
<path class="s40" d="M1006.4 515.5Q1013.6 517.2 1017.7 520.9"/>
<path class="s30" d="M1202.2 343.7Q1198.7 345.1 1193.9 350.9"/>
<path class="s48" d="M1174.9 348.2Q1173.9 351.5 1168.5 355.9"/>
<path class="s49" d="M942.7 342.7Q946.6 347.8 949.9 348.2"/>
<path class="s51" d="M1200.5 570.4Q1197.4 574.8 1193.2 578.1"/>
<path class="s32" d="M1151.3 354.5Q1149.7 356.5 1147.9 359.9"/>
<path class="s55" d="M1047.2 345.3Q1052.8 345.4 1060.8 343.4"/>
<path class="s32" d="M1130.6 332.8Q1135 332.4 1139.5 336.2"/>
<path class="s51" d="M1310.3 566.2Q1307.3 573.2 1306.3 579.6"/>
<path class="s38" d="M1210 527Q1212.2 531.6 1217 536.3"/>
<path class="s32" d="M1020.1 562Q1027.2 565.9 1031.5 567.9"/>
<path class="s31" d="M1243.8 606.2Q1242.2 615.4 1238.3 620.1"/>
<path class="s39" d="M1276.4 604Q1270.9 611.3 1268 619"/>
<path class="s53" d="M1085.7 546.9Q1093.6 545.1 1098.3 545.3"/>
<path class="s31" d="M1261.7 346.2Q1264.8 354.8 1263.3 365.8"/>
<path class="s40" d="M1080.3 402.4Q1077.6 411.2 1078.7 419.9"/>
<path class="s35" d="M1230.4 547.6Q1221.7 553.2 1215.2 559.6"/>
<path class="s39" d="M943 358.6Q951.2 363.1 955 367.8"/>
<path class="s46" d="M1242.4 331.4Q1241.5 337.3 1236.6 342.9"/>
<path class="s35" d="M1074.9 420.7Q1076.3 422.9 1074.2 428.7"/>
<path class="s36" d="M1002.1 514.4Q1004.3 521.5 1003.9 525.9"/>
<path class="s33" d="M1141.5 523.7Q1142.3 524.8 1146 530.6"/>
<path class="s45" d="M1017.6 437.8Q1017.4 444.7 1021.3 448.9"/>
<path class="s38" d="M950.2 356.5Q953.2 360.7 955.7 365.1"/>
<path class="s30" d="M1259.2 395.8Q1253.7 398.4 1251.5 406"/>
<path class="s36" d="M1157.2 555.2Q1164.9 559.5 1168.4 566"/>
<path class="s38" d="M1106.2 359.6Q1106.7 363.8 1107.1 368"/>
<path class="s43" d="M1286.8 616.3Q1289.5 622.1 1297.1 627"/>
<path class="s31" d="M1199 628Q1196.5 635.9 1190.2 645.7"/>
<path class="s32" d="M1265.2 572.5Q1269.6 575.5 1270.2 579.6"/>
<path class="s40" d="M1277.6 395.7Q1277.3 406.4 1273 414.4"/>
<path class="s31" d="M1231.7 600.7Q1230.4 605.6 1229.3 609.3"/>
<path class="s51" d="M1216.3 534.4Q1217.6 541.1 1214.1 544.8"/>
<path class="s31" d="M1286.8 477.4Q1294 473 1299.1 468.2"/>
<path class="s31" d="M1072 416.9Q1078.4 422.6 1082 432.6"/>
<path class="s48" d="M1092 533.7Q1100 535.6 1107.3 539.6"/>
<path class="s47" d="M946.1 332.5Q945.7 335.2 946.1 339.3"/>
<path class="s56" d="M1054.3 544.3Q1060.5 544 1065.3 547.9"/>
<path class="s35" d="M1039.4 567.8Q1045.9 571.4 1049.2 573"/>
<path class="s39" d="M982.3 585.8Q990.5 594.7 994.4 600.5"/>
<path class="s47" d="M1207.8 395.1Q1203.8 396.4 1202.9 400.9"/>
<path class="s45" d="M1271 532.5Q1271 536.2 1267.6 544.5"/>
<path class="s40" d="M1161.9 417.2Q1161.7 423.2 1156.5 431.2"/>
<path class="s40" d="M980.3 595.1Q985.2 596.3 986.3 602.2"/>
<path class="s51" d="M957.1 489.6Q952.9 494.9 950.8 499.1"/>
<path class="s43" d="M1252.7 559.6Q1250.6 565.1 1244.6 572.2"/>
<path class="s48" d="M1059.2 615.9Q1066.2 622.6 1068.4 625.8"/>
<path class="s40" d="M1080.4 341.9Q1087.1 346.7 1096.4 353.6"/>
<path class="s47" d="M1187.6 386.5Q1183.5 388.8 1181.8 390.2"/>
<path class="s45" d="M1083.4 555.1Q1088.1 558.1 1095.6 556.7"/>
<path class="s38" d="M1234.8 596.7Q1233 603.8 1233.5 610.2"/>
<path class="s34" d="M1061.3 571.2Q1066.4 571.5 1073.5 568.3"/>
<path class="s45" d="M1187.3 611.9Q1181.6 614.5 1179 614.8"/>
<path class="s45" d="M1194.5 588.5Q1189.7 588.7 1185.3 592.6"/>
<path class="s53" d="M1036.8 572.5Q1041.8 577.3 1047.2 577.8"/>
<path class="s34" d="M1144.8 491.7Q1148.2 496.2 1149.9 503.4"/>
<path class="s51" d="M999.2 521.3Q1006.1 527.5 1009.8 531.1"/>
<path class="s50" d="M1275.9 344.4Q1276.2 348.5 1278.1 356.4"/>
<path class="s52" d="M1262.6 383.4Q1267.8 394.2 1269.8 401.1"/>
<path class="s35" d="M1249 518.1Q1253.8 522.9 1258.6 525.5"/>
<path class="s52" d="M1187.1 616.4Q1185.9 617.9 1180.5 623.6"/>
<path class="s43" d="M1188.4 337.4Q1183 343.3 1180.6 345.2"/>
<path class="s43" d="M1218.2 541.5Q1211.6 550.4 1207.9 557.8"/>
<path class="s45" d="M1069.8 394.6Q1075.3 398.6 1079.3 398.2"/>
<path class="s51" d="M1299.3 550.6Q1301.7 560.9 1301 570.1"/>
<path class="s53" d="M1302 455.7Q1305.4 455.9 1309.2 456.5"/>
<path class="s31" d="M954 611.1Q959.8 610.6 962.8 612.8"/>
<path class="s40" d="M1002.8 335.4Q1009.2 331.8 1015.5 327.4"/>
<path class="s52" d="M1294.4 497.4Q1302.3 499.2 1308.3 505"/>
<path class="s48" d="M1052.1 540.7Q1058.2 544.3 1061 543.6"/>
<path class="s42" d="M1318.4 387.2Q1325.7 384.5 1333 383.5"/>
<path class="s48" d="M1204.6 409.4Q1195.4 413.4 1189.3 419.6"/>
<path class="s48" d="M1240.6 443Q1243.1 449.3 1243.3 454.2"/>
<path class="s36" d="M954.1 532.3Q944.7 535.3 939.1 542.5"/>
<path class="s38" d="M1185.4 368.2Q1182.2 373.8 1180.8 380.8"/>
<path class="s49" d="M1102.3 346.3Q1104.9 349.7 1111.6 350"/>
<path class="s45" d="M1185.2 536.3Q1183.3 542 1182.3 546.5"/>
<path class="s47" d="M1189.2 448.7Q1185.3 448.1 1183.4 451.5"/>
<path class="s36" d="M972.5 469.9Q974.3 477.8 975 483.7"/>
<path class="s43" d="M1093.7 434.1Q1099.6 441.9 1101.9 447.5"/>
<path class="s46" d="M1209.1 577.1Q1200.5 578.6 1192.8 582.6"/>
<path class="s30" d="M1158.7 560.8Q1159.9 561.3 1156.5 566.5"/>
<path class="s45" d="M1122.7 492Q1127 492.9 1134.1 496.4"/>
<path class="s37" d="M1005.8 577.4Q1013.8 577.3 1016.9 580.9"/>
<path class="s36" d="M1240.7 406.4Q1235.2 414.9 1234.7 422"/>
<path class="s37" d="M1244 548.6Q1243.1 549.8 1240.4 553.6"/>
<path class="s38" d="M1019.6 371.9Q1022.8 370.9 1026.8 367"/>
<path class="s53" d="M1008.8 335.3Q1013.9 332.6 1016.9 327.9"/>
<path class="s43" d="M1220.8 563.8Q1215.3 567.7 1211.5 570"/>
<path class="s53" d="M1087.9 489.9Q1088.1 492.3 1092.8 495.8"/>
<path class="s45" d="M1139.3 582.3Q1140.9 585 1146.2 590.3"/>
<path class="s43" d="M1292.9 539.4Q1294.6 543.2 1294.3 548.4"/>
<path class="s32" d="M1281.2 554.7Q1282.7 561 1279.6 564.3"/>
<path class="s33" d="M1228.6 497.5Q1229.3 507 1229.5 512.9"/>
<path class="s40" d="M978.6 579.2Q984.9 581.2 995.7 585.6"/>
<path class="s51" d="M1036.6 556.5Q1043.5 560.7 1046.7 560.1"/>
<path class="s47" d="M1322.1 605.3Q1326.9 611.4 1327.7 618"/>
<path class="s50" d="M1058.2 597.4Q1063.4 599.5 1066.9 603.5"/>
<path class="s48" d="M1283 357.6Q1286.1 362 1286 370.9"/>
<path class="s42" d="M1205.5 613.2Q1198 612.3 1188.8 611.8"/>
<path class="s53" d="M1121 588.5Q1128 589.7 1132.6 595.4"/>
<path class="s44" d="M1268.6 392.6Q1264.5 398.8 1264.3 401.5"/>
<path class="s32" d="M1050.4 471.5Q1055.9 470.5 1059.8 472.6"/>
<path class="s53" d="M1244.9 567.7Q1241.6 573.2 1242.1 578.1"/>
<path class="s50" d="M1173.9 409.5Q1166.3 409.5 1161.7 411.2"/>
<path class="s46" d="M1295.9 323.3Q1295.1 326.9 1297.8 335.2"/>
<path class="s38" d="M1037.4 549.6Q1042.9 547.6 1043.7 546.5"/>
<path class="s53" d="M1168.6 577.6Q1169.4 583.2 1167.4 583.9"/>
<path class="s37" d="M1194.8 434Q1193.5 437.4 1195 440.6"/>
<path class="s45" d="M999.8 580.9Q1008.2 581.7 1013 584.4"/>
<path class="s38" d="M1102.4 491.9Q1105.9 490.3 1112.4 493.6"/>
<path class="s49" d="M1174.3 594.6Q1173.3 602.7 1170.1 611.4"/>
<path class="s33" d="M1270 382.7Q1270.3 385.8 1271.8 392.1"/>
<path class="s42" d="M1121.4 417.8Q1118.1 425.8 1114.8 433.7"/>
<circle class="lr" cx="1199.9" cy="390" r="1.9"/>
<circle class="lr" cx="992.3" cy="501.5" r="2.3"/>
<circle class="lr" cx="1077.1" cy="478.6" r="1.7"/>
<circle class="dd" cx="1222" cy="582.3" r="1.7"/>
<circle class="lr" cx="1292.9" cy="355.5" r="1.8"/>
<circle class="dd" cx="1266.3" cy="467" r="1"/>
<circle class="dd" cx="1218.7" cy="549.7" r="1.3"/>
<circle class="lr" cx="1267.7" cy="359.4" r="2.1"/>
<circle class="dd" cx="1315.4" cy="345.9" r="1.6"/>
<circle class="dd" cx="979.7" cy="438.2" r="1.2"/>
<circle class="dd" cx="1160.3" cy="352.8" r="1.4"/>
<circle class="lr" cx="1136.6" cy="425.1" r="2.1"/>
<circle class="dd" cx="1175" cy="575.8" r="1.5"/>
<circle class="dd" cx="1268" cy="550.3" r="1.3"/>
<circle class="dd" cx="988" cy="384.8" r="1.7"/>
<circle class="dd" cx="1051.4" cy="468.7" r="1.2"/>
<circle class="dd" cx="1315.9" cy="469.5" r="1.3"/>
<circle class="lr" cx="1071.3" cy="622.4" r="1.7"/>
<circle class="dd" cx="1084.9" cy="379.5" r="1.3"/>
<circle class="dd" cx="1239.6" cy="466" r="1.3"/>
<circle class="dd" cx="1246.3" cy="533.2" r="1.4"/>
<circle class="lr" cx="1120.7" cy="502.4" r="2.4"/>
<circle class="dd" cx="1156.2" cy="413" r="1"/>
<circle class="dd" cx="1050.3" cy="407.3" r="1"/>
<circle class="dd" cx="1009.2" cy="400" r="1.7"/>
<circle class="dd" cx="1302.5" cy="368" r="1.4"/>
<circle class="dd" cx="1231.8" cy="453.6" r="1.7"/>
<circle class="lr" cx="1252.2" cy="344.5" r="1.6"/>
<circle class="dd" cx="1177.4" cy="494.3" r="1.4"/>
<circle class="dd" cx="1290.4" cy="532.4" r="1.5"/>
<circle class="lr" cx="954.8" cy="503.8" r="1.7"/>
<circle class="dd" cx="1226" cy="472.5" r="1.1"/>
<circle class="dd" cx="1157.6" cy="404.4" r="1.6"/>
<circle class="dd" cx="1187" cy="590.1" r="1.3"/>
<circle class="dd" cx="951.9" cy="421.1" r="1.3"/>
<circle class="dd" cx="1016.7" cy="513.7" r="1.7"/>
<circle class="dd" cx="1263.4" cy="398.1" r="1.6"/>
<circle class="dd" cx="1065" cy="355.4" r="1.3"/>
<circle class="lr" cx="1298.1" cy="447.9" r="1.8"/>
<circle class="lr" cx="996.6" cy="403.1" r="2.3"/>
<circle class="lr" cx="1286.1" cy="605.3" r="1.8"/>
<circle class="lr" cx="1023.3" cy="496.2" r="2.1"/>
<circle class="dd" cx="1037.5" cy="432.7" r="1.2"/>
<circle class="lr" cx="1306.4" cy="461.8" r="2.1"/>
<circle class="lr" cx="1310.2" cy="480.8" r="2"/>
<circle class="dd" cx="1005.3" cy="498.2" r="1.5"/>
<circle class="dd" cx="1161" cy="352.4" r="1.2"/>
<circle class="dd" cx="1090.8" cy="543.9" r="1.1"/>
<circle class="dd" cx="1302.1" cy="534.1" r="1.5"/>
<circle class="dd" cx="1048.1" cy="423.3" r="1.2"/>
<circle class="dd" cx="989.3" cy="601" r="1.3"/>
<circle class="dd" cx="1308.5" cy="476.8" r="1.5"/>
<circle class="lr" cx="1115.6" cy="455.1" r="2.4"/>
<circle class="dd" cx="1076.4" cy="529.1" r="1.4"/>
<circle class="lr" cx="1291.4" cy="361.7" r="1.9"/>
<circle class="lr" cx="1019.8" cy="340" r="2.1"/>
<circle class="dd" cx="1034.9" cy="456.2" r="1.7"/>
<circle class="lr" cx="1216.4" cy="551" r="2.3"/>
<circle class="lr" cx="965.6" cy="587.6" r="1.9"/>
<circle class="lr" cx="1315.5" cy="395" r="1.9"/>
<circle class="lr" cx="1214.2" cy="378.4" r="2.2"/>
<circle class="lr" cx="1063.3" cy="429.4" r="1.7"/>
<circle class="lr" cx="972.1" cy="571.3" r="2.3"/>
<circle class="lr" cx="1130.1" cy="467.1" r="2.1"/>
<circle class="lr" cx="1312.6" cy="376.5" r="2"/>
<circle class="lr" cx="1028.5" cy="456.5" r="2.3"/>
<circle class="lr" cx="1184.2" cy="400" r="2.1"/>
<circle class="lr" cx="1097.6" cy="372.9" r="1.7"/>
<circle class="lr" cx="992" cy="484.2" r="1.9"/>
<circle class="lr" cx="1068.2" cy="486" r="2.2"/>
<circle class="lr" cx="1163.6" cy="579.6" r="2"/>
<circle class="dd" cx="1210.9" cy="464.7" r="1"/>
<circle class="lr" cx="1187.9" cy="616.3" r="1.8"/>
<circle class="dd" cx="1210.5" cy="607.8" r="1.7"/>
<circle class="dd" cx="1048.2" cy="451.2" r="1.3"/>
<circle class="lr" cx="1204.7" cy="368.7" r="1.7"/>
<circle class="dd" cx="1284.1" cy="602" r="1.7"/>
<circle class="lr" cx="1047.3" cy="369.2" r="1.7"/>
<circle class="dd" cx="1199.5" cy="352.2" r="1.8"/>
<circle class="dd" cx="1059.1" cy="502.4" r="1.4"/>
<circle class="lr" cx="1101.1" cy="620.2" r="1.9"/>
<circle class="dd" cx="1040.5" cy="359.6" r="1.5"/>
<circle class="lr" cx="1003.7" cy="455.3" r="1.6"/>
<circle class="lr" cx="1087" cy="518.9" r="1.6"/>
<circle class="dd" cx="1015.8" cy="605.1" r="1.1"/>
<circle class="lr" cx="1034.2" cy="404.2" r="1.6"/>
<circle class="lr" cx="1083.7" cy="574.9" r="2.2"/>
<circle class="lr" cx="1133.5" cy="498.7" r="1.6"/>
<circle class="lr" cx="1203.5" cy="483.8" r="2.1"/>
<circle class="dd" cx="1211.3" cy="419.3" r="1.4"/>
<circle class="lr" cx="968.5" cy="400.2" r="1.9"/>
<circle class="lr" cx="1077.8" cy="363.8" r="2"/>
<circle class="dd" cx="1066.1" cy="349.4" r="1.4"/>
<circle class="lr" cx="1197.3" cy="594.5" r="2"/>
<circle class="dd" cx="1196.8" cy="482.1" r="1.2"/>
<circle class="lr" cx="1243" cy="503.7" r="2.1"/>
<circle class="dd" cx="1283.5" cy="455.9" r="1.8"/>
<circle class="lr" cx="1032.8" cy="526.7" r="2"/>
<circle class="dd" cx="1165.2" cy="611" r="1.5"/>
<circle class="lr" cx="1285.5" cy="523.5" r="1.7"/>
<circle class="lr" cx="1087.7" cy="378.7" r="1.6"/>
<circle class="dd" cx="1036.5" cy="407.7" r="1.1"/>
<circle class="dd" cx="1287.6" cy="529.9" r="1.2"/>
<circle class="dd" cx="950.8" cy="617.4" r="1.7"/>
<circle class="lr" cx="969.6" cy="535.7" r="2.2"/>
<circle class="lr" cx="1008.8" cy="488.3" r="2.2"/>
<circle class="lr" cx="1008.8" cy="434.2" r="1.8"/>
<circle class="dd" cx="1305.1" cy="375.5" r="1.4"/>
<circle class="dd" cx="1131.5" cy="575.6" r="1.1"/>
<circle class="lr" cx="1082.6" cy="499.7" r="1.9"/>
<circle class="dd" cx="1255.8" cy="442.4" r="1.7"/>
<circle class="dd" cx="1145.4" cy="549.2" r="1.8"/>
<circle class="dd" cx="983" cy="423.2" r="1.7"/>
<circle class="lr" cx="1067.7" cy="506" r="2.4"/>
<circle class="dd" cx="1131.4" cy="475" r="1.4"/>
<circle class="dd" cx="1142.9" cy="507.7" r="1.3"/>
<circle class="dd" cx="1018.9" cy="371" r="1.7"/>
<circle class="lr" cx="1092" cy="598.4" r="1.6"/>
<circle class="lr" cx="1288.6" cy="464.9" r="1.7"/>
<circle class="dd" cx="1021.9" cy="504.8" r="1"/>
<circle class="lr" cx="1040.3" cy="383.6" r="1.6"/>
<circle class="dd" cx="971" cy="426.9" r="1.6"/>
<circle class="dd" cx="1117.3" cy="626.2" r="1.3"/>
<circle class="dd" cx="1126.7" cy="342.6" r="1.2"/>
<circle class="dd" cx="1049.7" cy="419.2" r="1.3"/>
<circle class="lr" cx="1024.7" cy="357.8" r="2"/>
<circle class="dd" cx="1115.7" cy="442.9" r="1.7"/>
<circle class="lr" cx="1070.9" cy="625.6" r="2.1"/>
<circle class="dd" cx="1115" cy="362.9" r="1.5"/>
<circle class="lr" cx="1205.4" cy="354.7" r="2.2"/>
<circle class="dd" cx="1271.7" cy="497.6" r="1.8"/>
<circle class="dd" cx="1124.8" cy="416.4" r="1.7"/>
<circle class="dd" cx="1234.4" cy="572.3" r="1.1"/>
<circle class="dd" cx="1227.4" cy="516" r="1.7"/>
<circle class="dd" cx="980.3" cy="580.3" r="1.3"/>
<circle class="dd" cx="1191.2" cy="565.1" r="1.1"/>
<circle class="dd" cx="1178.5" cy="422.2" r="1.3"/>
<circle class="lr" cx="1025.1" cy="376.6" r="2.2"/>
<circle class="dd" cx="1299.2" cy="487.4" r="1.2"/>
<circle class="lr" cx="1040.5" cy="554.2" r="1.7"/>
<circle class="lr" cx="1032.4" cy="477.5" r="1.9"/>
<circle class="dd" cx="1088.4" cy="370.6" r="1.6"/>
<circle class="lr" cx="1240.7" cy="597.7" r="1.6"/>
<circle class="dd" cx="1031.9" cy="473.2" r="1.1"/>
<circle class="lr" cx="1024.9" cy="353.6" r="1.9"/>
<circle class="lr" cx="1036.6" cy="497.7" r="2.4"/>
<circle class="dd" cx="1261.5" cy="572.3" r="1.3"/>
<circle class="dd" cx="1050" cy="393.5" r="1.5"/>
<circle class="dd" cx="1021.8" cy="485.5" r="1.5"/>
<circle class="dd" cx="958.9" cy="475.9" r="1.1"/>
<circle class="lr" cx="1172.8" cy="570.9" r="2"/>
<circle class="dd" cx="1236.4" cy="611.6" r="1.4"/>
<circle class="dd" cx="1093.7" cy="559.3" r="1.7"/>
<circle class="dd" cx="1110.5" cy="452.7" r="1.7"/>
<circle class="lr" cx="1109.2" cy="572" r="2.1"/>
<circle class="lr" cx="1135.5" cy="413.4" r="2.2"/>
<circle class="lr" cx="976.8" cy="552.3" r="1.9"/>
<circle class="lr" cx="1275.1" cy="386.1" r="2.3"/>
<circle class="dd" cx="1294" cy="407.3" r="1"/>
<circle class="lr" cx="1170.9" cy="444.7" r="1.9"/>
</g>
<rect x="1237.1" y="610.9" width="54.6" height="3.6" fill="#fff"/>
</g>
<path d="M1021.6 51.1 H1025.4 V61.1 H1031.7 L1023.5 77.6 L1015.3 61.1 H1021.6 Z" fill="#000"/>
<path d="M1090.3 103.4 H1094.1 V92.9 H1100.2 L1092.2 77 L1084.2 92.9 H1090.3 Z" fill="#000"/>
<path d="M1263.1 50.2 H1266.9 V60.4 H1272.8 L1265 76.5 L1257.2 60.4 H1263.1 Z" fill="#000"/>
<path d="M1159.9 184.8 H1163.7 V194.9 H1169.75 L1161.8 211.2 L1153.85 194.9 H1159.9 Z" fill="#e00000"/>
<g font-family='"Liberation Sans", sans-serif'>
<text x="920.6" y="23.2" font-size="25.4" font-weight="bold" textLength="19.2" lengthAdjust="spacingAndGlyphs">B</text>
</g>
<g font-family='"Liberation Sans", sans-serif' fill="#000">
<path d="M167 72 H857 V452.5" fill="none" stroke="#000" stroke-width="3"/>
<path d="M177 72 V441.3 H857" fill="none" stroke="#000" stroke-width="3"/>
<line x1="167" y1="441.3" x2="177" y2="441.3" stroke="#000" stroke-width="3"/>
<line x1="167" y1="379.75" x2="177" y2="379.75" stroke="#000" stroke-width="3"/>
<line x1="167" y1="318.2" x2="177" y2="318.2" stroke="#000" stroke-width="3"/>
<line x1="167" y1="256.65" x2="177" y2="256.65" stroke="#000" stroke-width="3"/>
<line x1="167" y1="195.1" x2="177" y2="195.1" stroke="#000" stroke-width="3"/>
<line x1="167" y1="133.55" x2="177" y2="133.55" stroke="#000" stroke-width="3"/>
<line x1="167" y1="72" x2="177" y2="72" stroke="#000" stroke-width="3"/>
<line x1="177" y1="441.3" x2="177" y2="452.5" stroke="#000" stroke-width="3"/>
<line x1="274.14" y1="441.3" x2="274.14" y2="452.5" stroke="#000" stroke-width="3"/>
<line x1="371.29" y1="441.3" x2="371.29" y2="452.5" stroke="#000" stroke-width="3"/>
<line x1="468.43" y1="441.3" x2="468.43" y2="452.5" stroke="#000" stroke-width="3"/>
<line x1="565.57" y1="441.3" x2="565.57" y2="452.5" stroke="#000" stroke-width="3"/>
<line x1="662.71" y1="441.3" x2="662.71" y2="452.5" stroke="#000" stroke-width="3"/>
<line x1="759.86" y1="441.3" x2="759.86" y2="452.5" stroke="#000" stroke-width="3"/>
<line x1="857" y1="441.3" x2="857" y2="452.5" stroke="#000" stroke-width="3"/>
<path d="M177 437.61 L179.91 435.76 L182.83 438.84 L185.74 436.99 L188.66 438.22 L191.57 379.75 L193.03 440.07 L196.43 437.61 L200.31 439.45 L204.2 436.38 L208.09 438.84 L211.97 437.61 L215.86 440.07 L219.74 436.99 L223.63 438.84 L227.51 439.45 L231.4 438.22 L235.29 440.07 L236.74 440.68 L241.11 379.75 L246.46 439.45 L249.86 438.84 L251.8 440.68 L255.69 439.45 L259.57 437.61 L263.46 440.07 L267.34 419.76 L271.23 436.38 L275.11 438.84 L278.03 440.07 L281.53 440.68 L284.44 117.55 L287.55 439.45 L289.69 435.15 L294.54 419.76 L297.46 437.61 L301.34 388.98 L304.26 435.15 L307.17 437.61 L311.06 432.68 L314.94 437.61 L319.8 295.43 L324.66 414.22 L328.54 436.38 L332.43 437.61 L338.94 419.76 L344.09 433.91 L350.89 426.53 L367.4 379.13 L392.66 380.67 L412.57 419.76 L427.63 419.76 L448.03 424.99 L467.46 429.61 L478.73 427.14 L485.91 436.99 L490.77 438.84 L495.63 437.61 L500.49 439.45 L505.34 438.84 L510.2 438.22 L515.06 439.45 L519.91 437.61 L524.77 438.84 L529.63 435.15 L533.51 438.22 L537.4 439.45 L542.26 438.84 L547.11 440.07 L551.97 439.45 L556.83 438.84 L561.69 440.07 L566.54 439.45 L571.4 438.84 L576.26 440.07 L581.11 439.45 L585.97 438.84 L590.83 440.07 L595.69 439.45 L600.54 438.84 L605.4 440.07 L610.26 439.45 L615.11 440.07 L619.97 439.45 L624.83 440.07 L629.69 439.45 L634.54 440.07 L639.4 439.45 L644.26 440.07 L649.11 439.45 L653.97 440.07 L658.83 439.45 L663.69 440.07 L668.54 439.45 L673.4 440.07 L678.26 439.45 L683.11 440.07 L687.97 439.45 L692.83 440.07 L697.69 439.45 L702.54 440.07 L706.43 439.45 L710.31 440.07 L714.2 439.45 L718.09 440.07 L721.97 438.84 L725.86 440.07 L729.74 439.45 L733.63 440.07 L737.51 439.45 L741.4 438.84 L745.29 440.07 L749.17 439.45 L753.06 440.07 L756.94 439.45 L760.83 438.84 L764.71 440.07 L768.6 439.45 L772.49 440.07 L776.37 439.45 L780.26 440.07 L784.14 439.45 L788.03 438.84 L791.91 440.07 L795.8 439.45 L799.69 440.07 L803.57 439.45 L807.46 440.07 L811.34 439.45 L813.29 439.76" fill="none" stroke="#1f4e86" stroke-width="6.3" stroke-linejoin="round"/>
<g fill="#fff" stroke="#1f4e86" stroke-width="3.1">
<circle cx="177" cy="437.61" r="10"/>
<circle cx="179.91" cy="435.76" r="10"/>
<circle cx="182.83" cy="438.84" r="10"/>
<circle cx="185.74" cy="436.99" r="10"/>
<circle cx="188.66" cy="438.22" r="10"/>
<circle cx="191.57" cy="379.75" r="10"/>
<circle cx="193.03" cy="440.07" r="10"/>
<circle cx="196.43" cy="437.61" r="10"/>
<circle cx="200.31" cy="439.45" r="10"/>
<circle cx="204.2" cy="436.38" r="10"/>
<circle cx="208.09" cy="438.84" r="10"/>
<circle cx="211.97" cy="437.61" r="10"/>
<circle cx="215.86" cy="440.07" r="10"/>
<circle cx="219.74" cy="436.99" r="10"/>
<circle cx="223.63" cy="438.84" r="10"/>
<circle cx="227.51" cy="439.45" r="10"/>
<circle cx="231.4" cy="438.22" r="10"/>
<circle cx="235.29" cy="440.07" r="10"/>
<circle cx="236.74" cy="440.68" r="10"/>
<circle cx="241.11" cy="379.75" r="10"/>
<circle cx="246.46" cy="439.45" r="10"/>
<circle cx="249.86" cy="438.84" r="10"/>
<circle cx="251.8" cy="440.68" r="10"/>
<circle cx="255.69" cy="439.45" r="10"/>
<circle cx="259.57" cy="437.61" r="10"/>
<circle cx="263.46" cy="440.07" r="10"/>
<circle cx="267.34" cy="419.76" r="10"/>
<circle cx="271.23" cy="436.38" r="10"/>
<circle cx="275.11" cy="438.84" r="10"/>
<circle cx="278.03" cy="440.07" r="10"/>
<circle cx="281.53" cy="440.68" r="10"/>
<circle cx="284.44" cy="117.55" r="10"/>
<circle cx="287.55" cy="439.45" r="10"/>
<circle cx="289.69" cy="435.15" r="10"/>
<circle cx="294.54" cy="419.76" r="10"/>
<circle cx="297.46" cy="437.61" r="10"/>
<circle cx="301.34" cy="388.98" r="10"/>
<circle cx="304.26" cy="435.15" r="10"/>
<circle cx="307.17" cy="437.61" r="10"/>
<circle cx="311.06" cy="432.68" r="10"/>
<circle cx="314.94" cy="437.61" r="10"/>
<circle cx="319.8" cy="295.43" r="10"/>
<circle cx="324.66" cy="414.22" r="10"/>
<circle cx="328.54" cy="436.38" r="10"/>
<circle cx="332.43" cy="437.61" r="10"/>
<circle cx="338.94" cy="419.76" r="10"/>
<circle cx="344.09" cy="433.91" r="10"/>
<circle cx="350.89" cy="426.53" r="10"/>
<circle cx="367.4" cy="379.13" r="10"/>
<circle cx="392.66" cy="380.67" r="10"/>
<circle cx="412.57" cy="419.76" r="10"/>
<circle cx="427.63" cy="419.76" r="10"/>
<circle cx="448.03" cy="424.99" r="10"/>
<circle cx="467.46" cy="429.61" r="10"/>
<circle cx="478.73" cy="427.14" r="10"/>
<circle cx="485.91" cy="436.99" r="10"/>
<circle cx="490.77" cy="438.84" r="10"/>
<circle cx="495.63" cy="437.61" r="10"/>
<circle cx="500.49" cy="439.45" r="10"/>
<circle cx="505.34" cy="438.84" r="10"/>
<circle cx="510.2" cy="438.22" r="10"/>
<circle cx="515.06" cy="439.45" r="10"/>
<circle cx="519.91" cy="437.61" r="10"/>
<circle cx="524.77" cy="438.84" r="10"/>
<circle cx="529.63" cy="435.15" r="10"/>
<circle cx="533.51" cy="438.22" r="10"/>
<circle cx="537.4" cy="439.45" r="10"/>
<circle cx="542.26" cy="438.84" r="10"/>
<circle cx="547.11" cy="440.07" r="10"/>
<circle cx="551.97" cy="439.45" r="10"/>
<circle cx="556.83" cy="438.84" r="10"/>
<circle cx="561.69" cy="440.07" r="10"/>
<circle cx="566.54" cy="439.45" r="10"/>
<circle cx="571.4" cy="438.84" r="10"/>
<circle cx="576.26" cy="440.07" r="10"/>
<circle cx="581.11" cy="439.45" r="10"/>
<circle cx="585.97" cy="438.84" r="10"/>
<circle cx="590.83" cy="440.07" r="10"/>
<circle cx="595.69" cy="439.45" r="10"/>
<circle cx="600.54" cy="438.84" r="10"/>
<circle cx="605.4" cy="440.07" r="10"/>
<circle cx="610.26" cy="439.45" r="10"/>
<circle cx="615.11" cy="440.07" r="10"/>
<circle cx="619.97" cy="439.45" r="10"/>
<circle cx="624.83" cy="440.07" r="10"/>
<circle cx="629.69" cy="439.45" r="10"/>
<circle cx="634.54" cy="440.07" r="10"/>
<circle cx="639.4" cy="439.45" r="10"/>
<circle cx="644.26" cy="440.07" r="10"/>
<circle cx="649.11" cy="439.45" r="10"/>
<circle cx="653.97" cy="440.07" r="10"/>
<circle cx="658.83" cy="439.45" r="10"/>
<circle cx="663.69" cy="440.07" r="10"/>
<circle cx="668.54" cy="439.45" r="10"/>
<circle cx="673.4" cy="440.07" r="10"/>
<circle cx="678.26" cy="439.45" r="10"/>
<circle cx="683.11" cy="440.07" r="10"/>
<circle cx="687.97" cy="439.45" r="10"/>
<circle cx="692.83" cy="440.07" r="10"/>
<circle cx="697.69" cy="439.45" r="10"/>
<circle cx="702.54" cy="440.07" r="10"/>
<circle cx="706.43" cy="439.45" r="10"/>
<circle cx="710.31" cy="440.07" r="10"/>
<circle cx="714.2" cy="439.45" r="10"/>
<circle cx="718.09" cy="440.07" r="10"/>
<circle cx="721.97" cy="438.84" r="10"/>
<circle cx="725.86" cy="440.07" r="10"/>
<circle cx="729.74" cy="439.45" r="10"/>
<circle cx="733.63" cy="440.07" r="10"/>
<circle cx="737.51" cy="439.45" r="10"/>
<circle cx="741.4" cy="438.84" r="10"/>
<circle cx="745.29" cy="440.07" r="10"/>
<circle cx="749.17" cy="439.45" r="10"/>
<circle cx="753.06" cy="440.07" r="10"/>
<circle cx="756.94" cy="439.45" r="10"/>
<circle cx="760.83" cy="438.84" r="10"/>
<circle cx="764.71" cy="440.07" r="10"/>
<circle cx="768.6" cy="439.45" r="10"/>
<circle cx="772.49" cy="440.07" r="10"/>
<circle cx="776.37" cy="439.45" r="10"/>
<circle cx="780.26" cy="440.07" r="10"/>
<circle cx="784.14" cy="439.45" r="10"/>
<circle cx="788.03" cy="438.84" r="10"/>
<circle cx="791.91" cy="440.07" r="10"/>
<circle cx="795.8" cy="439.45" r="10"/>
<circle cx="799.69" cy="440.07" r="10"/>
<circle cx="803.57" cy="439.45" r="10"/>
<circle cx="807.46" cy="440.07" r="10"/>
<circle cx="811.34" cy="439.45" r="10"/>
<circle cx="813.29" cy="439.76" r="10"/>
</g>
<path d="M177 440.07 L179.91 438.22 L183.8 440.38 L186.71 434.53 L190.6 438.84 L194.49 432.07 L198.37 437.61 L202.26 440.07 L207.11 438.22 L211.97 440.68 L215.86 436.38 L220.71 432.07 L224.6 434.53 L229.46 429.61 L233.34 433.3 L236.26 436.99 L239.17 438.84 L244.03 440.07 L248.89 436.99 L253.74 438.84 L258.6 435.15 L263.46 439.45 L269.29 433.91 L274.14 438.22 L279 440.07 L283.86 436.38 L288.71 430.84 L293.57 435.15 L298.43 438.84 L304.26 432.68 L309.11 436.99 L313.97 438.84 L317.86 439.21 L322.71 439.7 L327.57 439.7 L332.43 439.21 L337.29 440.19 L342.14 439.45 L347 439.95 L351.86 440.19 L356.71 439.95 L361.57 440.19 L366.43 439.7 L371.29 439.45 L376.14 439.95 L381 439.45 L385.86 439.21 L390.71 440.19 L395.57 439.21 L402.37 437.61 L409.17 435.76 L415.97 436.99 L422.77 435.15 L429.57 436.38 L436.37 434.53 L443.17 435.76 L449.97 435.15 L456.77 436.38 L463.57 434.53 L470.37 435.76 L477.17 433.91 L483 434.53 L490.77 414.83 L503.4 379.75 L516.03 117.55 L535.46 411.76 L549.06 420.99 L556.83 433.3 L568.49 429.3 L577.23 437.61 L583.06 438.84 L587.91 438.22 L592.77 439.15 L597.63 438.53 L602.49 438.84 L607.34 438.22 L612.2 439.15 L617.06 438.53 L621.91 439.45 L626.77 438.84 L631.63 439.45 L636.49 438.53 L641.34 439.45 L646.2 438.84 L651.06 439.45 L655.91 438.53 L660.77 439.45 L665.63 438.84 L669.51 439.45 L673.4 438.53 L677.29 439.45 L681.17 438.84 L685.06 439.45 L689.91 439.15" fill="none" stroke="#c0504d" stroke-width="6.3" stroke-linejoin="round"/>
<g fill="#fff" stroke="#c0504d" stroke-width="3.1">
<circle cx="177" cy="440.07" r="10"/>
<circle cx="179.91" cy="438.22" r="10"/>
<circle cx="183.8" cy="440.38" r="10"/>
<circle cx="186.71" cy="434.53" r="10"/>
<circle cx="190.6" cy="438.84" r="10"/>
<circle cx="194.49" cy="432.07" r="10"/>
<circle cx="198.37" cy="437.61" r="10"/>
<circle cx="202.26" cy="440.07" r="10"/>
<circle cx="207.11" cy="438.22" r="10"/>
<circle cx="211.97" cy="440.68" r="10"/>
<circle cx="215.86" cy="436.38" r="10"/>
<circle cx="220.71" cy="432.07" r="10"/>
<circle cx="224.6" cy="434.53" r="10"/>
<circle cx="229.46" cy="429.61" r="10"/>
<circle cx="233.34" cy="433.3" r="10"/>
<circle cx="236.26" cy="436.99" r="10"/>
<circle cx="239.17" cy="438.84" r="10"/>
<circle cx="244.03" cy="440.07" r="10"/>
<circle cx="248.89" cy="436.99" r="10"/>
<circle cx="253.74" cy="438.84" r="10"/>
<circle cx="258.6" cy="435.15" r="10"/>
<circle cx="263.46" cy="439.45" r="10"/>
<circle cx="269.29" cy="433.91" r="10"/>
<circle cx="274.14" cy="438.22" r="10"/>
<circle cx="279" cy="440.07" r="10"/>
<circle cx="283.86" cy="436.38" r="10"/>
<circle cx="288.71" cy="430.84" r="10"/>
<circle cx="293.57" cy="435.15" r="10"/>
<circle cx="298.43" cy="438.84" r="10"/>
<circle cx="304.26" cy="432.68" r="10"/>
<circle cx="309.11" cy="436.99" r="10"/>
<circle cx="313.97" cy="438.84" r="10"/>
<circle cx="317.86" cy="439.21" r="10"/>
<circle cx="322.71" cy="439.7" r="10"/>
<circle cx="327.57" cy="439.7" r="10"/>
<circle cx="332.43" cy="439.21" r="10"/>
<circle cx="337.29" cy="440.19" r="10"/>
<circle cx="342.14" cy="439.45" r="10"/>
<circle cx="347" cy="439.95" r="10"/>
<circle cx="351.86" cy="440.19" r="10"/>
<circle cx="356.71" cy="439.95" r="10"/>
<circle cx="361.57" cy="440.19" r="10"/>
<circle cx="366.43" cy="439.7" r="10"/>
<circle cx="371.29" cy="439.45" r="10"/>
<circle cx="376.14" cy="439.95" r="10"/>
<circle cx="381" cy="439.45" r="10"/>
<circle cx="385.86" cy="439.21" r="10"/>
<circle cx="390.71" cy="440.19" r="10"/>
<circle cx="395.57" cy="439.21" r="10"/>
<circle cx="402.37" cy="437.61" r="10"/>
<circle cx="409.17" cy="435.76" r="10"/>
<circle cx="415.97" cy="436.99" r="10"/>
<circle cx="422.77" cy="435.15" r="10"/>
<circle cx="429.57" cy="436.38" r="10"/>
<circle cx="436.37" cy="434.53" r="10"/>
<circle cx="443.17" cy="435.76" r="10"/>
<circle cx="449.97" cy="435.15" r="10"/>
<circle cx="456.77" cy="436.38" r="10"/>
<circle cx="463.57" cy="434.53" r="10"/>
<circle cx="470.37" cy="435.76" r="10"/>
<circle cx="477.17" cy="433.91" r="10"/>
<circle cx="483" cy="434.53" r="10"/>
<circle cx="490.77" cy="414.83" r="10"/>
<circle cx="503.4" cy="379.75" r="10"/>
<circle cx="516.03" cy="117.55" r="10"/>
<circle cx="535.46" cy="411.76" r="10"/>
<circle cx="549.06" cy="420.99" r="10"/>
<circle cx="556.83" cy="433.3" r="10"/>
<circle cx="568.49" cy="429.3" r="10"/>
<circle cx="577.23" cy="437.61" r="10"/>
<circle cx="583.06" cy="438.84" r="10"/>
<circle cx="587.91" cy="438.22" r="10"/>
<circle cx="592.77" cy="439.15" r="10"/>
<circle cx="597.63" cy="438.53" r="10"/>
<circle cx="602.49" cy="438.84" r="10"/>
<circle cx="607.34" cy="438.22" r="10"/>
<circle cx="612.2" cy="439.15" r="10"/>
<circle cx="617.06" cy="438.53" r="10"/>
<circle cx="621.91" cy="439.45" r="10"/>
<circle cx="626.77" cy="438.84" r="10"/>
<circle cx="631.63" cy="439.45" r="10"/>
<circle cx="636.49" cy="438.53" r="10"/>
<circle cx="641.34" cy="439.45" r="10"/>
<circle cx="646.2" cy="438.84" r="10"/>
<circle cx="651.06" cy="439.45" r="10"/>
<circle cx="655.91" cy="438.53" r="10"/>
<circle cx="660.77" cy="439.45" r="10"/>
<circle cx="665.63" cy="438.84" r="10"/>
<circle cx="669.51" cy="439.45" r="10"/>
<circle cx="673.4" cy="438.53" r="10"/>
<circle cx="677.29" cy="439.45" r="10"/>
<circle cx="681.17" cy="438.84" r="10"/>
<circle cx="685.06" cy="439.45" r="10"/>
<circle cx="689.91" cy="439.15" r="10"/>
</g>
<text x="145.2" y="449.9" font-size="29" text-anchor="end" textLength="16.45" lengthAdjust="spacingAndGlyphs">0</text>
<text x="145.2" y="388.35" font-size="29" text-anchor="end" textLength="74.01" lengthAdjust="spacingAndGlyphs">1,000</text>
<text x="145.2" y="326.8" font-size="29" text-anchor="end" textLength="74.01" lengthAdjust="spacingAndGlyphs">2,000</text>
<text x="145.2" y="265.25" font-size="29" text-anchor="end" textLength="74.01" lengthAdjust="spacingAndGlyphs">3,000</text>
<text x="145.2" y="203.7" font-size="29" text-anchor="end" textLength="74.01" lengthAdjust="spacingAndGlyphs">4,000</text>
<text x="145.2" y="142.15" font-size="29" text-anchor="end" textLength="74.01" lengthAdjust="spacingAndGlyphs">5,000</text>
<text x="145.2" y="80.6" font-size="29" text-anchor="end" textLength="74.01" lengthAdjust="spacingAndGlyphs">6,000</text>
<text x="177" y="494.8" font-size="29" text-anchor="middle" textLength="16.69" lengthAdjust="spacingAndGlyphs">0</text>
<text x="274.14" y="494.8" font-size="29" text-anchor="middle" textLength="50.07" lengthAdjust="spacingAndGlyphs">100</text>
<text x="371.29" y="494.8" font-size="29" text-anchor="middle" textLength="50.07" lengthAdjust="spacingAndGlyphs">200</text>
<text x="468.43" y="494.8" font-size="29" text-anchor="middle" textLength="50.07" lengthAdjust="spacingAndGlyphs">300</text>
<text x="565.57" y="494.8" font-size="29" text-anchor="middle" textLength="50.07" lengthAdjust="spacingAndGlyphs">400</text>
<text x="662.71" y="494.8" font-size="29" text-anchor="middle" textLength="50.07" lengthAdjust="spacingAndGlyphs">500</text>
<text x="759.86" y="494.8" font-size="29" text-anchor="middle" textLength="50.07" lengthAdjust="spacingAndGlyphs">600</text>
<text x="857" y="494.8" font-size="29" text-anchor="middle" textLength="50.07" lengthAdjust="spacingAndGlyphs">700</text>
<text x="533.9" y="548.6" font-size="29.4" text-anchor="middle" textLength="111.2" lengthAdjust="spacingAndGlyphs">Time (d)</text>
<text transform="translate(36.7 263.5) rotate(-90)" text-anchor="middle" font-size="29.8" textLength="240.5" lengthAdjust="spacingAndGlyphs">Doubling Time (h)</text>
<line x1="196.3" y1="35.8" x2="244.6" y2="35.8" stroke="#c0504d" stroke-width="6.2"/>
<circle cx="220" cy="35.8" r="8.6" fill="#fff" stroke="#c0504d" stroke-width="3"/>
<text x="264" y="45" font-size="29" textLength="150" lengthAdjust="spacingAndGlyphs">HUN-BF-15</text>
<line x1="486" y1="35.8" x2="534.4" y2="35.8" stroke="#1f2f5a" stroke-width="6.2"/>
<circle cx="510" cy="35.8" r="8.6" fill="#fff" stroke="#1f2f5a" stroke-width="3.4"/>
<text x="553.4" y="45" font-size="29" textLength="150" lengthAdjust="spacingAndGlyphs">HUN-BF-13</text>
<text x="8.6" y="23.4" font-size="25.4" font-weight="bold" textLength="20.3" lengthAdjust="spacingAndGlyphs">A</text>
</g>
<g font-family='"Liberation Sans", sans-serif' fill="#000">
<path d="M1499.3 73.2 H2144.8 V454.4" fill="none" stroke="#000" stroke-width="3"/>
<path d="M1508.4 73.2 V444.4 H2144.8" fill="none" stroke="#000" stroke-width="3"/>
<line x1="1499.3" y1="444.4" x2="1508.4" y2="444.4" stroke="#000" stroke-width="3"/>
<line x1="1499.3" y1="382.53" x2="1508.4" y2="382.53" stroke="#000" stroke-width="3"/>
<line x1="1499.3" y1="320.67" x2="1508.4" y2="320.67" stroke="#000" stroke-width="3"/>
<line x1="1499.3" y1="258.8" x2="1508.4" y2="258.8" stroke="#000" stroke-width="3"/>
<line x1="1499.3" y1="196.93" x2="1508.4" y2="196.93" stroke="#000" stroke-width="3"/>
<line x1="1499.3" y1="135.07" x2="1508.4" y2="135.07" stroke="#000" stroke-width="3"/>
<line x1="1499.3" y1="73.2" x2="1508.4" y2="73.2" stroke="#000" stroke-width="3"/>
<line x1="1508.4" y1="444.4" x2="1508.4" y2="454.4" stroke="#000" stroke-width="3"/>
<line x1="1635.68" y1="444.4" x2="1635.68" y2="454.4" stroke="#000" stroke-width="3"/>
<line x1="1762.96" y1="444.4" x2="1762.96" y2="454.4" stroke="#000" stroke-width="3"/>
<line x1="1890.24" y1="444.4" x2="1890.24" y2="454.4" stroke="#000" stroke-width="3"/>
<line x1="2017.52" y1="444.4" x2="2017.52" y2="454.4" stroke="#000" stroke-width="3"/>
<line x1="2144.8" y1="444.4" x2="2144.8" y2="454.4" stroke="#000" stroke-width="3"/>
<path d="M1529.61 444.4 L1533.86 441.34 L1538.1 438.27 L1542.34 435.21 L1546.58 432.15 L1550.83 429.09 L1555.07 426.02 L1559.31 424.1 L1563.55 422.3 L1567.8 420.5 L1572.04 418.7 L1576.28 416.9 L1580.53 415.1 L1584.77 413.41 L1589.01 412 L1593.25 410.59 L1597.5 409.17 L1601.74 407.76 L1605.98 406.17 L1610.22 404.33 L1614.47 402.49 L1618.71 400.66 L1622.95 399.12 L1627.19 397.7 L1631.44 396.29 L1635.68 394.88 L1639.92 393.47 L1644.17 392.06 L1648.41 391.38 L1652.65 390.7 L1656.89 390.01 L1661.14 389.33 L1665.38 388.65 L1669.62 387.82 L1673.86 386.41 L1678.11 385 L1682.35 383.59 L1686.59 382.18 L1690.83 380.76 L1695.08 379.14 L1699.32 377.29 L1703.56 375.45 L1707.81 373.6 L1712.05 371.76 L1716.29 369.91 L1720.53 368.17 L1724.78 366.45 L1729.02 364.74 L1733.26 363.02 L1737.5 361.31 L1741.75 359.54 L1745.99 357.32 L1750.23 355.1 L1754.47 352.88 L1758.72 350.66 L1762.96 345.61 L1767.2 339.81 L1771.45 338.25 L1775.69 336.69 L1779.93 335.12 L1784.17 333.56 L1788.42 332 L1792.66 329.81 L1796.9 326.68 L1801.14 323.56 L1805.39 320.43 L1809.63 317.31 L1813.87 314.18 L1818.11 310.78 L1822.36 307.26 L1826.6 303.73 L1830.84 300.21 L1835.09 296.49 L1839.33 292.72 L1843.57 288.95 L1847.81 285.18 L1852.06 281.41 L1856.3 277.64 L1860.54 274.57 L1864.78 272.54 L1869.03 270.5 L1873.27 268.47 L1877.51 266.44 L1881.75 264.41 L1886 262.38 L1890.24 259.47 L1894.48 256.2 L1898.73 252.92 L1902.97 249.64 L1907.21 246.36 L1911.45 243.08 L1915.7 239.81 L1919.94 236.53 L1924.18 233.26 L1928.42 229.99 L1932.67 226.71 L1936.91 223.44 L1941.15 220.17 L1945.39 216.9 L1949.64 213.63 L1953.88 210.36 L1958.12 207.03 L1962.37 203.58 L1966.61 200.13 L1970.85 196.67 L1975.09 193.22 L1979.34 190.67 L1983.58 188.11 L1987.82 185.56 L1992.06 183.01 L1996.31 180.22 L2000.55 176.88 L2004.79 173.54 L2009.03 170.2 L2013.28 166.86 L2017.52 163.53 L2021.76 160.39 L2026.01 157.26 L2030.25 154.12 L2034.49 150.99 L2038.73 147.85 L2042.98 144.72" fill="none" stroke="#1f2f5a" stroke-width="4" stroke-linejoin="round"/>
<g fill="#fff" stroke="#1f2f5a" stroke-width="2.8">
<circle cx="1529.61" cy="444.4" r="10"/>
<circle cx="1533.86" cy="441.34" r="10"/>
<circle cx="1538.1" cy="438.27" r="10"/>
<circle cx="1542.34" cy="435.21" r="10"/>
<circle cx="1546.58" cy="432.15" r="10"/>
<circle cx="1550.83" cy="429.09" r="10"/>
<circle cx="1555.07" cy="426.02" r="10"/>
<circle cx="1559.31" cy="424.1" r="10"/>
<circle cx="1563.55" cy="422.3" r="10"/>
<circle cx="1567.8" cy="420.5" r="10"/>
<circle cx="1572.04" cy="418.7" r="10"/>
<circle cx="1576.28" cy="416.9" r="10"/>
<circle cx="1580.53" cy="415.1" r="10"/>
<circle cx="1584.77" cy="413.41" r="10"/>
<circle cx="1589.01" cy="412" r="10"/>
<circle cx="1593.25" cy="410.59" r="10"/>
<circle cx="1597.5" cy="409.17" r="10"/>
<circle cx="1601.74" cy="407.76" r="10"/>
<circle cx="1605.98" cy="406.17" r="10"/>
<circle cx="1610.22" cy="404.33" r="10"/>
<circle cx="1614.47" cy="402.49" r="10"/>
<circle cx="1618.71" cy="400.66" r="10"/>
<circle cx="1622.95" cy="399.12" r="10"/>
<circle cx="1627.19" cy="397.7" r="10"/>
<circle cx="1631.44" cy="396.29" r="10"/>
<circle cx="1635.68" cy="394.88" r="10"/>
<circle cx="1639.92" cy="393.47" r="10"/>
<circle cx="1644.17" cy="392.06" r="10"/>
<circle cx="1648.41" cy="391.38" r="10"/>
<circle cx="1652.65" cy="390.7" r="10"/>
<circle cx="1656.89" cy="390.01" r="10"/>
<circle cx="1661.14" cy="389.33" r="10"/>
<circle cx="1665.38" cy="388.65" r="10"/>
<circle cx="1669.62" cy="387.82" r="10"/>
<circle cx="1673.86" cy="386.41" r="10"/>
<circle cx="1678.11" cy="385" r="10"/>
<circle cx="1682.35" cy="383.59" r="10"/>
<circle cx="1686.59" cy="382.18" r="10"/>
<circle cx="1690.83" cy="380.76" r="10"/>
<circle cx="1695.08" cy="379.14" r="10"/>
<circle cx="1699.32" cy="377.29" r="10"/>
<circle cx="1703.56" cy="375.45" r="10"/>
<circle cx="1707.81" cy="373.6" r="10"/>
<circle cx="1712.05" cy="371.76" r="10"/>
<circle cx="1716.29" cy="369.91" r="10"/>
<circle cx="1720.53" cy="368.17" r="10"/>
<circle cx="1724.78" cy="366.45" r="10"/>
<circle cx="1729.02" cy="364.74" r="10"/>
<circle cx="1733.26" cy="363.02" r="10"/>
<circle cx="1737.5" cy="361.31" r="10"/>
<circle cx="1741.75" cy="359.54" r="10"/>
<circle cx="1745.99" cy="357.32" r="10"/>
<circle cx="1750.23" cy="355.1" r="10"/>
<circle cx="1754.47" cy="352.88" r="10"/>
<circle cx="1758.72" cy="350.66" r="10"/>
<circle cx="1762.96" cy="345.61" r="10"/>
<circle cx="1767.2" cy="339.81" r="10"/>
<circle cx="1771.45" cy="338.25" r="10"/>
<circle cx="1775.69" cy="336.69" r="10"/>
<circle cx="1779.93" cy="335.12" r="10"/>
<circle cx="1784.17" cy="333.56" r="10"/>
<circle cx="1788.42" cy="332" r="10"/>
<circle cx="1792.66" cy="329.81" r="10"/>
<circle cx="1796.9" cy="326.68" r="10"/>
<circle cx="1801.14" cy="323.56" r="10"/>
<circle cx="1805.39" cy="320.43" r="10"/>
<circle cx="1809.63" cy="317.31" r="10"/>
<circle cx="1813.87" cy="314.18" r="10"/>
<circle cx="1818.11" cy="310.78" r="10"/>
<circle cx="1822.36" cy="307.26" r="10"/>
<circle cx="1826.6" cy="303.73" r="10"/>
<circle cx="1830.84" cy="300.21" r="10"/>
<circle cx="1835.09" cy="296.49" r="10"/>
<circle cx="1839.33" cy="292.72" r="10"/>
<circle cx="1843.57" cy="288.95" r="10"/>
<circle cx="1847.81" cy="285.18" r="10"/>
<circle cx="1852.06" cy="281.41" r="10"/>
<circle cx="1856.3" cy="277.64" r="10"/>
<circle cx="1860.54" cy="274.57" r="10"/>
<circle cx="1864.78" cy="272.54" r="10"/>
<circle cx="1869.03" cy="270.5" r="10"/>
<circle cx="1873.27" cy="268.47" r="10"/>
<circle cx="1877.51" cy="266.44" r="10"/>
<circle cx="1881.75" cy="264.41" r="10"/>
<circle cx="1886" cy="262.38" r="10"/>
<circle cx="1890.24" cy="259.47" r="10"/>
<circle cx="1894.48" cy="256.2" r="10"/>
<circle cx="1898.73" cy="252.92" r="10"/>
<circle cx="1902.97" cy="249.64" r="10"/>
<circle cx="1907.21" cy="246.36" r="10"/>
<circle cx="1911.45" cy="243.08" r="10"/>
<circle cx="1915.7" cy="239.81" r="10"/>
<circle cx="1919.94" cy="236.53" r="10"/>
<circle cx="1924.18" cy="233.26" r="10"/>
<circle cx="1928.42" cy="229.99" r="10"/>
<circle cx="1932.67" cy="226.71" r="10"/>
<circle cx="1936.91" cy="223.44" r="10"/>
<circle cx="1941.15" cy="220.17" r="10"/>
<circle cx="1945.39" cy="216.9" r="10"/>
<circle cx="1949.64" cy="213.63" r="10"/>
<circle cx="1953.88" cy="210.36" r="10"/>
<circle cx="1958.12" cy="207.03" r="10"/>
<circle cx="1962.37" cy="203.58" r="10"/>
<circle cx="1966.61" cy="200.13" r="10"/>
<circle cx="1970.85" cy="196.67" r="10"/>
<circle cx="1975.09" cy="193.22" r="10"/>
<circle cx="1979.34" cy="190.67" r="10"/>
<circle cx="1983.58" cy="188.11" r="10"/>
<circle cx="1987.82" cy="185.56" r="10"/>
<circle cx="1992.06" cy="183.01" r="10"/>
<circle cx="1996.31" cy="180.22" r="10"/>
<circle cx="2000.55" cy="176.88" r="10"/>
<circle cx="2004.79" cy="173.54" r="10"/>
<circle cx="2009.03" cy="170.2" r="10"/>
<circle cx="2013.28" cy="166.86" r="10"/>
<circle cx="2017.52" cy="163.53" r="10"/>
<circle cx="2021.76" cy="160.39" r="10"/>
<circle cx="2026.01" cy="157.26" r="10"/>
<circle cx="2030.25" cy="154.12" r="10"/>
<circle cx="2034.49" cy="150.99" r="10"/>
<circle cx="2038.73" cy="147.85" r="10"/>
<circle cx="2042.98" cy="144.72" r="10"/>
</g>
<path d="M1512.64 443.16 L1516.89 440.07 L1521.13 436.98 L1525.37 433.88 L1529.61 430.92 L1533.86 428.14 L1538.1 425.36 L1542.34 422.58 L1546.58 419.8 L1550.83 417.72 L1555.07 416.33 L1559.31 414.94 L1563.55 413.56 L1567.8 412.17 L1572.04 409.92 L1576.28 407.11 L1580.53 404.3 L1584.77 401.6 L1589.01 399.18 L1593.25 396.76 L1597.5 394.33 L1601.74 391.91 L1605.98 388.93 L1610.22 385.12 L1614.47 381.3 L1618.71 377.49 L1622.95 373.95 L1627.19 370.52 L1631.44 367.09 L1635.68 363.66 L1639.92 360.23 L1644.17 356.8 L1648.41 353.66 L1652.65 350.52 L1656.89 347.39 L1661.14 344.25 L1665.38 341.12 L1669.62 338.09 L1673.86 335.48 L1678.11 332.88 L1682.35 330.27 L1686.59 327.67 L1690.83 325.06 L1695.08 322.14 L1699.32 318.89 L1703.56 315.64 L1707.81 312.39 L1712.05 309.5 L1716.29 306.96 L1720.53 304.42 L1724.78 301.88 L1729.02 299.52 L1733.26 297.23 L1737.5 294.95 L1741.75 292.66 L1745.99 291.75 L1750.23 291.17 L1754.47 290.6 L1758.72 288.64 L1762.96 286.67 L1767.2 284.63 L1771.45 281.86 L1775.69 279.1 L1779.93 276.33 L1784.17 273.43 L1788.42 270.24 L1792.66 267.05 L1796.9 263.86 L1801.14 260.34 L1805.39 256.5 L1809.63 252.66 L1813.87 248.82 L1818.11 245.18 L1822.36 241.62 L1826.6 238.07 L1831.69 233.81" fill="none" stroke="#c0504d" stroke-width="4" stroke-linejoin="round"/>
<g fill="#fff" stroke="#c0504d" stroke-width="2.8">
<circle cx="1512.64" cy="443.16" r="10"/>
<circle cx="1516.89" cy="440.07" r="10"/>
<circle cx="1521.13" cy="436.98" r="10"/>
<circle cx="1525.37" cy="433.88" r="10"/>
<circle cx="1529.61" cy="430.92" r="10"/>
<circle cx="1533.86" cy="428.14" r="10"/>
<circle cx="1538.1" cy="425.36" r="10"/>
<circle cx="1542.34" cy="422.58" r="10"/>
<circle cx="1546.58" cy="419.8" r="10"/>
<circle cx="1550.83" cy="417.72" r="10"/>
<circle cx="1555.07" cy="416.33" r="10"/>
<circle cx="1559.31" cy="414.94" r="10"/>
<circle cx="1563.55" cy="413.56" r="10"/>
<circle cx="1567.8" cy="412.17" r="10"/>
<circle cx="1572.04" cy="409.92" r="10"/>
<circle cx="1576.28" cy="407.11" r="10"/>
<circle cx="1580.53" cy="404.3" r="10"/>
<circle cx="1584.77" cy="401.6" r="10"/>
<circle cx="1589.01" cy="399.18" r="10"/>
<circle cx="1593.25" cy="396.76" r="10"/>
<circle cx="1597.5" cy="394.33" r="10"/>
<circle cx="1601.74" cy="391.91" r="10"/>
<circle cx="1605.98" cy="388.93" r="10"/>
<circle cx="1610.22" cy="385.12" r="10"/>
<circle cx="1614.47" cy="381.3" r="10"/>
<circle cx="1618.71" cy="377.49" r="10"/>
<circle cx="1622.95" cy="373.95" r="10"/>
<circle cx="1627.19" cy="370.52" r="10"/>
<circle cx="1631.44" cy="367.09" r="10"/>
<circle cx="1635.68" cy="363.66" r="10"/>
<circle cx="1639.92" cy="360.23" r="10"/>
<circle cx="1644.17" cy="356.8" r="10"/>
<circle cx="1648.41" cy="353.66" r="10"/>
<circle cx="1652.65" cy="350.52" r="10"/>
<circle cx="1656.89" cy="347.39" r="10"/>
<circle cx="1661.14" cy="344.25" r="10"/>
<circle cx="1665.38" cy="341.12" r="10"/>
<circle cx="1669.62" cy="338.09" r="10"/>
<circle cx="1673.86" cy="335.48" r="10"/>
<circle cx="1678.11" cy="332.88" r="10"/>
<circle cx="1682.35" cy="330.27" r="10"/>
<circle cx="1686.59" cy="327.67" r="10"/>
<circle cx="1690.83" cy="325.06" r="10"/>
<circle cx="1695.08" cy="322.14" r="10"/>
<circle cx="1699.32" cy="318.89" r="10"/>
<circle cx="1703.56" cy="315.64" r="10"/>
<circle cx="1707.81" cy="312.39" r="10"/>
<circle cx="1712.05" cy="309.5" r="10"/>
<circle cx="1716.29" cy="306.96" r="10"/>
<circle cx="1720.53" cy="304.42" r="10"/>
<circle cx="1724.78" cy="301.88" r="10"/>
<circle cx="1729.02" cy="299.52" r="10"/>
<circle cx="1733.26" cy="297.23" r="10"/>
<circle cx="1737.5" cy="294.95" r="10"/>
<circle cx="1741.75" cy="292.66" r="10"/>
<circle cx="1745.99" cy="291.75" r="10"/>
<circle cx="1750.23" cy="291.17" r="10"/>
<circle cx="1754.47" cy="290.6" r="10"/>
<circle cx="1758.72" cy="288.64" r="10"/>
<circle cx="1762.96" cy="286.67" r="10"/>
<circle cx="1767.2" cy="284.63" r="10"/>
<circle cx="1771.45" cy="281.86" r="10"/>
<circle cx="1775.69" cy="279.1" r="10"/>
<circle cx="1779.93" cy="276.33" r="10"/>
<circle cx="1784.17" cy="273.43" r="10"/>
<circle cx="1788.42" cy="270.24" r="10"/>
<circle cx="1792.66" cy="267.05" r="10"/>
<circle cx="1796.9" cy="263.86" r="10"/>
<circle cx="1801.14" cy="260.34" r="10"/>
<circle cx="1805.39" cy="256.5" r="10"/>
<circle cx="1809.63" cy="252.66" r="10"/>
<circle cx="1813.87" cy="248.82" r="10"/>
<circle cx="1818.11" cy="245.18" r="10"/>
<circle cx="1822.36" cy="241.62" r="10"/>
<circle cx="1826.6" cy="238.07" r="10"/>
<circle cx="1831.69" cy="233.81" r="10"/>
</g>
<text x="1478.3" y="453" font-size="29" text-anchor="end" textLength="16.45" lengthAdjust="spacingAndGlyphs">0</text>
<text x="1478.3" y="391.13" font-size="29" text-anchor="end" textLength="32.89" lengthAdjust="spacingAndGlyphs">50</text>
<text x="1478.3" y="329.27" font-size="29" text-anchor="end" textLength="49.34" lengthAdjust="spacingAndGlyphs">100</text>
<text x="1478.3" y="267.4" font-size="29" text-anchor="end" textLength="49.34" lengthAdjust="spacingAndGlyphs">150</text>
<text x="1478.3" y="205.53" font-size="29" text-anchor="end" textLength="49.34" lengthAdjust="spacingAndGlyphs">200</text>
<text x="1478.3" y="143.67" font-size="29" text-anchor="end" textLength="49.34" lengthAdjust="spacingAndGlyphs">250</text>
<text x="1478.3" y="81.8" font-size="29" text-anchor="end" textLength="49.34" lengthAdjust="spacingAndGlyphs">300</text>
<text x="1508.4" y="496.4" font-size="29" text-anchor="middle" textLength="16.85" lengthAdjust="spacingAndGlyphs">0</text>
<text x="1635.68" y="496.4" font-size="29" text-anchor="middle" textLength="33.7" lengthAdjust="spacingAndGlyphs">30</text>
<text x="1762.96" y="496.4" font-size="29" text-anchor="middle" textLength="33.7" lengthAdjust="spacingAndGlyphs">60</text>
<text x="1890.24" y="496.4" font-size="29" text-anchor="middle" textLength="33.7" lengthAdjust="spacingAndGlyphs">90</text>
<text x="2017.52" y="496.4" font-size="29" text-anchor="middle" textLength="50.55" lengthAdjust="spacingAndGlyphs">120</text>
<text x="2144.8" y="496.4" font-size="29" text-anchor="middle" textLength="50.55" lengthAdjust="spacingAndGlyphs">150</text>
<text x="1824.6" y="546.6" font-size="29.4" text-anchor="middle" textLength="106.9" lengthAdjust="spacingAndGlyphs">Passage</text>
<text transform="translate(1398.6 268.4) rotate(-90)" text-anchor="middle" font-size="29.8" textLength="393.2" lengthAdjust="spacingAndGlyphs">Accum. Population Doublings</text>
<line x1="1532.7" y1="35.5" x2="1580.9" y2="35.5" stroke="#c0504d" stroke-width="6.2"/>
<circle cx="1556.6" cy="35.5" r="8.6" fill="#fff" stroke="#c0504d" stroke-width="3"/>
<text x="1599.3" y="45" font-size="29" textLength="150.5" lengthAdjust="spacingAndGlyphs">HUN-BF-15</text>
<line x1="1821.8" y1="35.5" x2="1870" y2="35.5" stroke="#1f2f5a" stroke-width="6.2"/>
<circle cx="1846.8" cy="35.5" r="8.6" fill="#fff" stroke="#1f2f5a" stroke-width="3.4"/>
<text x="1888.6" y="45" font-size="29" textLength="150.5" lengthAdjust="spacingAndGlyphs">HUN-BF-13</text>
<text x="1377" y="23.2" font-size="25.4" font-weight="bold" textLength="21.6" lengthAdjust="spacingAndGlyphs">C</text>
</g>
<g font-family='"Liberation Sans", sans-serif' fill="#000">
<rect x="42.2" y="658.2" width="2106.8" height="4" fill="#000"/>
<rect x="42.2" y="698.8" width="2106.8" height="4" fill="#000"/>
<rect x="42.2" y="1734.8" width="2106.8" height="4" fill="#000"/>
<text x="0.2" y="692" font-size="28.6" font-weight="bold">D</text>
<text x="43.1" y="692" font-size="29.4" font-weight="bold" textLength="71.5" lengthAdjust="spacingAndGlyphs">Term</text>
<text x="1536" y="692" font-size="29.4" font-weight="bold" textLength="109" lengthAdjust="spacingAndGlyphs">Overlap</text>
<text x="1741.5" y="692" font-size="29.4" font-weight="bold" textLength="104.6" lengthAdjust="spacingAndGlyphs">P-value</text>
<text x="1960" y="692" font-size="29.4" font-weight="bold" textLength="165" lengthAdjust="spacingAndGlyphs">Adj. P-value</text>
<text x="43.3" y="734.8" font-size="31" textLength="584.4" lengthAdjust="spacingAndGlyphs">Protein Modification Process (GO:0036211)</text>
<text x="1536.2" y="734.8" font-size="31" textLength="114.15" lengthAdjust="spacingAndGlyphs">236/711</text>
<text x="1742" y="734.8" font-size="31" textLength="102.36" lengthAdjust="spacingAndGlyphs">9.1E-14</text>
<text x="1961" y="734.8" font-size="31" textLength="102.36" lengthAdjust="spacingAndGlyphs">3.6E-10</text>
<text x="43.3" y="777.99" font-size="31" textLength="896.1" lengthAdjust="spacingAndGlyphs">Positive Regulation Of DNA-templated Transcription (GO:0045893)</text>
<text x="1536.2" y="777.99" font-size="31" textLength="131.04" lengthAdjust="spacingAndGlyphs">373/1243</text>
<text x="1742" y="777.99" font-size="31" textLength="109.89" lengthAdjust="spacingAndGlyphs">1. 4E-13</text>
<text x="1961" y="777.99" font-size="31" textLength="102.36" lengthAdjust="spacingAndGlyphs">3.6E-10</text>
<text x="43.3" y="821.18" font-size="31" textLength="524.1" lengthAdjust="spacingAndGlyphs">Protein Phosphorylation (GO:0006468)</text>
<text x="1536.2" y="821.18" font-size="31" textLength="114.15" lengthAdjust="spacingAndGlyphs">171/500</text>
<text x="1742" y="821.18" font-size="31" textLength="102.36" lengthAdjust="spacingAndGlyphs">1.7E-11</text>
<text x="1961" y="821.18" font-size="31" textLength="102.36" lengthAdjust="spacingAndGlyphs">2.96E-8</text>
<text x="43.3" y="864.37" font-size="31" textLength="418" lengthAdjust="spacingAndGlyphs">Phosphorylation (GO:0016310)</text>
<text x="1536.2" y="864.37" font-size="31" textLength="114.15" lengthAdjust="spacingAndGlyphs">149/429</text>
<text x="1742" y="864.37" font-size="31" textLength="126.77" lengthAdjust="spacingAndGlyphs">9. 58E-11</text>
<text x="1961" y="864.37" font-size="31" textLength="85.48" lengthAdjust="spacingAndGlyphs">1.3E-7</text>
<text x="43.3" y="907.56" font-size="31" textLength="577.7" lengthAdjust="spacingAndGlyphs">Regulation Of Cell Migration (GO:0030334)</text>
<text x="1536.2" y="907.56" font-size="31" textLength="114.15" lengthAdjust="spacingAndGlyphs">149/434</text>
<text x="1742" y="907.56" font-size="31" textLength="102.36" lengthAdjust="spacingAndGlyphs">2.5E-10</text>
<text x="1961" y="907.56" font-size="31" textLength="85.48" lengthAdjust="spacingAndGlyphs">2.2E-7</text>
<text x="43.3" y="950.75" font-size="31" textLength="629.6" lengthAdjust="spacingAndGlyphs">Regulation Of Apoptotic Process (GO:0042981)</text>
<text x="1536.2" y="950.75" font-size="31" textLength="114.15" lengthAdjust="spacingAndGlyphs">221/705</text>
<text x="1742" y="950.75" font-size="31" textLength="102.36" lengthAdjust="spacingAndGlyphs">2.5E-10</text>
<text x="1961" y="950.75" font-size="31" textLength="85.48" lengthAdjust="spacingAndGlyphs">2.2E-7</text>
<text x="43.3" y="993.94" font-size="31" textLength="971.5" lengthAdjust="spacingAndGlyphs">Positive Regulation Of Transcription By RNA Polymerase II (GO:0045944)</text>
<text x="1536.2" y="993.94" font-size="31" textLength="114.15" lengthAdjust="spacingAndGlyphs">280/938</text>
<text x="1742" y="993.94" font-size="31" textLength="102.36" lengthAdjust="spacingAndGlyphs">3.4E-10</text>
<text x="1961" y="993.94" font-size="31" textLength="85.48" lengthAdjust="spacingAndGlyphs">2.5E-7</text>
<text x="43.3" y="1037.13" font-size="31" textLength="1216.9" lengthAdjust="spacingAndGlyphs">Regulation Of Transforming Growth Factor Beta Receptor Signaling Pathway (GO:0017015)</text>
<text x="1536.2" y="1037.13" font-size="31" textLength="97.27" lengthAdjust="spacingAndGlyphs">53/111</text>
<text x="1742" y="1037.13" font-size="31" textLength="102.36" lengthAdjust="spacingAndGlyphs">6.3E-10</text>
<text x="1961" y="1037.13" font-size="31" textLength="85.48" lengthAdjust="spacingAndGlyphs">4.0E-7</text>
<text x="43.3" y="1080.32" font-size="31" textLength="510.2" lengthAdjust="spacingAndGlyphs">DNA Damage Response (GO:0006974)</text>
<text x="1536.2" y="1080.32" font-size="31" textLength="114.15" lengthAdjust="spacingAndGlyphs">131/384</text>
<text x="1742" y="1080.32" font-size="31" textLength="85.48" lengthAdjust="spacingAndGlyphs">4.7E-9</text>
<text x="1961" y="1080.32" font-size="31" textLength="85.48" lengthAdjust="spacingAndGlyphs">2.7E-6</text>
<text x="43.3" y="1123.51" font-size="31" textLength="909.4" lengthAdjust="spacingAndGlyphs">Negative Regulation Of DNA-templated Transcription (GO:0045892)</text>
<text x="1536.2" y="1123.51" font-size="31" textLength="131.04" lengthAdjust="spacingAndGlyphs">294/1025</text>
<text x="1742" y="1123.51" font-size="31" textLength="85.48" lengthAdjust="spacingAndGlyphs">1.1E-8</text>
<text x="1961" y="1123.51" font-size="31" textLength="85.48" lengthAdjust="spacingAndGlyphs">5.3E-6</text>
<text x="43.3" y="1166.7" font-size="31" textLength="769.5" lengthAdjust="spacingAndGlyphs">Negative Regulation Of Cell Differentiation (GO:0045596)</text>
<text x="1536.2" y="1166.7" font-size="31" textLength="97.27" lengthAdjust="spacingAndGlyphs">80/207</text>
<text x="1742" y="1166.7" font-size="31" textLength="85.48" lengthAdjust="spacingAndGlyphs">1.1E-8</text>
<text x="1961" y="1166.7" font-size="31" textLength="85.48" lengthAdjust="spacingAndGlyphs">5.3E-6</text>
<text x="43.3" y="1209.89" font-size="31" textLength="1004.6" lengthAdjust="spacingAndGlyphs">Positive Regulation Of Nucleic Acid-Templated Transcription (GO:1903508)</text>
<text x="1536.2" y="1209.89" font-size="31" textLength="114.15" lengthAdjust="spacingAndGlyphs">175/557</text>
<text x="1742" y="1209.89" font-size="31" textLength="85.48" lengthAdjust="spacingAndGlyphs">1.6E-8</text>
<text x="1961" y="1209.89" font-size="31" textLength="85.48" lengthAdjust="spacingAndGlyphs">6.8E-6</text>
<text x="43.3" y="1253.08" font-size="31" textLength="398.7" lengthAdjust="spacingAndGlyphs">Axon Guidance (GO:0007411)</text>
<text x="1536.2" y="1253.08" font-size="31" textLength="97.27" lengthAdjust="spacingAndGlyphs">62/149</text>
<text x="1742" y="1253.08" font-size="31" textLength="85.48" lengthAdjust="spacingAndGlyphs">2.0E-8</text>
<text x="1961" y="1253.08" font-size="31" textLength="85.48" lengthAdjust="spacingAndGlyphs">8.0E-6</text>
<text x="43.3" y="1296.27" font-size="31" textLength="808.7" lengthAdjust="spacingAndGlyphs">Positive Regulation Of Wnt Signaling Pathway (GO:0030177)</text>
<text x="1536.2" y="1296.27" font-size="31" textLength="97.27" lengthAdjust="spacingAndGlyphs">49/109</text>
<text x="1742" y="1296.27" font-size="31" textLength="85.48" lengthAdjust="spacingAndGlyphs">3.2E-8</text>
<text x="1961" y="1296.27" font-size="31" textLength="85.48" lengthAdjust="spacingAndGlyphs">1.2E-5</text>
<text x="43.3" y="1339.46" font-size="31" textLength="1017.9" lengthAdjust="spacingAndGlyphs">Negative Regulation Of Nucleic Acid-Templated Transcription (GO:1903507)</text>
<text x="1536.2" y="1339.46" font-size="31" textLength="114.15" lengthAdjust="spacingAndGlyphs">147/456</text>
<text x="1742" y="1339.46" font-size="31" textLength="85.48" lengthAdjust="spacingAndGlyphs">3.8E-8</text>
<text x="1961" y="1339.46" font-size="31" textLength="85.48" lengthAdjust="spacingAndGlyphs">1.3E-5</text>
<text x="43.3" y="1382.65" font-size="31" textLength="579.5" lengthAdjust="spacingAndGlyphs">Peptidyl-Lysine Modification (GO:0018205)</text>
<text x="1536.2" y="1382.65" font-size="31" textLength="80.39" lengthAdjust="spacingAndGlyphs">43/94</text>
<text x="1742" y="1382.65" font-size="31" textLength="85.48" lengthAdjust="spacingAndGlyphs">1.2E-7</text>
<text x="1961" y="1382.65" font-size="31" textLength="102.36" lengthAdjust="spacingAndGlyphs">3.95E-5</text>
<text x="43.3" y="1425.84" font-size="31" textLength="858.1" lengthAdjust="spacingAndGlyphs">Regulation Of Transcription By RNA Polymerase II (GO:0006357)</text>
<text x="1536.2" y="1425.84" font-size="31" textLength="131.04" lengthAdjust="spacingAndGlyphs">526/2028</text>
<text x="1742" y="1425.84" font-size="31" textLength="102.36" lengthAdjust="spacingAndGlyphs">1.72E-7</text>
<text x="1961" y="1425.84" font-size="31" textLength="85.48" lengthAdjust="spacingAndGlyphs">5.0E-5</text>
<text x="43.3" y="1469.03" font-size="31" textLength="782.7" lengthAdjust="spacingAndGlyphs">Regulation Of DNA-templated Transcription (GO:0006355)</text>
<text x="1536.2" y="1469.03" font-size="31" textLength="131.04" lengthAdjust="spacingAndGlyphs">501/1922</text>
<text x="1742" y="1469.03" font-size="31" textLength="102.36" lengthAdjust="spacingAndGlyphs">1.82E-7</text>
<text x="1961" y="1469.03" font-size="31" textLength="85.48" lengthAdjust="spacingAndGlyphs">5.0E-5</text>
<text x="43.3" y="1512.22" font-size="31" textLength="756.5" lengthAdjust="spacingAndGlyphs">Negative Regulation Of Apoptotic Process (GO:0043066)</text>
<text x="1536.2" y="1512.22" font-size="31" textLength="114.15" lengthAdjust="spacingAndGlyphs">151/482</text>
<text x="1742" y="1512.22" font-size="31" textLength="102.36" lengthAdjust="spacingAndGlyphs">1.82E-7</text>
<text x="1961" y="1512.22" font-size="31" textLength="102.36" lengthAdjust="spacingAndGlyphs">5.04E-5</text>
<text x="43.3" y="1555.41" font-size="31" textLength="725.2" lengthAdjust="spacingAndGlyphs">Negative Regulation Of Cellular Process (GO:0048523)</text>
<text x="1536.2" y="1555.41" font-size="31" textLength="114.15" lengthAdjust="spacingAndGlyphs">165/537</text>
<text x="1742" y="1555.41" font-size="31" textLength="85.48" lengthAdjust="spacingAndGlyphs">2.1E-7</text>
<text x="1961" y="1555.41" font-size="31" textLength="85.48" lengthAdjust="spacingAndGlyphs">5.3E-5</text>
<text x="43.3" y="1598.6" font-size="31" textLength="1433.5" lengthAdjust="spacingAndGlyphs">Regulation Of Transmembrane Receptor Protein Serine/Threonine Kinase Signaling Pathway (GO:0090092)</text>
<text x="1536.2" y="1598.6" font-size="31" textLength="80.39" lengthAdjust="spacingAndGlyphs">20/31</text>
<text x="1742" y="1598.6" font-size="31" textLength="85.48" lengthAdjust="spacingAndGlyphs">2.8E-7</text>
<text x="1961" y="1598.6" font-size="31" textLength="85.48" lengthAdjust="spacingAndGlyphs">6.9E-5</text>
<text x="43.3" y="1641.79" font-size="31" textLength="835.1" lengthAdjust="spacingAndGlyphs">Regulation Of Canonical Wnt Signaling Pathway (GO:0060828)</text>
<text x="1536.2" y="1641.79" font-size="31" textLength="97.27" lengthAdjust="spacingAndGlyphs">76/207</text>
<text x="1742" y="1641.79" font-size="31" textLength="85.48" lengthAdjust="spacingAndGlyphs">3.1E-7</text>
<text x="1961" y="1641.79" font-size="31" textLength="85.48" lengthAdjust="spacingAndGlyphs">7.1E-5</text>
<text x="43.3" y="1684.98" font-size="31" textLength="894.3" lengthAdjust="spacingAndGlyphs">Negative Regulation Of Cell Population Proliferation (GO:0008285)</text>
<text x="1536.2" y="1684.98" font-size="31" textLength="114.15" lengthAdjust="spacingAndGlyphs">123/379</text>
<text x="1742" y="1684.98" font-size="31" textLength="85.48" lengthAdjust="spacingAndGlyphs">3.2E-7</text>
<text x="1961" y="1684.98" font-size="31" textLength="85.48" lengthAdjust="spacingAndGlyphs">7.1E-5</text>
<text x="43.3" y="1728.17" font-size="31" textLength="350.2" lengthAdjust="spacingAndGlyphs">DNA Repair (GO:0006281)</text>
<text x="1536.2" y="1728.17" font-size="31" textLength="97.27" lengthAdjust="spacingAndGlyphs">99/291</text>
<text x="1742" y="1728.17" font-size="31" textLength="85.48" lengthAdjust="spacingAndGlyphs">4.0E-7</text>
<text x="1961" y="1728.17" font-size="31" textLength="85.48" lengthAdjust="spacingAndGlyphs">8.6E-5</text>
</g>
</svg>
</body></html>
